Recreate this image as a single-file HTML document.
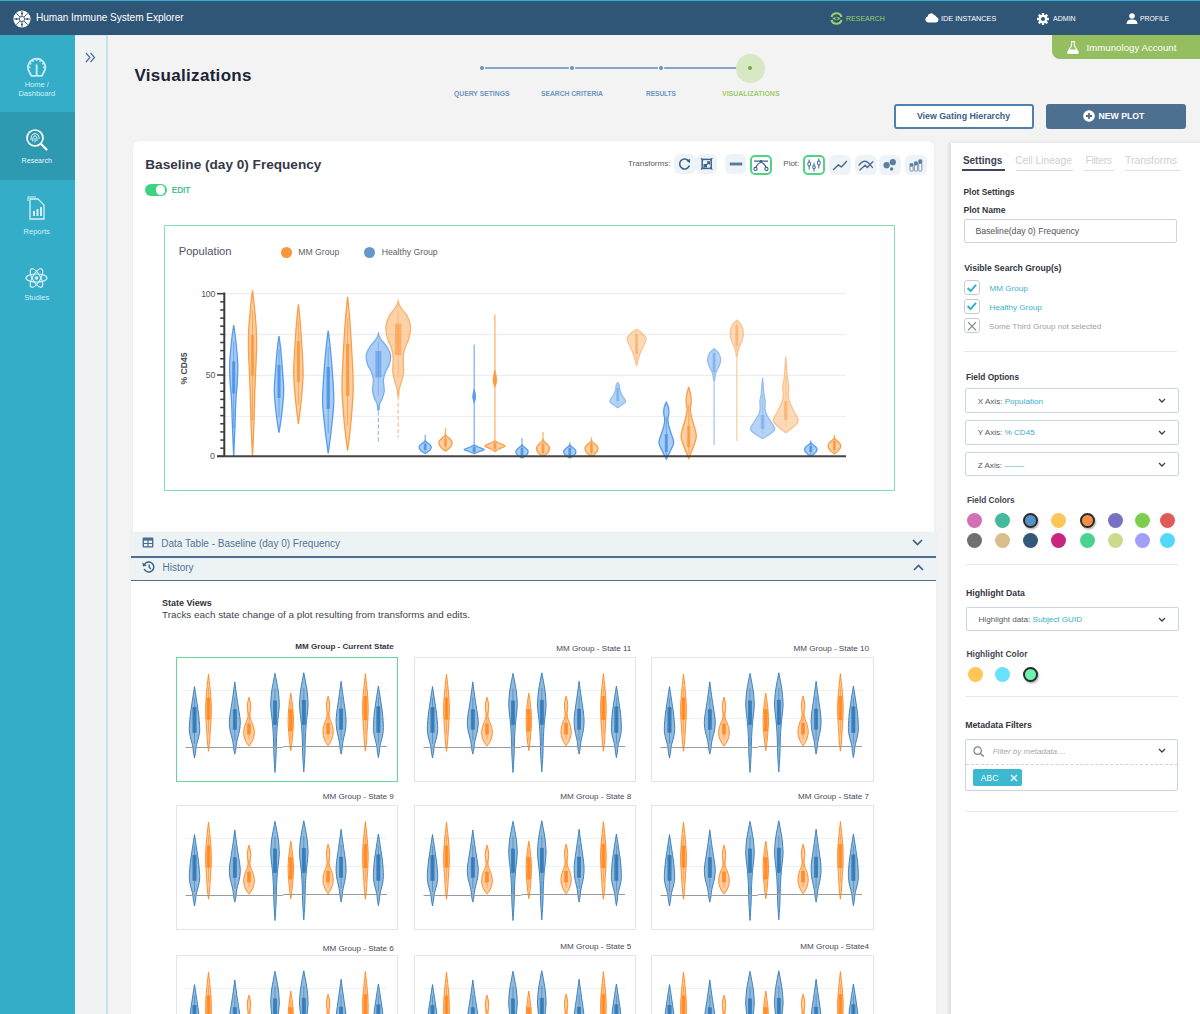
<!DOCTYPE html>
<html><head><meta charset="utf-8">
<style>
*{box-sizing:border-box;margin:0;padding:0}
html,body{width:1200px;height:1014px;overflow:hidden;background:#f3f3f3;font-family:"Liberation Sans",sans-serif;position:relative}
.a{position:absolute}
.t{position:absolute;white-space:nowrap;line-height:1}
svg{position:absolute;overflow:visible}
</style></head><body>

<!-- HEADER -->
<div class="a" style="left:0;top:0;width:1200px;height:35px;background:#2f5677"></div>
<div class="a" style="left:0;top:0;width:1200px;height:1.2px;background:#2fb0cc"></div>
<svg style="left:13px;top:10px" width="18" height="18" viewBox="0 0 18 18">
 <circle cx="9" cy="9" r="8.6" fill="#fff"/>
 <g stroke="#2f5677" stroke-width="0.9" fill="none">
  <line x1="9" y1="1" x2="9" y2="17"/><line x1="1" y1="9" x2="17" y2="9"/>
  <line x1="3.3" y1="3.3" x2="14.7" y2="14.7"/><line x1="14.7" y1="3.3" x2="3.3" y2="14.7"/>
 </g>
 <circle cx="9" cy="9" r="2.6" fill="#fff" stroke="#2f5677" stroke-width="0.9"/>
 <g fill="#2f5677"><circle cx="9" cy="3.6" r="1"/><circle cx="9" cy="14.4" r="1"/><circle cx="3.6" cy="9" r="1"/><circle cx="14.4" cy="9" r="1"/></g>
</svg>
<div class="t" id="apptitle" style="left:36px;top:13.4px;font-size:10.1px;color:#fff;letter-spacing:-0.04px">Human Immune System Explorer</div>

<!-- nav -->
<svg style="left:830px;top:11.5px" width="13" height="13" viewBox="0 0 13 13">
 <path d="M1.5 5 A5.2 5.2 0 0 1 11.5 5" stroke="#9fcd67" stroke-width="2.2" fill="none"/>
 <path d="M1.5 8 A5.2 5.2 0 0 0 11.5 8" stroke="#9fcd67" stroke-width="2.2" fill="none"/>
 <path d="M2.5 6.5 Q6.5 3 10.5 6.5 Q6.5 10 2.5 6.5Z" fill="#9fcd67"/>
 <circle cx="6.5" cy="6.5" r="1.3" fill="#2f5677"/>
</svg>
<div class="t" style="left:845.5px;top:15px;font-size:8px;color:#9fcd67;transform:scaleX(0.875);transform-origin:0 0">RESEARCH</div>
<svg style="left:925px;top:12px" width="14" height="11" viewBox="0 0 14 11">
 <path d="M3.2 10.5 A3 3 0 0 1 2.6 4.6 A3.6 3.6 0 0 1 9.2 3 A3 3 0 0 1 11.4 5 A2.8 2.8 0 0 1 11.2 10.5Z" fill="#fff"/>
</svg>
<div class="t" style="left:940.5px;top:15px;font-size:8px;color:#fff;transform:scaleX(0.91);transform-origin:0 0">IDE INSTANCES</div>
<svg style="left:1037px;top:12.5px" width="12" height="12" viewBox="0 0 12 12">
 <g fill="#fff"><circle cx="6" cy="6" r="4.2"/>
 <rect x="4.8" y="0" width="2.4" height="12" rx="0.5"/>
 <rect x="0" y="4.8" width="12" height="2.4" rx="0.5"/>
 <rect x="4.8" y="0" width="2.4" height="12" rx="0.5" transform="rotate(45 6 6)"/>
 <rect x="4.8" y="0" width="2.4" height="12" rx="0.5" transform="rotate(-45 6 6)"/></g>
 <circle cx="6" cy="6" r="2" fill="#2f5677"/>
</svg>
<div class="t" style="left:1052.5px;top:15px;font-size:8px;color:#fff;transform:scaleX(0.88);transform-origin:0 0">ADMIN</div>
<svg style="left:1125.5px;top:12.5px" width="12" height="11" viewBox="0 0 12 11">
 <circle cx="6" cy="3" r="2.8" fill="#fff"/>
 <path d="M0.5 11 Q0.5 6.6 6 6.6 Q11.5 6.6 11.5 11Z" fill="#fff"/>
</svg>
<div class="t" style="left:1140px;top:15px;font-size:8px;color:#fff;transform:scaleX(0.85);transform-origin:0 0">PROFILE</div>

<!-- account tab -->
<div class="a" style="left:1052px;top:35px;width:148px;height:23.5px;background:#94be5f;border-bottom-left-radius:8px"></div>
<svg style="left:1066.5px;top:40.5px" width="12" height="13" viewBox="0 0 12 13">
 <path d="M4 0.6 H8 M4.6 0.6 V4.6 L0.8 11 Q0.3 12.4 1.8 12.4 H10.2 Q11.7 12.4 11.2 11 L7.4 4.6 V0.6" stroke="#fff" stroke-width="1.1" fill="none"/>
 <path d="M2.6 8.6 H9.4 L11 11.4 Q11.2 12 10.4 12 H1.6 Q0.8 12 1 11.4Z" fill="#fff"/>
</svg>
<div class="t" style="left:1086.5px;top:43px;font-size:9.6px;color:#fff;letter-spacing:0.05px">Immunology Account</div>

<!-- SIDEBAR -->
<div class="a" style="left:0;top:35px;width:75px;height:979px;background:#33adc8"></div>
<div class="a" style="left:0;top:112px;width:75px;height:68px;background:#2e9ab2"></div>
<div class="a" style="left:75px;top:35px;width:33px;height:979px;background:#eff3f4;border-right:2px solid #c4e4ec;border-top:1px solid #cdeaf1"></div>
<svg style="left:85px;top:52px" width="11" height="11" viewBox="0 0 11 11">
 <path d="M1 1 L5 5.5 L1 10 M5.5 1 L9.5 5.5 L5.5 10" stroke="#4d6f92" stroke-width="1.2" fill="none"/>
</svg>


<!-- sidebar items -->
<svg style="left:27px;top:57.5px" width="20" height="19" viewBox="0 0 20 19">
 <path d="M4.4 17.9 L2.15 13.5 A8.6 8.6 0 1 1 17.15 13.5 L14.9 17.9 Z" stroke="#c6e9f1" stroke-width="1.9" fill="none" stroke-linejoin="round"/>
 <g stroke="#c6e9f1" stroke-width="1.5"><line x1="2.20" y1="5.00" x2="4.19" y2="6.15"/><line x1="5.35" y1="1.85" x2="6.50" y2="3.84"/><line x1="9.65" y1="0.70" x2="9.65" y2="3.00"/><line x1="13.95" y1="1.85" x2="12.80" y2="3.84"/><line x1="17.10" y1="5.00" x2="15.11" y2="6.15"/><line x1="18.25" y1="9.30" x2="15.95" y2="9.30"/><line x1="1.05" y1="9.30" x2="3.35" y2="9.30"/></g>
 <line x1="9.65" y1="6.4" x2="9.65" y2="18" stroke="#c6e9f1" stroke-width="1.9"/>
</svg>
<div class="t" style="left:0;width:73.5px;text-align:center;top:80.5px;font-size:7.5px;color:#d4eff5">Home /</div>
<div class="t" style="left:0;width:73.5px;text-align:center;top:89.5px;font-size:7.5px;color:#d4eff5">Dashboard</div>

<svg style="left:25px;top:128px" width="24" height="24" viewBox="0 0 24 24">
 <circle cx="10" cy="10" r="8" stroke="#fff" stroke-width="1.6" fill="none"/>
 <line x1="15.8" y1="15.8" x2="21.5" y2="21.5" stroke="#fff" stroke-width="2.2" stroke-linecap="round"/>
 <g stroke="#fff" stroke-width="0.9" fill="none"><path d="M6 12 Q5.5 6 10 5.6 Q14.4 6 14 11"/><path d="M7.8 13.6 Q7.4 8 10 7.8 Q12.4 8 12 13"/><path d="M10 10 V14.5"/></g>
</svg>
<div class="t" style="left:0;width:73.5px;text-align:center;top:158.3px;font-size:7.1px;color:#e6f5f8">Research</div>

<svg style="left:27px;top:196px" width="19" height="25" viewBox="0 0 19 25">
 <path d="M3 3 H11 L17 9 V23 H3 Z" stroke="#d4eff5" stroke-width="1.3" fill="none"/>
 <path d="M1 5 V1 H9" stroke="#d4eff5" stroke-width="1.1" fill="none"/>
 <rect x="6" y="15" width="2" height="5" fill="#d4eff5"/><rect x="9.5" y="13" width="2" height="7" fill="#d4eff5"/><rect x="13" y="11" width="2" height="9" fill="#d4eff5"/>
</svg>
<div class="t" style="left:0;width:73.5px;text-align:center;top:227.5px;font-size:7.5px;color:#d4eff5">Reports</div>

<svg style="left:25px;top:267px" width="23" height="22" viewBox="0 0 23 22">
 <g stroke="#d4eff5" stroke-width="1.2" fill="none">
 <ellipse cx="11.5" cy="11" rx="10.5" ry="4"/>
 <ellipse cx="11.5" cy="11" rx="10.5" ry="4" transform="rotate(60 11.5 11)"/>
 <ellipse cx="11.5" cy="11" rx="10.5" ry="4" transform="rotate(-60 11.5 11)"/></g>
 <circle cx="11.5" cy="11" r="1.8" fill="#d4eff5"/>
</svg>
<div class="t" style="left:0;width:73.5px;text-align:center;top:294px;font-size:7.5px;color:#d4eff5">Studies</div>

<!-- PAGE TITLE -->
<div class="t" style="left:134.5px;top:67.3px;font-size:17px;font-weight:700;letter-spacing:0.3px;color:#1b2436">Visualizations</div>

<!-- STEPPER -->
<div class="a" style="left:482px;top:67.3px;width:268px;height:2px;background:#86a6c6"></div>
<div class="a" style="left:736px;top:54px;width:28.6px;height:28.6px;border-radius:50%;background:#d6e9c3"></div>
<div class="a" style="left:480px;top:66.3px;width:4.2px;height:4.2px;border-radius:50%;background:#6a92bb;box-shadow:0 0 0 1.2px #f3f3f3"></div>
<div class="a" style="left:569.5px;top:66.3px;width:4.2px;height:4.2px;border-radius:50%;background:#6a92bb;box-shadow:0 0 0 1.2px #f3f3f3"></div>
<div class="a" style="left:658.5px;top:66.3px;width:4.2px;height:4.2px;border-radius:50%;background:#6a92bb;box-shadow:0 0 0 1.2px #f3f3f3"></div>
<div class="a" style="left:748px;top:66.3px;width:4.2px;height:4.2px;border-radius:50%;background:#74a84a"></div>
<div class="t" style="left:454.3px;top:89.5px;font-size:7px;font-weight:700;color:#6d95bd;transform:scaleX(0.97);transform-origin:0 0">QUERY SETINGS</div>
<div class="t" style="left:541px;top:89.5px;font-size:7px;font-weight:700;color:#6d95bd;transform:scaleX(0.96);transform-origin:0 0">SEARCH CRITERIA</div>
<div class="t" style="left:645.7px;top:89.5px;font-size:7px;font-weight:700;color:#6d95bd;transform:scaleX(0.93);transform-origin:0 0">RESULTS</div>
<div class="t" style="left:721.7px;top:89.5px;font-size:7px;font-weight:700;color:#9dcb6b;transform:scaleX(0.995);transform-origin:0 0">VISUALIZATIONS</div>

<!-- BUTTONS -->
<div class="a" style="left:893.5px;top:103.5px;width:140px;height:25.5px;border:2px solid #4e80b0;border-radius:3px;background:#fff;box-shadow:0 0 0 1px #fbefe6"></div>
<div class="t" style="left:893.5px;width:140px;text-align:center;top:112px;font-size:8.8px;font-weight:700;color:#3a6188">View Gating Hierarchy</div>
<div class="a" style="left:1045.5px;top:104px;width:140px;height:24.5px;border-radius:3px;background:#4d7090"></div>
<svg style="left:1083px;top:110px" width="12" height="12" viewBox="0 0 12 12">
 <circle cx="6" cy="6" r="5.8" fill="#fff"/>
 <path d="M6 3 V9 M3 6 H9" stroke="#4d7090" stroke-width="1.8"/>
</svg>
<div class="t" style="left:1098.5px;top:112px;font-size:8.7px;font-weight:700;color:#fff">NEW PLOT</div>

<!-- MAIN CARD -->
<div class="a" style="left:133px;top:141px;width:801px;height:400px;background:#fff;border-radius:6px 6px 0 0;box-shadow:0 0 2px rgba(0,0,0,0.06)"></div>
<div class="a" style="left:131px;top:532px;width:805px;height:490px;background:#fff;box-shadow:0 0 2px rgba(0,0,0,0.06)"></div>

<!-- RIGHT PANEL -->
<div class="a" style="left:951px;top:143px;width:260px;height:880px;background:#fff;box-shadow:-2px 0 3px rgba(0,0,0,0.10)"></div>


<!-- CARD HEADER -->
<div class="t" style="left:145.3px;top:157.6px;font-size:13.6px;font-weight:700;color:#343949">Baseline (day 0) Frequency</div>
<div class="a" style="left:144.5px;top:184px;width:22.5px;height:11.8px;border-radius:6px;background:#3dd383"></div>
<div class="a" style="left:155.8px;top:185.2px;width:9.6px;height:9.6px;border-radius:50%;background:#fff"></div>
<div class="t" style="left:171.7px;top:186.70px;font-size:8.2px;font-weight:700;color:#48c48a">EDIT</div>

<div class="t" style="left:628px;top:159.5px;font-size:8px;color:#555a66">Transforms:</div>
<div class="t" style="left:783.3px;top:159.5px;font-size:8px;color:#555a66">Plot:</div>
<div class="a" style="left:674px;top:154.3px;width:21.5px;height:20px;border-radius:6px;background:#edf3f6"></div>
<div class="a" style="left:695.5px;top:154.3px;width:21.5px;height:20px;border-radius:6px;background:#edf3f6"></div>
<div class="a" style="left:724.5px;top:154.3px;width:21.5px;height:20px;border-radius:6px;background:#edf3f6"></div>
<div class="a" style="left:750px;top:155px;width:22px;height:19.5px;border-radius:5px;background:#fff;border:2px solid #4fd483"></div>
<div class="a" style="left:803.3px;top:155px;width:21.5px;height:19.5px;border-radius:5px;background:#fff;border:2px solid #4fd483"></div>
<div class="a" style="left:828.7px;top:154.5px;width:22px;height:20px;border-radius:6px;background:#edf3f6"></div>
<div class="a" style="left:854.7px;top:154.5px;width:22px;height:20px;border-radius:6px;background:#edf3f6"></div>
<div class="a" style="left:879.3px;top:154.5px;width:22px;height:20px;border-radius:6px;background:#edf3f6"></div>
<div class="a" style="left:905.3px;top:154.5px;width:21.5px;height:20px;border-radius:6px;background:#edf3f6"></div>
<!-- toolbar icons -->
<svg style="left:674px;top:154.3px" width="22" height="20" viewBox="0 0 22 20">
 <path d="M14.8 7.2 A5 5 0 1 0 15.4 11.6" stroke="#3f6489" stroke-width="1.6" fill="none"/>
 <path d="M12.2 6.6 L16.2 5 L15.8 9.2 Z" fill="#3f6489"/>
</svg>
<svg style="left:695.5px;top:154.3px" width="22" height="20" viewBox="0 0 22 20">
 <rect x="6.2" y="5.4" width="9" height="9" stroke="#3f6489" stroke-width="1.5" fill="none"/>
 <path d="M5 4.2 L7.2 6.4 M16.4 4.2 L14.2 6.4 M5 15.6 L7.2 13.4 M16.4 15.6 L14.2 13.4" stroke="#3f6489" stroke-width="1.2"/>
 <path d="M9 12.4 L13.2 8.2 M11 8 H13.4 V10.4" stroke="#3f6489" stroke-width="1.3" fill="none"/>
 <rect x="7.5" y="10" width="3.5" height="3.5" fill="#3f6489"/>
</svg>
<svg style="left:724.5px;top:154.3px" width="22" height="20" viewBox="0 0 22 20">
 <rect x="4.8" y="8.6" width="12.4" height="2.8" fill="#4c6f93"/>
 <line x1="4.8" y1="10" x2="17.2" y2="10" stroke="#7d9ab6" stroke-width="0.5"/>
</svg>
<svg style="left:750px;top:155px" width="22" height="20" viewBox="0 0 22 20">
 <path d="M4 6.2 H18 M5.5 13 Q11 2 16.5 13" stroke="#3f6489" stroke-width="1.2" fill="none"/>
 <circle cx="11" cy="6.3" r="1.3" fill="#3f6489"/>
 <circle cx="5.5" cy="14" r="1.6" stroke="#3f6489" stroke-width="1.1" fill="#fff"/>
 <circle cx="16.5" cy="14" r="1.6" stroke="#3f6489" stroke-width="1.1" fill="#fff"/>
</svg>
<svg style="left:803.3px;top:155px" width="22" height="20" viewBox="0 0 22 20">
 <g stroke="#4a6fa0" stroke-width="1.1" fill="none">
 <line x1="6.2" y1="4.5" x2="6.2" y2="14.5"/><line x1="11" y1="7.8" x2="11" y2="16.5"/><line x1="15.8" y1="3.5" x2="15.8" y2="13.5"/>
 <ellipse cx="6.2" cy="9" rx="1.4" ry="2.1" fill="#fff"/><ellipse cx="11" cy="12.2" rx="1.3" ry="1.6" fill="#fff"/><ellipse cx="15.8" cy="8" rx="1.4" ry="2.1" fill="#fff"/></g>
</svg>
<svg style="left:828.7px;top:154.5px" width="22" height="20" viewBox="0 0 22 20">
 <path d="M4.5 14.5 L9.5 9.8 L12.4 12 L17.4 6.4" stroke="#4c6f93" stroke-width="1.5" fill="none" stroke-linecap="round" stroke-linejoin="round"/>
</svg>
<svg style="left:854.7px;top:154.5px" width="22" height="20" viewBox="0 0 22 20">
 <path d="M4 10 Q9.5 3.6 13.5 8 L17.4 12.4 M4.8 15 L10.2 10.2 L12.4 12.4 L17.8 6.8" stroke="#4c6f93" stroke-width="1.4" fill="none" stroke-linecap="round"/>
</svg>
<svg style="left:879.3px;top:154.5px" width="22" height="20" viewBox="0 0 22 20">
 <circle cx="7.6" cy="10.2" r="3.1" fill="#5a7da0"/><circle cx="13.8" cy="7.2" r="3.1" fill="#5a7da0"/><circle cx="12.6" cy="14" r="1.7" fill="#5a7da0"/>
</svg>
<svg style="left:905.3px;top:154.5px" width="22" height="20" viewBox="0 0 22 20">
 <g stroke="#5a7da0" stroke-width="0.8" fill="#fff"><rect x="5" y="8.6" width="3" height="7.4" rx="0.6"/><rect x="9.4" y="6.8" width="3" height="9.2" rx="0.6"/><rect x="13.8" y="4.8" width="3" height="11.2" rx="0.6"/></g>
 <rect x="5" y="8.6" width="3" height="3" fill="#5a7da0"/><rect x="9.4" y="6.8" width="3" height="3.6" fill="#5a7da0"/><rect x="13.8" y="4.8" width="3" height="4" fill="#5a7da0"/>
</svg>

<!-- CHART FRAME -->
<div class="a" style="left:164.3px;top:225.3px;width:731px;height:265.5px;border:1.5px solid #83e2ae"></div>
<div class="t" style="left:178.7px;top:246.2px;font-size:11.2px;color:#4e5466">Population</div>
<div class="a" style="left:280.7px;top:246.5px;width:11px;height:11px;border-radius:50%;background:#f7963a"></div>
<div class="t" style="left:298.2px;top:248px;font-size:8.7px;color:#5a5f6a">MM Group</div>
<div class="a" style="left:364px;top:246.5px;width:11px;height:11px;border-radius:50%;background:#6597cb"></div>
<div class="t" style="left:381.7px;top:248px;font-size:8.7px;color:#5a5f6a">Healthy Group</div>
<div class="t" style="left:200.5px;top:289.5px;font-size:8.8px;color:#555;width:14.5px;text-align:right;letter-spacing:-0.3px">100</div>
<div class="t" style="left:200.5px;top:371.3px;font-size:8.8px;color:#555;width:14.5px;text-align:right;letter-spacing:-0.3px">50</div>
<div class="t" style="left:200.5px;top:452.3px;font-size:8.8px;color:#555;width:14.5px;text-align:right">0</div>
<div class="t" style="left:154px;top:363.5px;width:60px;text-align:center;font-size:8.6px;font-weight:700;color:#4a4e58;transform:rotate(-90deg);transform-origin:30px 4.5px">% CD45</div>
<svg style="left:0;top:0" width="1200" height="1014" viewBox="0 0 1200 1014">
<line x1="225" y1="293.7" x2="846" y2="293.7" stroke="#eeeeee" stroke-width="1.3"/>
<line x1="225" y1="334.5" x2="846" y2="334.5" stroke="#eeeeee" stroke-width="1.3"/>
<line x1="225" y1="375.5" x2="846" y2="375.5" stroke="#eeeeee" stroke-width="1.3"/>
<line x1="225" y1="416.3" x2="846" y2="416.3" stroke="#eeeeee" stroke-width="1.3"/>
<path d="M233.70 325.00 C233.99 327.08 234.99 333.68 235.50 338.00 C236.01 342.32 236.53 347.52 236.90 352.00 C237.27 356.48 237.74 361.20 237.80 366.00 C237.86 370.80 237.60 376.56 237.30 382.00 C237.00 387.44 236.27 393.12 235.90 400.00 C235.53 406.88 235.35 415.88 235.00 425.00 C234.65 434.12 233.91 451.88 233.70 457.00 L233.70 457.00 C233.49 451.88 232.75 434.12 232.40 425.00 C232.05 415.88 231.87 406.88 231.50 400.00 C231.13 393.12 230.40 387.44 230.10 382.00 C229.80 376.56 229.54 370.80 229.60 366.00 C229.66 361.20 230.13 356.48 230.50 352.00 C230.87 347.52 231.39 342.32 231.90 338.00 C232.41 333.68 233.41 327.08 233.70 325.00 Z" fill="rgba(92,160,236,0.52)" stroke="#559cec" stroke-width="1.3"/>
<line x1="233.7" y1="341.43" x2="233.7" y2="428.34" stroke="#559cec" stroke-width="1" opacity="0.8"/>
<rect x="232.10" y="361.5" width="3.2" height="31.80" fill="rgba(70,142,228,0.8)"/>
<path d="M252.50 290.30 C252.85 293.45 254.09 303.65 254.70 310.00 C255.31 316.35 256.01 323.60 256.30 330.00 C256.59 336.40 256.60 343.60 256.50 350.00 C256.40 356.40 255.99 362.80 255.70 370.00 C255.41 377.20 254.99 386.20 254.70 395.00 C254.41 403.80 254.25 415.08 253.90 425.00 C253.55 434.92 252.72 451.88 252.50 457.00 L252.50 457.00 C252.28 451.88 251.45 434.92 251.10 425.00 C250.75 415.08 250.59 403.80 250.30 395.00 C250.01 386.20 249.59 377.20 249.30 370.00 C249.01 362.80 248.60 356.40 248.50 350.00 C248.40 343.60 248.41 336.40 248.70 330.00 C248.99 323.60 249.69 316.35 250.30 310.00 C250.91 303.65 252.15 293.45 252.50 290.30 Z" fill="rgba(251,163,80,0.52)" stroke="#fb9d45" stroke-width="1.3"/>
<line x1="252.5" y1="310.42" x2="252.5" y2="420.32" stroke="#fb9d45" stroke-width="1" opacity="0.8"/>
<rect x="250.90" y="335" width="3.2" height="40.50" fill="rgba(250,152,60,0.85)"/>
<path d="M279.00 336.00 C279.29 338.24 280.27 344.88 280.80 350.00 C281.33 355.12 281.84 361.60 282.30 368.00 C282.76 374.40 283.68 383.60 283.70 390.00 C283.72 396.40 282.83 403.20 282.40 408.00 C281.97 412.80 281.54 416.05 281.00 420.00 C280.46 423.95 279.32 430.67 279.00 432.70 L279.00 432.70 C278.68 430.67 277.54 423.95 277.00 420.00 C276.46 416.05 276.03 412.80 275.60 408.00 C275.17 403.20 274.28 396.40 274.30 390.00 C274.32 383.60 275.24 374.40 275.70 368.00 C276.16 361.60 276.67 355.12 277.20 350.00 C277.73 344.88 278.71 338.24 279.00 336.00 Z" fill="rgba(92,160,236,0.52)" stroke="#559cec" stroke-width="1.3"/>
<line x1="279" y1="349.05" x2="279" y2="417.08" stroke="#559cec" stroke-width="1" opacity="0.8"/>
<rect x="277.40" y="365" width="3.2" height="33.00" fill="rgba(70,142,228,0.8)"/>
<path d="M298.40 304.40 C298.69 307.22 299.66 315.50 300.20 322.00 C300.74 328.50 301.34 337.00 301.80 345.00 C302.26 353.00 303.07 364.48 303.10 372.00 C303.13 379.52 302.43 386.24 302.00 392.00 C301.57 397.76 300.98 402.88 300.40 408.00 C299.82 413.12 298.72 421.44 298.40 424.00 L298.40 424.00 C298.08 421.44 296.98 413.12 296.40 408.00 C295.82 402.88 295.23 397.76 294.80 392.00 C294.37 386.24 293.67 379.52 293.70 372.00 C293.73 364.48 294.54 353.00 295.00 345.00 C295.46 337.00 296.06 328.50 296.60 322.00 C297.14 315.50 298.11 307.22 298.40 304.40 Z" fill="rgba(251,163,80,0.52)" stroke="#fb9d45" stroke-width="1.3"/>
<line x1="298.4" y1="320.87" x2="298.4" y2="405.10" stroke="#fb9d45" stroke-width="1" opacity="0.8"/>
<rect x="296.80" y="341" width="3.2" height="41.00" fill="rgba(250,152,60,0.85)"/>
<path d="M328.20 330.60 C328.57 333.70 329.76 342.42 330.50 350.00 C331.24 357.58 332.27 369.68 332.80 378.00 C333.33 386.32 333.96 394.48 333.80 402.00 C333.64 409.52 332.41 418.92 331.80 425.00 C331.19 431.08 330.58 435.47 330.00 440.00 C329.42 444.53 328.49 451.17 328.20 453.30 L328.20 453.30 C327.91 451.17 326.98 444.53 326.40 440.00 C325.82 435.47 325.21 431.08 324.60 425.00 C323.99 418.92 322.76 409.52 322.60 402.00 C322.44 394.48 323.07 386.32 323.60 378.00 C324.13 369.68 325.16 357.58 325.90 350.00 C326.64 342.42 327.83 333.70 328.20 330.60 Z" fill="rgba(92,160,236,0.52)" stroke="#559cec" stroke-width="1.3"/>
<line x1="328.2" y1="346.98" x2="328.2" y2="433.37" stroke="#559cec" stroke-width="1" opacity="0.8"/>
<rect x="326.50" y="367" width="3.4" height="42.00" fill="rgba(70,142,228,0.8)"/>
<path d="M347.60 296.90 C347.95 300.60 349.13 311.18 349.80 320.00 C350.47 328.82 351.26 341.44 351.80 352.00 C352.34 362.56 353.23 375.92 353.20 386.00 C353.17 396.08 352.18 407.16 351.60 415.00 C351.02 422.84 350.24 429.32 349.60 435.00 C348.96 440.68 347.92 448.02 347.60 450.50 L347.60 450.50 C347.28 448.02 346.24 440.68 345.60 435.00 C344.96 429.32 344.18 422.84 343.60 415.00 C343.02 407.16 342.03 396.08 342.00 386.00 C341.97 375.92 342.86 362.56 343.40 352.00 C343.94 341.44 344.73 328.82 345.40 320.00 C346.07 311.18 347.25 300.60 347.60 296.90 Z" fill="rgba(251,163,80,0.52)" stroke="#fb9d45" stroke-width="1.3"/>
<line x1="347.6" y1="317.96" x2="347.6" y2="425.98" stroke="#fb9d45" stroke-width="1" opacity="0.8"/>
<rect x="345.90" y="343.7" width="3.4" height="52.30" fill="rgba(250,152,60,0.85)"/>
<line x1="378.4" y1="405" x2="378.4" y2="443" stroke="#78aeee" stroke-width="1.2" opacity="0.8" stroke-dasharray="4 2.5"/>
<path d="M378.40 333.40 C378.56 333.98 378.82 335.78 379.40 337.00 C379.98 338.22 380.78 339.40 382.00 341.00 C383.22 342.60 385.62 344.76 387.00 347.00 C388.38 349.24 390.22 352.28 390.60 355.00 C390.98 357.72 390.23 361.28 389.40 364.00 C388.57 366.72 386.36 369.44 385.40 372.00 C384.44 374.56 383.59 376.96 383.40 380.00 C383.21 383.04 384.42 387.96 384.20 391.00 C383.98 394.04 382.74 396.92 382.00 399.00 C381.26 401.08 380.08 402.24 379.60 404.00 C379.12 405.76 379.10 409.04 379.00 410.00 L377.80 410.00 C377.70 409.04 377.68 405.76 377.20 404.00 C376.72 402.24 375.54 401.08 374.80 399.00 C374.06 396.92 372.82 394.04 372.60 391.00 C372.38 387.96 373.59 383.04 373.40 380.00 C373.21 376.96 372.36 374.56 371.40 372.00 C370.44 369.44 368.23 366.72 367.40 364.00 C366.57 361.28 365.82 357.72 366.20 355.00 C366.58 352.28 368.42 349.24 369.80 347.00 C371.18 344.76 373.58 342.60 374.80 341.00 C376.02 339.40 376.82 338.22 377.40 337.00 C377.98 335.78 378.24 333.98 378.40 333.40 Z" fill="rgba(100,162,236,0.55)" stroke="#78aeee" stroke-width="1.3"/>
<line x1="378.4" y1="341.32" x2="378.4" y2="395.33" stroke="#78aeee" stroke-width="1" opacity="0.8"/>
<rect x="375.40" y="351" width="6" height="26.40" fill="rgba(84,152,230,0.6)"/>
<line x1="398.2" y1="390" x2="398.2" y2="437.4" stroke="#fbb070" stroke-width="1.2" opacity="0.8" stroke-dasharray="4 2.5"/>
<path d="M398.20 301.00 C398.36 301.56 398.62 303.22 399.20 304.50 C399.78 305.78 400.52 307.16 401.80 309.00 C403.08 310.84 405.79 313.12 407.20 316.00 C408.61 318.88 410.36 323.32 410.60 327.00 C410.84 330.68 409.64 335.48 408.70 339.00 C407.76 342.52 405.58 345.96 404.70 349.00 C403.82 352.04 403.38 354.32 403.20 358.00 C403.02 361.68 403.89 368.16 403.60 372.00 C403.31 375.84 402.10 379.28 401.40 382.00 C400.70 384.72 399.63 386.76 399.20 389.00 C398.77 391.24 398.78 394.88 398.70 396.00 L397.70 396.00 C397.62 394.88 397.63 391.24 397.20 389.00 C396.77 386.76 395.70 384.72 395.00 382.00 C394.30 379.28 393.09 375.84 392.80 372.00 C392.51 368.16 393.38 361.68 393.20 358.00 C393.02 354.32 392.58 352.04 391.70 349.00 C390.82 345.96 388.64 342.52 387.70 339.00 C386.76 335.48 385.56 330.68 385.80 327.00 C386.04 323.32 387.79 318.88 389.20 316.00 C390.61 313.12 393.32 310.84 394.60 309.00 C395.88 307.16 396.62 305.78 397.20 304.50 C397.78 303.22 398.04 301.56 398.20 301.00 Z" fill="rgba(252,168,90,0.52)" stroke="#fbb26e" stroke-width="1.3"/>
<line x1="398.2" y1="311.12" x2="398.2" y2="377.55" stroke="#fbb26e" stroke-width="1" opacity="0.8"/>
<rect x="395.00" y="323.5" width="6.4" height="31.50" fill="rgba(250,156,70,0.65)"/>
<line x1="425.2" y1="434.8" x2="425.2" y2="441" stroke="#559cec" stroke-width="1.2" opacity="0.8"/>
<path d="M425.20 440.50 C425.34 440.70 425.56 441.26 426.10 441.76 C426.64 442.26 427.85 443.01 428.60 443.65 C429.35 444.29 430.37 445.13 430.80 445.75 C431.23 446.37 431.40 446.84 431.30 447.50 C431.20 448.16 430.76 449.18 430.20 449.90 C429.64 450.62 428.60 451.42 427.80 452.00 C427.00 452.58 425.62 453.26 425.20 453.50 L425.20 453.50 C424.78 453.26 423.40 452.58 422.60 452.00 C421.80 451.42 420.76 450.62 420.20 449.90 C419.64 449.18 419.20 448.16 419.10 447.50 C419.00 446.84 419.17 446.37 419.60 445.75 C420.03 445.13 421.05 444.29 421.80 443.65 C422.55 443.01 423.76 442.26 424.30 441.76 C424.84 441.26 425.06 440.70 425.20 440.50 Z" fill="rgba(92,160,236,0.52)" stroke="#559cec" stroke-width="1.3"/>
<line x1="425.2" y1="442.07" x2="425.2" y2="451.93" stroke="#559cec" stroke-width="1" opacity="0.8"/>
<rect x="423.80" y="444" width="2.8" height="6.00" fill="rgba(70,142,228,0.8)"/>
<line x1="445.5" y1="427.8" x2="445.5" y2="434.8" stroke="#fb9d45" stroke-width="1.2" opacity="0.8"/>
<path d="M445.50 434.30 C445.64 434.55 445.81 435.24 446.40 435.87 C446.99 436.49 448.35 437.42 449.18 438.22 C450.00 439.01 451.09 440.06 451.56 440.82 C452.03 441.59 452.20 442.14 452.10 443.00 C452.00 443.86 451.52 445.24 450.91 446.20 C450.30 447.16 449.18 448.23 448.31 449.00 C447.45 449.77 445.95 450.68 445.50 451.00 L445.50 451.00 C445.05 450.68 443.55 449.77 442.69 449.00 C441.82 448.23 440.70 447.16 440.09 446.20 C439.48 445.24 439.00 443.86 438.90 443.00 C438.80 442.14 438.97 441.59 439.44 440.82 C439.91 440.06 441.00 439.01 441.82 438.22 C442.65 437.42 444.01 436.49 444.60 435.87 C445.19 435.24 445.36 434.55 445.50 434.30 Z" fill="rgba(251,163,80,0.52)" stroke="#fb9d45" stroke-width="1.3"/>
<line x1="445.5" y1="436.19" x2="445.5" y2="448.98" stroke="#fb9d45" stroke-width="1" opacity="0.8"/>
<rect x="444.10" y="438.5" width="2.8" height="8.00" fill="rgba(250,152,60,0.85)"/>
<line x1="474.2" y1="344.6" x2="474.2" y2="445" stroke="#559cec" stroke-width="1.2" opacity="0.8"/>
<path d="M474.20 445.00 C474.84 445.32 476.60 446.26 478.20 447.00 C479.80 447.74 484.04 448.88 484.20 449.60 C484.36 450.32 480.80 450.84 479.20 451.50 C477.60 452.16 475.00 453.35 474.20 453.70 L474.20 453.70 C473.40 453.35 470.80 452.16 469.20 451.50 C467.60 450.84 464.04 450.32 464.20 449.60 C464.36 448.88 468.60 447.74 470.20 447.00 C471.80 446.26 473.56 445.32 474.20 445.00 Z" fill="rgba(92,160,236,0.52)" stroke="#559cec" stroke-width="1.3"/>
<line x1="474.2" y1="445.90" x2="474.2" y2="452.94" stroke="#559cec" stroke-width="1" opacity="0.8"/>
<rect x="472.70" y="447" width="3" height="5.00" fill="rgba(70,142,228,0.8)"/>
<line x1="494.9" y1="314.4" x2="494.9" y2="440.9" stroke="#fb9d45" stroke-width="1.2" opacity="0.8"/>
<path d="M494.90 440.90 C495.54 441.24 497.30 442.18 498.90 443.00 C500.50 443.82 504.74 445.12 504.90 446.00 C505.06 446.88 501.50 447.64 499.90 448.50 C498.30 449.36 495.70 450.94 494.90 451.40 L494.90 451.40 C494.10 450.94 491.50 449.36 489.90 448.50 C488.30 447.64 484.74 446.88 484.90 446.00 C485.06 445.12 489.30 443.82 490.90 443.00 C492.50 442.18 494.26 441.24 494.90 440.90 Z" fill="rgba(251,163,80,0.52)" stroke="#fb9d45" stroke-width="1.3"/>
<line x1="494.9" y1="441.84" x2="494.9" y2="450.32" stroke="#fb9d45" stroke-width="1" opacity="0.8"/>
<rect x="493.40" y="443" width="3" height="6.00" fill="rgba(250,152,60,0.85)"/>
<line x1="522" y1="438.3" x2="522" y2="445.3" stroke="#559cec" stroke-width="1.2" opacity="0.8"/>
<path d="M522.00 444.80 C522.14 445.00 522.36 445.56 522.90 446.06 C523.44 446.56 524.65 447.31 525.40 447.95 C526.15 448.59 527.17 449.43 527.60 450.05 C528.03 450.67 528.20 451.12 528.10 451.80 C528.00 452.48 527.56 453.54 527.00 454.28 C526.44 455.02 525.40 455.85 524.60 456.45 C523.80 457.05 522.42 457.75 522.00 458.00 L522.00 458.00 C521.58 457.75 520.20 457.05 519.40 456.45 C518.60 455.85 517.56 455.02 517.00 454.28 C516.44 453.54 516.00 452.48 515.90 451.80 C515.80 451.12 515.97 450.67 516.40 450.05 C516.83 449.43 517.85 448.59 518.60 447.95 C519.35 447.31 520.56 446.56 521.10 446.06 C521.64 445.56 521.86 445.00 522.00 444.80 Z" fill="rgba(92,160,236,0.52)" stroke="#559cec" stroke-width="1.3"/>
<line x1="522" y1="446.24" x2="522" y2="456.65" stroke="#559cec" stroke-width="1" opacity="0.8"/>
<rect x="520.60" y="448" width="2.8" height="7.00" fill="rgba(70,142,228,0.8)"/>
<line x1="543" y1="432" x2="543" y2="440" stroke="#fb9d45" stroke-width="1.2" opacity="0.8"/>
<path d="M543.00 439.50 C543.14 439.77 543.32 440.50 543.90 441.17 C544.48 441.84 545.81 442.84 546.62 443.69 C547.43 444.53 548.51 445.66 548.97 446.48 C549.43 447.29 549.60 447.95 549.50 448.80 C549.40 449.65 548.92 450.90 548.33 451.80 C547.73 452.70 546.62 453.70 545.77 454.43 C544.92 455.15 543.44 456.00 543.00 456.30 L543.00 456.30 C542.56 456.00 541.08 455.15 540.23 454.43 C539.38 453.70 538.27 452.70 537.67 451.80 C537.08 450.90 536.60 449.65 536.50 448.80 C536.40 447.95 536.57 447.29 537.03 446.48 C537.49 445.66 538.57 444.53 539.38 443.69 C540.19 442.84 541.52 441.84 542.10 441.17 C542.68 440.50 542.86 439.77 543.00 439.50 Z" fill="rgba(251,163,80,0.52)" stroke="#fb9d45" stroke-width="1.3"/>
<line x1="543" y1="441.52" x2="543" y2="454.81" stroke="#fb9d45" stroke-width="1" opacity="0.8"/>
<rect x="541.60" y="444" width="2.8" height="9.00" fill="rgba(250,152,60,0.85)"/>
<line x1="569.8" y1="442.6" x2="569.8" y2="445.3" stroke="#559cec" stroke-width="1.2" opacity="0.8"/>
<path d="M569.80 444.80 C569.94 445.00 570.16 445.56 570.70 446.06 C571.24 446.56 572.45 447.31 573.20 447.95 C573.95 448.59 574.97 449.43 575.40 450.05 C575.83 450.67 576.00 451.12 575.90 451.80 C575.80 452.48 575.36 453.54 574.80 454.28 C574.24 455.02 573.20 455.85 572.40 456.45 C571.60 457.05 570.22 457.75 569.80 458.00 L569.80 458.00 C569.38 457.75 568.00 457.05 567.20 456.45 C566.40 455.85 565.36 455.02 564.80 454.28 C564.24 453.54 563.80 452.48 563.70 451.80 C563.60 451.12 563.77 450.67 564.20 450.05 C564.63 449.43 565.65 448.59 566.40 447.95 C567.15 447.31 568.36 446.56 568.90 446.06 C569.44 445.56 569.66 445.00 569.80 444.80 Z" fill="rgba(92,160,236,0.52)" stroke="#559cec" stroke-width="1.3"/>
<line x1="569.8" y1="446.24" x2="569.8" y2="456.65" stroke="#559cec" stroke-width="1" opacity="0.8"/>
<rect x="568.40" y="448" width="2.8" height="7.00" fill="rgba(70,142,228,0.8)"/>
<line x1="591.5" y1="437.4" x2="591.5" y2="440.9" stroke="#fb9d45" stroke-width="1.2" opacity="0.8"/>
<path d="M591.50 440.40 C591.64 440.64 591.82 441.31 592.40 441.91 C592.98 442.52 594.31 443.41 595.12 444.18 C595.93 444.95 597.01 445.96 597.47 446.70 C597.93 447.44 598.10 447.98 598.00 448.80 C597.90 449.62 597.42 450.90 596.83 451.80 C596.23 452.70 595.12 453.70 594.27 454.43 C593.42 455.15 591.94 456.00 591.50 456.30 L591.50 456.30 C591.06 456.00 589.58 455.15 588.73 454.43 C587.88 453.70 586.77 452.70 586.17 451.80 C585.58 450.90 585.10 449.62 585.00 448.80 C584.90 447.98 585.07 447.44 585.53 446.70 C585.99 445.96 587.07 444.95 587.88 444.18 C588.69 443.41 590.02 442.52 590.60 441.91 C591.18 441.31 591.36 440.64 591.50 440.40 Z" fill="rgba(251,163,80,0.52)" stroke="#fb9d45" stroke-width="1.3"/>
<line x1="591.5" y1="442.02" x2="591.5" y2="454.81" stroke="#fb9d45" stroke-width="1" opacity="0.8"/>
<rect x="590.10" y="444" width="2.8" height="9.00" fill="rgba(250,152,60,0.85)"/>
<path d="M617.70 382.60 C617.94 382.98 618.85 383.82 619.20 385.00 C619.55 386.18 619.47 388.40 619.90 390.00 C620.33 391.60 620.99 393.21 621.90 395.00 C622.81 396.79 625.55 399.68 625.60 401.20 C625.65 402.72 623.46 403.44 622.20 404.50 C620.94 405.56 618.42 407.27 617.70 407.80 L617.70 407.80 C616.98 407.27 614.46 405.56 613.20 404.50 C611.94 403.44 609.75 402.72 609.80 401.20 C609.85 399.68 612.59 396.79 613.50 395.00 C614.41 393.21 615.07 391.60 615.50 390.00 C615.93 388.40 615.85 386.18 616.20 385.00 C616.55 383.82 617.46 382.98 617.70 382.60 Z" fill="rgba(110,168,236,0.5)" stroke="#94c0f0" stroke-width="1.3"/>
<line x1="617.7" y1="385.03" x2="617.7" y2="404.74" stroke="#94c0f0" stroke-width="1" opacity="0.8"/>
<rect x="616.20" y="388" width="3" height="13.00" fill="rgba(96,158,232,0.45)"/>
<path d="M636.60 329.30 C637.24 329.73 639.08 330.54 640.60 332.00 C642.12 333.46 645.59 336.32 646.10 338.40 C646.61 340.48 644.68 342.82 643.80 345.00 C642.92 347.18 641.43 349.92 640.60 352.00 C639.77 354.08 639.24 355.76 638.60 358.00 C637.96 360.24 636.92 364.72 636.60 366.00 L636.60 366.00 C636.28 364.72 635.24 360.24 634.60 358.00 C633.96 355.76 633.43 354.08 632.60 352.00 C631.77 349.92 630.28 347.18 629.40 345.00 C628.52 342.82 626.59 340.48 627.10 338.40 C627.61 336.32 631.08 333.46 632.60 332.00 C634.12 330.54 635.96 329.73 636.60 329.30 Z" fill="rgba(252,172,98,0.45)" stroke="#fbc28c" stroke-width="1.3"/>
<line x1="636.6" y1="331.42" x2="636.6" y2="360.60" stroke="#fbc28c" stroke-width="1" opacity="0.8"/>
<rect x="635.10" y="334" width="3" height="20.00" fill="rgba(250,160,80,0.5)"/>
<path d="M666.30 402.30 C666.62 403.05 667.88 405.29 668.30 407.00 C668.72 408.71 668.96 411.08 668.90 413.00 C668.84 414.92 667.93 416.92 667.90 419.00 C667.87 421.08 668.16 423.60 668.70 426.00 C669.24 428.40 670.50 431.36 671.30 434.00 C672.10 436.64 673.78 439.94 673.70 442.50 C673.62 445.06 671.98 447.34 670.80 450.00 C669.62 452.66 667.02 457.64 666.30 459.10 L666.30 459.10 C665.58 457.64 662.98 452.66 661.80 450.00 C660.62 447.34 658.98 445.06 658.90 442.50 C658.82 439.94 660.50 436.64 661.30 434.00 C662.10 431.36 663.36 428.40 663.90 426.00 C664.44 423.60 664.73 421.08 664.70 419.00 C664.67 416.92 663.76 414.92 663.70 413.00 C663.64 411.08 663.88 408.71 664.30 407.00 C664.72 405.29 665.98 403.05 666.30 402.30 Z" fill="rgba(92,160,236,0.52)" stroke="#559cec" stroke-width="1.3"/>
<line x1="666.3" y1="416.56" x2="666.3" y2="455.91" stroke="#559cec" stroke-width="1" opacity="0.8"/>
<rect x="664.80" y="434" width="3" height="18.00" fill="rgba(70,142,228,0.8)"/>
<path d="M688.70 387.00 C689.02 388.28 690.28 392.60 690.70 395.00 C691.12 397.40 691.36 399.76 691.30 402.00 C691.24 404.24 690.24 406.44 690.30 409.00 C690.36 411.56 691.00 414.96 691.70 418.00 C692.40 421.04 693.96 424.96 694.70 428.00 C695.44 431.04 696.46 434.12 696.30 437.00 C696.14 439.88 694.92 442.59 693.70 446.00 C692.48 449.41 689.50 456.33 688.70 458.30 L688.70 458.30 C687.90 456.33 684.92 449.41 683.70 446.00 C682.48 442.59 681.26 439.88 681.10 437.00 C680.94 434.12 681.96 431.04 682.70 428.00 C683.44 424.96 685.00 421.04 685.70 418.00 C686.40 414.96 687.04 411.56 687.10 409.00 C687.16 406.44 686.16 404.24 686.10 402.00 C686.04 399.76 686.28 397.40 686.70 395.00 C687.12 392.60 688.38 388.28 688.70 387.00 Z" fill="rgba(251,163,80,0.52)" stroke="#fb9d45" stroke-width="1.3"/>
<line x1="688.7" y1="404.55" x2="688.7" y2="453.22" stroke="#fb9d45" stroke-width="1" opacity="0.8"/>
<rect x="687.20" y="426" width="3" height="21.00" fill="rgba(250,152,60,0.85)"/>
<line x1="714.1" y1="377" x2="714.1" y2="445" stroke="#8ab8ee" stroke-width="1.2" opacity="0.8"/>
<path d="M714.10 348.70 C714.82 349.39 717.54 351.24 718.60 353.00 C719.66 354.76 720.62 357.62 720.70 359.70 C720.78 361.78 719.84 364.03 719.10 366.00 C718.36 367.97 716.77 370.24 716.10 372.00 C715.43 373.76 715.14 375.72 714.90 377.00 C714.66 378.28 714.65 379.52 714.60 380.00 L713.60 380.00 C713.55 379.52 713.54 378.28 713.30 377.00 C713.06 375.72 712.77 373.76 712.10 372.00 C711.43 370.24 709.84 367.97 709.10 366.00 C708.36 364.03 707.42 361.78 707.50 359.70 C707.58 357.62 708.54 354.76 709.60 353.00 C710.66 351.24 713.38 349.39 714.10 348.70 Z" fill="rgba(110,168,236,0.5)" stroke="#94c0f0" stroke-width="1.3"/>
<line x1="714.1" y1="350.63" x2="714.1" y2="376.40" stroke="#94c0f0" stroke-width="1" opacity="0.8"/>
<rect x="712.60" y="353" width="3" height="19.00" fill="rgba(96,158,232,0.45)"/>
<line x1="736.8" y1="353" x2="736.8" y2="441" stroke="#fbbf88" stroke-width="1.2" opacity="0.8"/>
<path d="M736.80 320.30 C737.52 321.05 740.24 322.86 741.30 325.00 C742.36 327.14 743.32 331.14 743.40 333.70 C743.48 336.26 742.54 338.71 741.80 341.00 C741.06 343.29 739.47 346.08 738.80 348.00 C738.13 349.92 737.84 351.72 737.60 353.00 C737.36 354.28 737.35 355.52 737.30 356.00 L736.30 356.00 C736.25 355.52 736.24 354.28 736.00 353.00 C735.76 351.72 735.47 349.92 734.80 348.00 C734.13 346.08 732.54 343.29 731.80 341.00 C731.06 338.71 730.12 336.26 730.20 333.70 C730.28 331.14 731.24 327.14 732.30 325.00 C733.36 322.86 736.08 321.05 736.80 320.30 Z" fill="rgba(252,172,98,0.45)" stroke="#fbc28c" stroke-width="1.3"/>
<line x1="736.8" y1="322.42" x2="736.8" y2="351.50" stroke="#fbc28c" stroke-width="1" opacity="0.8"/>
<rect x="735.30" y="325" width="3" height="21.00" fill="rgba(250,160,80,0.5)"/>
<path d="M762.60 377.90 C762.84 380.59 763.67 390.97 764.10 394.70 C764.53 398.43 765.16 398.94 765.30 401.20 C765.44 403.46 764.76 406.59 765.00 408.80 C765.24 411.01 765.82 412.89 766.80 415.00 C767.78 417.11 769.82 419.78 771.10 422.00 C772.38 424.22 774.88 427.06 774.80 428.90 C774.72 430.74 772.55 431.93 770.60 433.50 C768.65 435.07 763.88 437.87 762.60 438.70 L762.60 438.70 C761.32 437.87 756.55 435.07 754.60 433.50 C752.65 431.93 750.48 430.74 750.40 428.90 C750.32 427.06 752.82 424.22 754.10 422.00 C755.38 419.78 757.42 417.11 758.40 415.00 C759.38 412.89 759.96 411.01 760.20 408.80 C760.44 406.59 759.76 403.46 759.90 401.20 C760.04 398.94 760.67 398.43 761.10 394.70 C761.53 390.97 762.36 380.59 762.60 377.90 Z" fill="rgba(110,168,236,0.5)" stroke="#94c0f0" stroke-width="1.3"/>
<line x1="762.6" y1="394.59" x2="762.6" y2="434.33" stroke="#94c0f0" stroke-width="1" opacity="0.8"/>
<rect x="760.80" y="415" width="3.6" height="14.00" fill="rgba(96,158,232,0.45)"/>
<path d="M785.80 356.70 C786.04 360.01 786.82 372.71 787.30 377.40 C787.78 382.09 788.64 383.06 788.80 386.00 C788.96 388.94 788.11 393.08 788.30 395.80 C788.49 398.52 789.04 400.41 790.00 403.00 C790.96 405.59 792.97 409.25 794.30 412.00 C795.63 414.75 798.22 418.04 798.30 420.20 C798.38 422.36 796.80 423.50 794.80 425.50 C792.80 427.50 787.24 431.55 785.80 432.70 L785.80 432.70 C784.36 431.55 778.80 427.50 776.80 425.50 C774.80 423.50 773.22 422.36 773.30 420.20 C773.38 418.04 775.97 414.75 777.30 412.00 C778.63 409.25 780.64 405.59 781.60 403.00 C782.56 400.41 783.11 398.52 783.30 395.80 C783.49 393.08 782.64 388.94 782.80 386.00 C782.96 383.06 783.82 382.09 784.30 377.40 C784.78 372.71 785.56 360.01 785.80 356.70 Z" fill="rgba(252,172,98,0.45)" stroke="#fbc28c" stroke-width="1.3"/>
<line x1="785.8" y1="376.63" x2="785.8" y2="426.99" stroke="#fbc28c" stroke-width="1" opacity="0.8"/>
<rect x="784.00" y="401" width="3.6" height="19.00" fill="rgba(250,160,80,0.5)"/>
<line x1="810.8" y1="440.3" x2="810.8" y2="443" stroke="#559cec" stroke-width="1.2" opacity="0.8"/>
<path d="M810.80 442.50 C810.94 442.70 811.15 443.27 811.70 443.78 C812.25 444.29 813.49 445.05 814.26 445.69 C815.02 446.34 816.05 447.20 816.49 447.83 C816.93 448.45 817.10 448.91 817.00 449.60 C816.90 450.29 816.45 451.39 815.88 452.16 C815.31 452.93 814.26 453.79 813.44 454.40 C812.63 455.01 811.22 455.74 810.80 456.00 L810.80 456.00 C810.38 455.74 808.97 455.01 808.16 454.40 C807.34 453.79 806.29 452.93 805.72 452.16 C805.15 451.39 804.70 450.29 804.60 449.60 C804.50 448.91 804.67 448.45 805.11 447.83 C805.55 447.20 806.58 446.34 807.34 445.69 C808.11 445.05 809.35 444.29 809.90 443.78 C810.45 443.27 810.66 442.70 810.80 442.50 Z" fill="rgba(92,160,236,0.52)" stroke="#559cec" stroke-width="1.3"/>
<line x1="810.8" y1="444.07" x2="810.8" y2="454.20" stroke="#559cec" stroke-width="1" opacity="0.8"/>
<rect x="809.40" y="446" width="2.8" height="6.00" fill="rgba(70,142,228,0.8)"/>
<line x1="834.4" y1="434.9" x2="834.4" y2="438.1" stroke="#fb9d45" stroke-width="1.2" opacity="0.8"/>
<path d="M834.40 437.60 C834.54 437.84 834.74 438.52 835.30 439.13 C835.86 439.74 837.13 440.65 837.91 441.43 C838.69 442.20 839.74 443.23 840.18 443.98 C840.63 444.72 840.80 445.27 840.70 446.10 C840.60 446.93 840.14 448.26 839.56 449.18 C838.99 450.10 837.91 451.14 837.09 451.88 C836.26 452.61 834.83 453.49 834.40 453.80 L834.40 453.80 C833.97 453.49 832.54 452.61 831.71 451.88 C830.89 451.14 829.81 450.10 829.24 449.18 C828.66 448.26 828.20 446.93 828.10 446.10 C828.00 445.27 828.17 444.72 828.62 443.98 C829.06 443.23 830.11 442.20 830.89 441.43 C831.67 440.65 832.94 439.74 833.50 439.13 C834.06 438.52 834.26 437.84 834.40 437.60 Z" fill="rgba(251,163,80,0.52)" stroke="#fb9d45" stroke-width="1.3"/>
<line x1="834.4" y1="439.13" x2="834.4" y2="452.09" stroke="#fb9d45" stroke-width="1" opacity="0.8"/>
<rect x="833.00" y="441" width="2.8" height="9.00" fill="rgba(250,152,60,0.85)"/>
<path d="M474.20 389.00 C474.36 389.64 474.96 391.72 475.20 393.00 C475.44 394.28 475.70 395.88 475.70 397.00 C475.70 398.12 475.44 399.04 475.20 400.00 C474.96 400.96 474.36 402.52 474.20 403.00 L474.20 403.00 C474.04 402.52 473.44 400.96 473.20 400.00 C472.96 399.04 472.70 398.12 472.70 397.00 C472.70 395.88 472.96 394.28 473.20 393.00 C473.44 391.72 474.04 389.64 474.20 389.00 Z" fill="#559cec" stroke="#559cec" stroke-width="0.8"/>
<path d="M494.90 370.00 C495.09 370.80 495.80 373.32 496.10 375.00 C496.40 376.68 496.80 379.06 496.80 380.50 C496.80 381.94 496.40 382.88 496.10 384.00 C495.80 385.12 495.09 386.94 494.90 387.50 L494.90 387.50 C494.71 386.94 494.00 385.12 493.70 384.00 C493.40 382.88 493.00 381.94 493.00 380.50 C493.00 379.06 493.40 376.68 493.70 375.00 C494.00 373.32 494.71 370.80 494.90 370.00 Z" fill="#fb9d45" stroke="#fb9d45" stroke-width="0.8"/>
<line x1="224.3" y1="292.5" x2="224.3" y2="457" stroke="#3a3a3a" stroke-width="2"/>
<line x1="217" y1="456.3" x2="846" y2="456.3" stroke="#444" stroke-width="2"/>
<line x1="217" y1="293.70" x2="224" y2="293.70" stroke="#3a3a3a" stroke-width="1.5"/>
<line x1="220.2" y1="301.83" x2="224" y2="301.83" stroke="#3a3a3a" stroke-width="1.5"/>
<line x1="220.2" y1="309.96" x2="224" y2="309.96" stroke="#3a3a3a" stroke-width="1.5"/>
<line x1="220.2" y1="318.09" x2="224" y2="318.09" stroke="#3a3a3a" stroke-width="1.5"/>
<line x1="220.2" y1="326.22" x2="224" y2="326.22" stroke="#3a3a3a" stroke-width="1.5"/>
<line x1="220.2" y1="334.35" x2="224" y2="334.35" stroke="#3a3a3a" stroke-width="1.5"/>
<line x1="220.2" y1="342.48" x2="224" y2="342.48" stroke="#3a3a3a" stroke-width="1.5"/>
<line x1="220.2" y1="350.61" x2="224" y2="350.61" stroke="#3a3a3a" stroke-width="1.5"/>
<line x1="220.2" y1="358.74" x2="224" y2="358.74" stroke="#3a3a3a" stroke-width="1.5"/>
<line x1="220.2" y1="366.87" x2="224" y2="366.87" stroke="#3a3a3a" stroke-width="1.5"/>
<line x1="217" y1="375.00" x2="224" y2="375.00" stroke="#3a3a3a" stroke-width="1.5"/>
<line x1="220.2" y1="383.13" x2="224" y2="383.13" stroke="#3a3a3a" stroke-width="1.5"/>
<line x1="220.2" y1="391.26" x2="224" y2="391.26" stroke="#3a3a3a" stroke-width="1.5"/>
<line x1="220.2" y1="399.39" x2="224" y2="399.39" stroke="#3a3a3a" stroke-width="1.5"/>
<line x1="220.2" y1="407.52" x2="224" y2="407.52" stroke="#3a3a3a" stroke-width="1.5"/>
<line x1="220.2" y1="415.65" x2="224" y2="415.65" stroke="#3a3a3a" stroke-width="1.5"/>
<line x1="220.2" y1="423.78" x2="224" y2="423.78" stroke="#3a3a3a" stroke-width="1.5"/>
<line x1="220.2" y1="431.91" x2="224" y2="431.91" stroke="#3a3a3a" stroke-width="1.5"/>
<line x1="220.2" y1="440.04" x2="224" y2="440.04" stroke="#3a3a3a" stroke-width="1.5"/>
<line x1="220.2" y1="448.17" x2="224" y2="448.17" stroke="#3a3a3a" stroke-width="1.5"/>
<line x1="217" y1="456.30" x2="224" y2="456.30" stroke="#3a3a3a" stroke-width="1.5"/>
</svg>

<!-- ACCORDION -->
<div class="a" style="left:131px;top:532px;width:805px;height:24px;background:#edf3f5"></div>
<div class="a" style="left:131px;top:555.9px;width:805px;height:1.8px;background:#4d6f91"></div>
<div class="a" style="left:131px;top:557.8px;width:805px;height:21.8px;background:#edf3f5"></div>
<div class="a" style="left:131px;top:579.5px;width:805px;height:1.8px;background:#4d6f91"></div>
<svg style="left:141.5px;top:537.3px" width="12" height="11" viewBox="0 0 12 11">
 <rect x="0.6" y="0.6" width="10.8" height="9.8" rx="1" fill="#4b6d8f"/>
 <rect x="2" y="3.6" width="3.4" height="2.4" fill="#edf3f5"/><rect x="6.6" y="3.6" width="3.4" height="2.4" fill="#edf3f5"/>
 <rect x="2" y="7" width="3.4" height="2.2" fill="#edf3f5"/><rect x="6.6" y="7" width="3.4" height="2.2" fill="#edf3f5"/>
</svg>
<div class="t" style="left:161.3px;top:539.00px;font-size:10px;color:#4f7397">Data Table - Baseline (day 0) Frequency</div>
<svg style="left:142px;top:561px" width="13" height="12" viewBox="0 0 13 12">
 <path d="M2.6 3.4 A5 5 0 1 1 2.2 8" stroke="#3a5f84" stroke-width="1.5" fill="none"/>
 <path d="M0.4 1.6 L1 5.4 L4.8 4.6 Z" fill="#3a5f84"/>
 <path d="M7.2 3.6 V6.4 L9 7.8" stroke="#3a5f84" stroke-width="1.3" fill="none"/>
</svg>
<div class="t" style="left:162.5px;top:562.5px;font-size:10px;color:#4f7397">History</div>
<svg style="left:912px;top:539px" width="11" height="7" viewBox="0 0 11 7">
 <path d="M1 1 L5.5 5.6 L10 1" stroke="#3d5f82" stroke-width="1.6" fill="none"/>
</svg>
<svg style="left:913px;top:563.5px" width="11" height="7" viewBox="0 0 11 7">
 <path d="M1 6 L5.5 1.4 L10 6" stroke="#3d5f82" stroke-width="1.6" fill="none"/>
</svg>

<!-- HISTORY -->
<div class="t" style="left:162px;top:598.80px;font-size:9px;font-weight:700;color:#2f3340">State Views</div>
<div class="t" style="left:162px;top:609.90px;font-size:9.9px;color:#3f434e">Tracks each state change of a plot resulting from transforms and edits.</div>
<div class="a" style="left:175.5px;top:656.5px;width:222.3px;height:125.2px;border:1.5px solid #62d99a;background:#fff"></div>
<svg style="left:175.5px;top:656.0px" width="222" height="126" viewBox="0 0 222 126"><line x1="9.5" y1="34.5" x2="211" y2="34.5" stroke="#f0f0f0" stroke-width="1"/>
<line x1="9.5" y1="62.5" x2="211" y2="62.5" stroke="#f0f0f0" stroke-width="1"/>
<path d="M18.50 30.60 C18.71 31.94 19.35 36.06 19.80 39.00 C20.25 41.94 20.84 45.80 21.30 49.00 C21.76 52.20 22.32 55.21 22.70 59.00 C23.08 62.79 23.67 69.34 23.70 72.70 C23.73 76.06 23.28 77.87 22.90 80.00 C22.52 82.13 21.75 84.24 21.30 86.00 C20.85 87.76 20.37 89.40 20.10 91.00 C19.83 92.60 19.86 94.24 19.60 96.00 C19.34 97.76 18.68 101.04 18.50 102.00 L18.50 102.00 C18.32 101.04 17.66 97.76 17.40 96.00 C17.14 94.24 17.17 92.60 16.90 91.00 C16.63 89.40 16.15 87.76 15.70 86.00 C15.25 84.24 14.48 82.13 14.10 80.00 C13.72 77.87 13.27 76.06 13.30 72.70 C13.33 69.34 13.92 62.79 14.30 59.00 C14.68 55.21 15.24 52.20 15.70 49.00 C16.16 45.80 16.75 41.94 17.20 39.00 C17.65 36.06 18.29 31.94 18.50 30.60 Z" fill="rgba(40,118,182,0.5)" stroke="#2e79bb" stroke-width="0.9"/>
<line x1="18.50" y1="42.04" x2="18.50" y2="87.97" stroke="#2e79bb" stroke-width="0.8" opacity="0.7"/>
<rect x="16.90" y="51.40" width="3.2" height="25.10" fill="rgba(36,112,178,0.75)" stroke="#2e79bb" stroke-width="0.6"/>
<path d="M32.50 18.20 C32.66 19.61 33.15 23.67 33.50 27.00 C33.85 30.33 34.40 34.73 34.70 39.00 C35.00 43.27 35.37 49.38 35.40 53.70 C35.43 58.02 35.11 62.11 34.90 66.00 C34.69 69.89 34.31 74.80 34.10 78.00 C33.89 81.20 33.86 83.25 33.60 86.00 C33.34 88.75 32.68 93.73 32.50 95.20 L32.50 95.20 C32.32 93.73 31.66 88.75 31.40 86.00 C31.14 83.25 31.11 81.20 30.90 78.00 C30.69 74.80 30.31 69.89 30.10 66.00 C29.89 62.11 29.57 58.02 29.60 53.70 C29.63 49.38 30.00 43.27 30.30 39.00 C30.60 34.73 31.15 30.33 31.50 27.00 C31.85 23.67 32.34 19.61 32.50 18.20 Z" fill="rgba(255,136,30,0.42)" stroke="#ff8417" stroke-width="0.9"/>
<line x1="32.50" y1="31.24" x2="32.50" y2="77.60" stroke="#ff8417" stroke-width="0.8" opacity="0.7"/>
<rect x="31.00" y="41.90" width="3" height="21.30" fill="rgba(255,128,20,0.75)" stroke="#ff8417" stroke-width="0.6"/>
<path d="M58.80 25.90 C59.01 27.52 59.59 32.30 60.10 36.00 C60.61 39.70 61.44 45.32 62.00 49.00 C62.56 52.68 63.23 56.15 63.60 59.00 C63.97 61.85 64.33 64.24 64.30 66.80 C64.27 69.36 63.83 72.57 63.40 75.00 C62.97 77.43 62.08 79.92 61.60 82.00 C61.12 84.08 60.67 86.24 60.40 88.00 C60.13 89.76 60.16 91.38 59.90 93.00 C59.64 94.62 58.98 97.28 58.80 98.10 L58.80 98.10 C58.62 97.28 57.96 94.62 57.70 93.00 C57.44 91.38 57.47 89.76 57.20 88.00 C56.93 86.24 56.48 84.08 56.00 82.00 C55.52 79.92 54.63 77.43 54.20 75.00 C53.77 72.57 53.33 69.36 53.30 66.80 C53.27 64.24 53.63 61.85 54.00 59.00 C54.37 56.15 55.04 52.68 55.60 49.00 C56.16 45.32 56.99 39.70 57.50 36.00 C58.01 32.30 58.59 27.52 58.80 25.90 Z" fill="rgba(40,118,182,0.5)" stroke="#2e79bb" stroke-width="0.9"/>
<line x1="58.80" y1="41.19" x2="58.80" y2="84.46" stroke="#2e79bb" stroke-width="0.8" opacity="0.7"/>
<rect x="57.20" y="53.70" width="3.2" height="19.60" fill="rgba(36,112,178,0.75)" stroke="#2e79bb" stroke-width="0.6"/>
<path d="M73.00 41.00 C73.16 41.64 73.76 43.88 74.00 45.00 C74.24 46.12 74.39 46.98 74.50 48.00 C74.61 49.02 74.73 50.28 74.70 51.40 C74.67 52.52 74.41 53.62 74.30 55.00 C74.19 56.38 73.92 58.56 74.00 60.00 C74.08 61.44 74.38 62.72 74.80 64.00 C75.22 65.28 76.09 66.56 76.60 68.00 C77.11 69.44 77.73 71.40 78.00 73.00 C78.27 74.60 78.43 76.40 78.30 78.00 C78.17 79.60 77.70 81.56 77.20 83.00 C76.70 84.44 75.87 85.85 75.20 87.00 C74.53 88.15 73.35 89.69 73.00 90.20 L73.00 90.20 C72.65 89.69 71.47 88.15 70.80 87.00 C70.13 85.85 69.30 84.44 68.80 83.00 C68.30 81.56 67.83 79.60 67.70 78.00 C67.57 76.40 67.73 74.60 68.00 73.00 C68.27 71.40 68.89 69.44 69.40 68.00 C69.91 66.56 70.78 65.28 71.20 64.00 C71.62 62.72 71.92 61.44 72.00 60.00 C72.08 58.56 71.81 56.38 71.70 55.00 C71.59 53.62 71.33 52.52 71.30 51.40 C71.27 50.28 71.39 49.02 71.50 48.00 C71.61 46.98 71.76 46.12 72.00 45.00 C72.24 43.88 72.84 41.64 73.00 41.00 Z" fill="rgba(255,136,30,0.42)" stroke="#ff8417" stroke-width="0.9"/>
<line x1="73.00" y1="55.85" x2="73.00" y2="83.49" stroke="#ff8417" stroke-width="0.8" opacity="0.7"/>
<rect x="71.60" y="68.00" width="2.8" height="10.00" fill="rgba(255,128,20,0.75)" stroke="#ff8417" stroke-width="0.6"/>
<path d="M99.00 17.30 C99.24 18.53 99.96 22.01 100.50 25.00 C101.04 27.99 101.95 32.16 102.40 36.00 C102.85 39.84 103.32 45.16 103.30 49.00 C103.28 52.84 102.62 56.64 102.30 60.00 C101.98 63.36 101.59 66.16 101.30 70.00 C101.01 73.84 100.69 79.36 100.50 84.00 C100.31 88.64 100.34 93.80 100.10 99.00 C99.86 104.20 99.18 113.70 99.00 116.50 L99.00 116.50 C98.82 113.70 98.14 104.20 97.90 99.00 C97.66 93.80 97.69 88.64 97.50 84.00 C97.31 79.36 96.99 73.84 96.70 70.00 C96.41 66.16 96.02 63.36 95.70 60.00 C95.38 56.64 94.72 52.84 94.70 49.00 C94.68 45.16 95.15 39.84 95.60 36.00 C96.05 32.16 96.96 27.99 97.50 25.00 C98.04 22.01 98.76 18.53 99.00 17.30 Z" fill="rgba(40,118,182,0.5)" stroke="#2e79bb" stroke-width="0.9"/>
<line x1="99.00" y1="32.48" x2="99.00" y2="90.10" stroke="#2e79bb" stroke-width="0.8" opacity="0.7"/>
<rect x="97.40" y="44.90" width="3.2" height="23.60" fill="rgba(36,112,178,0.75)" stroke="#2e79bb" stroke-width="0.6"/>
<path d="M114.80 37.10 C114.96 38.20 115.45 41.30 115.80 44.00 C116.15 46.70 116.73 50.54 117.00 54.00 C117.27 57.46 117.52 62.08 117.50 65.60 C117.48 69.12 117.14 72.74 116.90 76.00 C116.66 79.26 116.34 83.02 116.00 86.00 C115.66 88.98 114.99 93.22 114.80 94.60 L114.80 94.60 C114.61 93.22 113.94 88.98 113.60 86.00 C113.26 83.02 112.94 79.26 112.70 76.00 C112.46 72.74 112.12 69.12 112.10 65.60 C112.08 62.08 112.33 57.46 112.60 54.00 C112.87 50.54 113.45 46.70 113.80 44.00 C114.15 41.30 114.64 38.20 114.80 37.10 Z" fill="rgba(255,136,30,0.42)" stroke="#ff8417" stroke-width="0.9"/>
<line x1="114.80" y1="46.23" x2="114.80" y2="83.82" stroke="#ff8417" stroke-width="0.8" opacity="0.7"/>
<rect x="113.40" y="53.70" width="2.8" height="21.30" fill="rgba(255,128,20,0.75)" stroke="#ff8417" stroke-width="0.6"/>
<path d="M127.80 16.80 C128.04 18.03 128.76 21.43 129.30 24.50 C129.84 27.57 130.75 32.08 131.20 36.00 C131.65 39.92 132.12 45.16 132.10 49.00 C132.08 52.84 131.42 56.64 131.10 60.00 C130.78 63.36 130.39 66.16 130.10 70.00 C129.81 73.84 129.49 79.36 129.30 84.00 C129.11 88.64 129.14 93.90 128.90 99.00 C128.66 104.10 127.98 113.20 127.80 115.90 L127.80 115.90 C127.62 113.20 126.94 104.10 126.70 99.00 C126.46 93.90 126.49 88.64 126.30 84.00 C126.11 79.36 125.79 73.84 125.50 70.00 C125.21 66.16 124.82 63.36 124.50 60.00 C124.18 56.64 123.52 52.84 123.50 49.00 C123.48 45.16 123.95 39.92 124.40 36.00 C124.85 32.08 125.76 27.57 126.30 24.50 C126.84 21.43 127.56 18.03 127.80 16.80 Z" fill="rgba(40,118,182,0.5)" stroke="#2e79bb" stroke-width="0.9"/>
<line x1="127.80" y1="31.87" x2="127.80" y2="89.83" stroke="#2e79bb" stroke-width="0.8" opacity="0.7"/>
<rect x="126.20" y="44.20" width="3.2" height="24.30" fill="rgba(36,112,178,0.75)" stroke="#2e79bb" stroke-width="0.6"/>
<path d="M152.10 40.10 C152.26 40.72 152.86 42.90 153.10 44.00 C153.34 45.10 153.49 45.98 153.60 47.00 C153.71 48.02 153.83 49.28 153.80 50.40 C153.77 51.52 153.51 52.62 153.40 54.00 C153.29 55.38 153.02 57.56 153.10 59.00 C153.18 60.44 153.50 61.72 153.90 63.00 C154.30 64.28 155.12 65.56 155.60 67.00 C156.08 68.44 156.64 70.40 156.90 72.00 C157.16 73.60 157.31 75.40 157.20 77.00 C157.09 78.60 156.66 80.48 156.20 82.00 C155.74 83.52 154.96 85.25 154.30 86.50 C153.64 87.75 152.45 89.27 152.10 89.80 L152.10 89.80 C151.75 89.27 150.56 87.75 149.90 86.50 C149.24 85.25 148.46 83.52 148.00 82.00 C147.54 80.48 147.11 78.60 147.00 77.00 C146.89 75.40 147.04 73.60 147.30 72.00 C147.56 70.40 148.12 68.44 148.60 67.00 C149.08 65.56 149.90 64.28 150.30 63.00 C150.70 61.72 151.02 60.44 151.10 59.00 C151.18 57.56 150.91 55.38 150.80 54.00 C150.69 52.62 150.43 51.52 150.40 50.40 C150.37 49.28 150.49 48.02 150.60 47.00 C150.71 45.98 150.86 45.10 151.10 44.00 C151.34 42.90 151.94 40.72 152.10 40.10 Z" fill="rgba(255,136,30,0.42)" stroke="#ff8417" stroke-width="0.9"/>
<line x1="152.10" y1="55.06" x2="152.10" y2="83.31" stroke="#ff8417" stroke-width="0.8" opacity="0.7"/>
<rect x="150.70" y="67.30" width="2.8" height="10.70" fill="rgba(255,128,20,0.75)" stroke="#ff8417" stroke-width="0.6"/>
<path d="M165.10 25.30 C165.31 26.85 165.92 31.53 166.40 35.00 C166.88 38.47 167.60 43.48 168.10 47.00 C168.60 50.52 169.18 54.02 169.50 57.00 C169.82 59.98 170.12 62.88 170.10 65.60 C170.08 68.32 169.75 71.54 169.40 74.00 C169.05 76.46 168.33 78.92 167.90 81.00 C167.47 83.08 166.97 85.24 166.70 87.00 C166.43 88.76 166.46 90.22 166.20 92.00 C165.94 93.78 165.28 97.12 165.10 98.10 L165.10 98.10 C164.92 97.12 164.26 93.78 164.00 92.00 C163.74 90.22 163.77 88.76 163.50 87.00 C163.23 85.24 162.73 83.08 162.30 81.00 C161.87 78.92 161.15 76.46 160.80 74.00 C160.45 71.54 160.12 68.32 160.10 65.60 C160.08 62.88 160.38 59.98 160.70 57.00 C161.02 54.02 161.60 50.52 162.10 47.00 C162.60 43.48 163.32 38.47 163.80 35.00 C164.28 31.53 164.89 26.85 165.10 25.30 Z" fill="rgba(40,118,182,0.5)" stroke="#2e79bb" stroke-width="0.9"/>
<line x1="165.10" y1="40.59" x2="165.10" y2="84.41" stroke="#2e79bb" stroke-width="0.8" opacity="0.7"/>
<rect x="163.50" y="53.10" width="3.2" height="20.10" fill="rgba(36,112,178,0.75)" stroke="#2e79bb" stroke-width="0.6"/>
<path d="M189.40 17.60 C189.56 19.10 190.05 23.58 190.40 27.00 C190.75 30.42 191.31 35.11 191.60 39.00 C191.89 42.89 192.17 47.14 192.20 51.30 C192.23 55.46 191.99 60.89 191.80 65.00 C191.61 69.11 191.21 73.64 191.00 77.00 C190.79 80.36 190.76 83.10 190.50 86.00 C190.24 88.90 189.58 93.64 189.40 95.10 L189.40 95.10 C189.22 93.64 188.56 88.90 188.30 86.00 C188.04 83.10 188.01 80.36 187.80 77.00 C187.59 73.64 187.19 69.11 187.00 65.00 C186.81 60.89 186.57 55.46 186.60 51.30 C186.63 47.14 186.91 42.89 187.20 39.00 C187.49 35.11 188.05 30.42 188.40 27.00 C188.75 23.58 189.24 19.10 189.40 17.60 Z" fill="rgba(255,136,30,0.42)" stroke="#ff8417" stroke-width="0.9"/>
<line x1="189.40" y1="30.31" x2="189.40" y2="77.88" stroke="#ff8417" stroke-width="0.8" opacity="0.7"/>
<rect x="187.90" y="40.70" width="3" height="23.10" fill="rgba(255,128,20,0.75)" stroke="#ff8417" stroke-width="0.6"/>
<path d="M202.40 30.00 C202.61 31.28 203.25 35.12 203.70 38.00 C204.15 40.88 204.74 44.80 205.20 48.00 C205.66 51.20 206.25 54.24 206.60 58.00 C206.95 61.76 207.38 68.14 207.40 71.50 C207.42 74.86 207.05 76.84 206.70 79.00 C206.35 81.16 205.63 83.24 205.20 85.00 C204.77 86.76 204.27 88.40 204.00 90.00 C203.73 91.60 203.76 93.13 203.50 95.00 C203.24 96.87 202.58 100.63 202.40 101.70 L202.40 101.70 C202.22 100.63 201.56 96.87 201.30 95.00 C201.04 93.13 201.07 91.60 200.80 90.00 C200.53 88.40 200.03 86.76 199.60 85.00 C199.17 83.24 198.45 81.16 198.10 79.00 C197.75 76.84 197.38 74.86 197.40 71.50 C197.42 68.14 197.85 61.76 198.20 58.00 C198.55 54.24 199.14 51.20 199.60 48.00 C200.06 44.80 200.65 40.88 201.10 38.00 C201.55 35.12 202.19 31.28 202.40 30.00 Z" fill="rgba(40,118,182,0.5)" stroke="#2e79bb" stroke-width="0.9"/>
<line x1="202.40" y1="41.44" x2="202.40" y2="87.79" stroke="#2e79bb" stroke-width="0.8" opacity="0.7"/>
<rect x="200.80" y="50.80" width="3.2" height="25.60" fill="rgba(36,112,178,0.75)" stroke="#2e79bb" stroke-width="0.6"/>
<path d="M9.5 91.5 H106.5 L108 90.5 H211" stroke="#9a9a9a" stroke-width="1" fill="none"/></svg>
<div class="t" style="left:243.80px;width:150px;text-align:right;top:643.10px;font-size:8.1px;font-weight:700;color:#333844">MM Group - Current State</div>
<div class="a" style="left:413.75px;top:656.5px;width:222.3px;height:125.2px;border:1.5px solid #e2e4e9;background:#fff"></div>
<svg style="left:413.75px;top:656.0px" width="222" height="126" viewBox="0 0 222 126"><line x1="9.5" y1="34.5" x2="211" y2="34.5" stroke="#f0f0f0" stroke-width="1"/>
<line x1="9.5" y1="62.5" x2="211" y2="62.5" stroke="#f0f0f0" stroke-width="1"/>
<path d="M18.50 30.60 C18.71 31.94 19.35 36.06 19.80 39.00 C20.25 41.94 20.84 45.80 21.30 49.00 C21.76 52.20 22.32 55.21 22.70 59.00 C23.08 62.79 23.67 69.34 23.70 72.70 C23.73 76.06 23.28 77.87 22.90 80.00 C22.52 82.13 21.75 84.24 21.30 86.00 C20.85 87.76 20.37 89.40 20.10 91.00 C19.83 92.60 19.86 94.24 19.60 96.00 C19.34 97.76 18.68 101.04 18.50 102.00 L18.50 102.00 C18.32 101.04 17.66 97.76 17.40 96.00 C17.14 94.24 17.17 92.60 16.90 91.00 C16.63 89.40 16.15 87.76 15.70 86.00 C15.25 84.24 14.48 82.13 14.10 80.00 C13.72 77.87 13.27 76.06 13.30 72.70 C13.33 69.34 13.92 62.79 14.30 59.00 C14.68 55.21 15.24 52.20 15.70 49.00 C16.16 45.80 16.75 41.94 17.20 39.00 C17.65 36.06 18.29 31.94 18.50 30.60 Z" fill="rgba(40,118,182,0.5)" stroke="#2e79bb" stroke-width="0.9"/>
<line x1="18.50" y1="42.04" x2="18.50" y2="87.97" stroke="#2e79bb" stroke-width="0.8" opacity="0.7"/>
<rect x="16.90" y="51.40" width="3.2" height="25.10" fill="rgba(36,112,178,0.75)" stroke="#2e79bb" stroke-width="0.6"/>
<path d="M32.50 18.20 C32.66 19.61 33.15 23.67 33.50 27.00 C33.85 30.33 34.40 34.73 34.70 39.00 C35.00 43.27 35.37 49.38 35.40 53.70 C35.43 58.02 35.11 62.11 34.90 66.00 C34.69 69.89 34.31 74.80 34.10 78.00 C33.89 81.20 33.86 83.25 33.60 86.00 C33.34 88.75 32.68 93.73 32.50 95.20 L32.50 95.20 C32.32 93.73 31.66 88.75 31.40 86.00 C31.14 83.25 31.11 81.20 30.90 78.00 C30.69 74.80 30.31 69.89 30.10 66.00 C29.89 62.11 29.57 58.02 29.60 53.70 C29.63 49.38 30.00 43.27 30.30 39.00 C30.60 34.73 31.15 30.33 31.50 27.00 C31.85 23.67 32.34 19.61 32.50 18.20 Z" fill="rgba(255,136,30,0.42)" stroke="#ff8417" stroke-width="0.9"/>
<line x1="32.50" y1="31.24" x2="32.50" y2="77.60" stroke="#ff8417" stroke-width="0.8" opacity="0.7"/>
<rect x="31.00" y="41.90" width="3" height="21.30" fill="rgba(255,128,20,0.75)" stroke="#ff8417" stroke-width="0.6"/>
<path d="M58.80 25.90 C59.01 27.52 59.59 32.30 60.10 36.00 C60.61 39.70 61.44 45.32 62.00 49.00 C62.56 52.68 63.23 56.15 63.60 59.00 C63.97 61.85 64.33 64.24 64.30 66.80 C64.27 69.36 63.83 72.57 63.40 75.00 C62.97 77.43 62.08 79.92 61.60 82.00 C61.12 84.08 60.67 86.24 60.40 88.00 C60.13 89.76 60.16 91.38 59.90 93.00 C59.64 94.62 58.98 97.28 58.80 98.10 L58.80 98.10 C58.62 97.28 57.96 94.62 57.70 93.00 C57.44 91.38 57.47 89.76 57.20 88.00 C56.93 86.24 56.48 84.08 56.00 82.00 C55.52 79.92 54.63 77.43 54.20 75.00 C53.77 72.57 53.33 69.36 53.30 66.80 C53.27 64.24 53.63 61.85 54.00 59.00 C54.37 56.15 55.04 52.68 55.60 49.00 C56.16 45.32 56.99 39.70 57.50 36.00 C58.01 32.30 58.59 27.52 58.80 25.90 Z" fill="rgba(40,118,182,0.5)" stroke="#2e79bb" stroke-width="0.9"/>
<line x1="58.80" y1="41.19" x2="58.80" y2="84.46" stroke="#2e79bb" stroke-width="0.8" opacity="0.7"/>
<rect x="57.20" y="53.70" width="3.2" height="19.60" fill="rgba(36,112,178,0.75)" stroke="#2e79bb" stroke-width="0.6"/>
<path d="M73.00 41.00 C73.16 41.64 73.76 43.88 74.00 45.00 C74.24 46.12 74.39 46.98 74.50 48.00 C74.61 49.02 74.73 50.28 74.70 51.40 C74.67 52.52 74.41 53.62 74.30 55.00 C74.19 56.38 73.92 58.56 74.00 60.00 C74.08 61.44 74.38 62.72 74.80 64.00 C75.22 65.28 76.09 66.56 76.60 68.00 C77.11 69.44 77.73 71.40 78.00 73.00 C78.27 74.60 78.43 76.40 78.30 78.00 C78.17 79.60 77.70 81.56 77.20 83.00 C76.70 84.44 75.87 85.85 75.20 87.00 C74.53 88.15 73.35 89.69 73.00 90.20 L73.00 90.20 C72.65 89.69 71.47 88.15 70.80 87.00 C70.13 85.85 69.30 84.44 68.80 83.00 C68.30 81.56 67.83 79.60 67.70 78.00 C67.57 76.40 67.73 74.60 68.00 73.00 C68.27 71.40 68.89 69.44 69.40 68.00 C69.91 66.56 70.78 65.28 71.20 64.00 C71.62 62.72 71.92 61.44 72.00 60.00 C72.08 58.56 71.81 56.38 71.70 55.00 C71.59 53.62 71.33 52.52 71.30 51.40 C71.27 50.28 71.39 49.02 71.50 48.00 C71.61 46.98 71.76 46.12 72.00 45.00 C72.24 43.88 72.84 41.64 73.00 41.00 Z" fill="rgba(255,136,30,0.42)" stroke="#ff8417" stroke-width="0.9"/>
<line x1="73.00" y1="55.85" x2="73.00" y2="83.49" stroke="#ff8417" stroke-width="0.8" opacity="0.7"/>
<rect x="71.60" y="68.00" width="2.8" height="10.00" fill="rgba(255,128,20,0.75)" stroke="#ff8417" stroke-width="0.6"/>
<path d="M99.00 17.30 C99.24 18.53 99.96 22.01 100.50 25.00 C101.04 27.99 101.95 32.16 102.40 36.00 C102.85 39.84 103.32 45.16 103.30 49.00 C103.28 52.84 102.62 56.64 102.30 60.00 C101.98 63.36 101.59 66.16 101.30 70.00 C101.01 73.84 100.69 79.36 100.50 84.00 C100.31 88.64 100.34 93.80 100.10 99.00 C99.86 104.20 99.18 113.70 99.00 116.50 L99.00 116.50 C98.82 113.70 98.14 104.20 97.90 99.00 C97.66 93.80 97.69 88.64 97.50 84.00 C97.31 79.36 96.99 73.84 96.70 70.00 C96.41 66.16 96.02 63.36 95.70 60.00 C95.38 56.64 94.72 52.84 94.70 49.00 C94.68 45.16 95.15 39.84 95.60 36.00 C96.05 32.16 96.96 27.99 97.50 25.00 C98.04 22.01 98.76 18.53 99.00 17.30 Z" fill="rgba(40,118,182,0.5)" stroke="#2e79bb" stroke-width="0.9"/>
<line x1="99.00" y1="32.48" x2="99.00" y2="90.10" stroke="#2e79bb" stroke-width="0.8" opacity="0.7"/>
<rect x="97.40" y="44.90" width="3.2" height="23.60" fill="rgba(36,112,178,0.75)" stroke="#2e79bb" stroke-width="0.6"/>
<path d="M114.80 37.10 C114.96 38.20 115.45 41.30 115.80 44.00 C116.15 46.70 116.73 50.54 117.00 54.00 C117.27 57.46 117.52 62.08 117.50 65.60 C117.48 69.12 117.14 72.74 116.90 76.00 C116.66 79.26 116.34 83.02 116.00 86.00 C115.66 88.98 114.99 93.22 114.80 94.60 L114.80 94.60 C114.61 93.22 113.94 88.98 113.60 86.00 C113.26 83.02 112.94 79.26 112.70 76.00 C112.46 72.74 112.12 69.12 112.10 65.60 C112.08 62.08 112.33 57.46 112.60 54.00 C112.87 50.54 113.45 46.70 113.80 44.00 C114.15 41.30 114.64 38.20 114.80 37.10 Z" fill="rgba(255,136,30,0.42)" stroke="#ff8417" stroke-width="0.9"/>
<line x1="114.80" y1="46.23" x2="114.80" y2="83.82" stroke="#ff8417" stroke-width="0.8" opacity="0.7"/>
<rect x="113.40" y="53.70" width="2.8" height="21.30" fill="rgba(255,128,20,0.75)" stroke="#ff8417" stroke-width="0.6"/>
<path d="M127.80 16.80 C128.04 18.03 128.76 21.43 129.30 24.50 C129.84 27.57 130.75 32.08 131.20 36.00 C131.65 39.92 132.12 45.16 132.10 49.00 C132.08 52.84 131.42 56.64 131.10 60.00 C130.78 63.36 130.39 66.16 130.10 70.00 C129.81 73.84 129.49 79.36 129.30 84.00 C129.11 88.64 129.14 93.90 128.90 99.00 C128.66 104.10 127.98 113.20 127.80 115.90 L127.80 115.90 C127.62 113.20 126.94 104.10 126.70 99.00 C126.46 93.90 126.49 88.64 126.30 84.00 C126.11 79.36 125.79 73.84 125.50 70.00 C125.21 66.16 124.82 63.36 124.50 60.00 C124.18 56.64 123.52 52.84 123.50 49.00 C123.48 45.16 123.95 39.92 124.40 36.00 C124.85 32.08 125.76 27.57 126.30 24.50 C126.84 21.43 127.56 18.03 127.80 16.80 Z" fill="rgba(40,118,182,0.5)" stroke="#2e79bb" stroke-width="0.9"/>
<line x1="127.80" y1="31.87" x2="127.80" y2="89.83" stroke="#2e79bb" stroke-width="0.8" opacity="0.7"/>
<rect x="126.20" y="44.20" width="3.2" height="24.30" fill="rgba(36,112,178,0.75)" stroke="#2e79bb" stroke-width="0.6"/>
<path d="M152.10 40.10 C152.26 40.72 152.86 42.90 153.10 44.00 C153.34 45.10 153.49 45.98 153.60 47.00 C153.71 48.02 153.83 49.28 153.80 50.40 C153.77 51.52 153.51 52.62 153.40 54.00 C153.29 55.38 153.02 57.56 153.10 59.00 C153.18 60.44 153.50 61.72 153.90 63.00 C154.30 64.28 155.12 65.56 155.60 67.00 C156.08 68.44 156.64 70.40 156.90 72.00 C157.16 73.60 157.31 75.40 157.20 77.00 C157.09 78.60 156.66 80.48 156.20 82.00 C155.74 83.52 154.96 85.25 154.30 86.50 C153.64 87.75 152.45 89.27 152.10 89.80 L152.10 89.80 C151.75 89.27 150.56 87.75 149.90 86.50 C149.24 85.25 148.46 83.52 148.00 82.00 C147.54 80.48 147.11 78.60 147.00 77.00 C146.89 75.40 147.04 73.60 147.30 72.00 C147.56 70.40 148.12 68.44 148.60 67.00 C149.08 65.56 149.90 64.28 150.30 63.00 C150.70 61.72 151.02 60.44 151.10 59.00 C151.18 57.56 150.91 55.38 150.80 54.00 C150.69 52.62 150.43 51.52 150.40 50.40 C150.37 49.28 150.49 48.02 150.60 47.00 C150.71 45.98 150.86 45.10 151.10 44.00 C151.34 42.90 151.94 40.72 152.10 40.10 Z" fill="rgba(255,136,30,0.42)" stroke="#ff8417" stroke-width="0.9"/>
<line x1="152.10" y1="55.06" x2="152.10" y2="83.31" stroke="#ff8417" stroke-width="0.8" opacity="0.7"/>
<rect x="150.70" y="67.30" width="2.8" height="10.70" fill="rgba(255,128,20,0.75)" stroke="#ff8417" stroke-width="0.6"/>
<path d="M165.10 25.30 C165.31 26.85 165.92 31.53 166.40 35.00 C166.88 38.47 167.60 43.48 168.10 47.00 C168.60 50.52 169.18 54.02 169.50 57.00 C169.82 59.98 170.12 62.88 170.10 65.60 C170.08 68.32 169.75 71.54 169.40 74.00 C169.05 76.46 168.33 78.92 167.90 81.00 C167.47 83.08 166.97 85.24 166.70 87.00 C166.43 88.76 166.46 90.22 166.20 92.00 C165.94 93.78 165.28 97.12 165.10 98.10 L165.10 98.10 C164.92 97.12 164.26 93.78 164.00 92.00 C163.74 90.22 163.77 88.76 163.50 87.00 C163.23 85.24 162.73 83.08 162.30 81.00 C161.87 78.92 161.15 76.46 160.80 74.00 C160.45 71.54 160.12 68.32 160.10 65.60 C160.08 62.88 160.38 59.98 160.70 57.00 C161.02 54.02 161.60 50.52 162.10 47.00 C162.60 43.48 163.32 38.47 163.80 35.00 C164.28 31.53 164.89 26.85 165.10 25.30 Z" fill="rgba(40,118,182,0.5)" stroke="#2e79bb" stroke-width="0.9"/>
<line x1="165.10" y1="40.59" x2="165.10" y2="84.41" stroke="#2e79bb" stroke-width="0.8" opacity="0.7"/>
<rect x="163.50" y="53.10" width="3.2" height="20.10" fill="rgba(36,112,178,0.75)" stroke="#2e79bb" stroke-width="0.6"/>
<path d="M189.40 17.60 C189.56 19.10 190.05 23.58 190.40 27.00 C190.75 30.42 191.31 35.11 191.60 39.00 C191.89 42.89 192.17 47.14 192.20 51.30 C192.23 55.46 191.99 60.89 191.80 65.00 C191.61 69.11 191.21 73.64 191.00 77.00 C190.79 80.36 190.76 83.10 190.50 86.00 C190.24 88.90 189.58 93.64 189.40 95.10 L189.40 95.10 C189.22 93.64 188.56 88.90 188.30 86.00 C188.04 83.10 188.01 80.36 187.80 77.00 C187.59 73.64 187.19 69.11 187.00 65.00 C186.81 60.89 186.57 55.46 186.60 51.30 C186.63 47.14 186.91 42.89 187.20 39.00 C187.49 35.11 188.05 30.42 188.40 27.00 C188.75 23.58 189.24 19.10 189.40 17.60 Z" fill="rgba(255,136,30,0.42)" stroke="#ff8417" stroke-width="0.9"/>
<line x1="189.40" y1="30.31" x2="189.40" y2="77.88" stroke="#ff8417" stroke-width="0.8" opacity="0.7"/>
<rect x="187.90" y="40.70" width="3" height="23.10" fill="rgba(255,128,20,0.75)" stroke="#ff8417" stroke-width="0.6"/>
<path d="M202.40 30.00 C202.61 31.28 203.25 35.12 203.70 38.00 C204.15 40.88 204.74 44.80 205.20 48.00 C205.66 51.20 206.25 54.24 206.60 58.00 C206.95 61.76 207.38 68.14 207.40 71.50 C207.42 74.86 207.05 76.84 206.70 79.00 C206.35 81.16 205.63 83.24 205.20 85.00 C204.77 86.76 204.27 88.40 204.00 90.00 C203.73 91.60 203.76 93.13 203.50 95.00 C203.24 96.87 202.58 100.63 202.40 101.70 L202.40 101.70 C202.22 100.63 201.56 96.87 201.30 95.00 C201.04 93.13 201.07 91.60 200.80 90.00 C200.53 88.40 200.03 86.76 199.60 85.00 C199.17 83.24 198.45 81.16 198.10 79.00 C197.75 76.84 197.38 74.86 197.40 71.50 C197.42 68.14 197.85 61.76 198.20 58.00 C198.55 54.24 199.14 51.20 199.60 48.00 C200.06 44.80 200.65 40.88 201.10 38.00 C201.55 35.12 202.19 31.28 202.40 30.00 Z" fill="rgba(40,118,182,0.5)" stroke="#2e79bb" stroke-width="0.9"/>
<line x1="202.40" y1="41.44" x2="202.40" y2="87.79" stroke="#2e79bb" stroke-width="0.8" opacity="0.7"/>
<rect x="200.80" y="50.80" width="3.2" height="25.60" fill="rgba(36,112,178,0.75)" stroke="#2e79bb" stroke-width="0.6"/>
<path d="M9.5 91.5 H106.5 L108 90.5 H211" stroke="#9a9a9a" stroke-width="1" fill="none"/></svg>
<div class="t" style="left:481.30px;width:150px;text-align:right;top:645.10px;font-size:8.1px;font-weight:400;color:#454a55">MM Group - State 11</div>
<div class="a" style="left:651.25px;top:656.5px;width:222.3px;height:125.2px;border:1.5px solid #e2e4e9;background:#fff"></div>
<svg style="left:651.25px;top:656.0px" width="222" height="126" viewBox="0 0 222 126"><line x1="9.5" y1="34.5" x2="211" y2="34.5" stroke="#f0f0f0" stroke-width="1"/>
<line x1="9.5" y1="62.5" x2="211" y2="62.5" stroke="#f0f0f0" stroke-width="1"/>
<path d="M18.50 30.60 C18.71 31.94 19.35 36.06 19.80 39.00 C20.25 41.94 20.84 45.80 21.30 49.00 C21.76 52.20 22.32 55.21 22.70 59.00 C23.08 62.79 23.67 69.34 23.70 72.70 C23.73 76.06 23.28 77.87 22.90 80.00 C22.52 82.13 21.75 84.24 21.30 86.00 C20.85 87.76 20.37 89.40 20.10 91.00 C19.83 92.60 19.86 94.24 19.60 96.00 C19.34 97.76 18.68 101.04 18.50 102.00 L18.50 102.00 C18.32 101.04 17.66 97.76 17.40 96.00 C17.14 94.24 17.17 92.60 16.90 91.00 C16.63 89.40 16.15 87.76 15.70 86.00 C15.25 84.24 14.48 82.13 14.10 80.00 C13.72 77.87 13.27 76.06 13.30 72.70 C13.33 69.34 13.92 62.79 14.30 59.00 C14.68 55.21 15.24 52.20 15.70 49.00 C16.16 45.80 16.75 41.94 17.20 39.00 C17.65 36.06 18.29 31.94 18.50 30.60 Z" fill="rgba(40,118,182,0.5)" stroke="#2e79bb" stroke-width="0.9"/>
<line x1="18.50" y1="42.04" x2="18.50" y2="87.97" stroke="#2e79bb" stroke-width="0.8" opacity="0.7"/>
<rect x="16.90" y="51.40" width="3.2" height="25.10" fill="rgba(36,112,178,0.75)" stroke="#2e79bb" stroke-width="0.6"/>
<path d="M32.50 18.20 C32.66 19.61 33.15 23.67 33.50 27.00 C33.85 30.33 34.40 34.73 34.70 39.00 C35.00 43.27 35.37 49.38 35.40 53.70 C35.43 58.02 35.11 62.11 34.90 66.00 C34.69 69.89 34.31 74.80 34.10 78.00 C33.89 81.20 33.86 83.25 33.60 86.00 C33.34 88.75 32.68 93.73 32.50 95.20 L32.50 95.20 C32.32 93.73 31.66 88.75 31.40 86.00 C31.14 83.25 31.11 81.20 30.90 78.00 C30.69 74.80 30.31 69.89 30.10 66.00 C29.89 62.11 29.57 58.02 29.60 53.70 C29.63 49.38 30.00 43.27 30.30 39.00 C30.60 34.73 31.15 30.33 31.50 27.00 C31.85 23.67 32.34 19.61 32.50 18.20 Z" fill="rgba(255,136,30,0.42)" stroke="#ff8417" stroke-width="0.9"/>
<line x1="32.50" y1="31.24" x2="32.50" y2="77.60" stroke="#ff8417" stroke-width="0.8" opacity="0.7"/>
<rect x="31.00" y="41.90" width="3" height="21.30" fill="rgba(255,128,20,0.75)" stroke="#ff8417" stroke-width="0.6"/>
<path d="M58.80 25.90 C59.01 27.52 59.59 32.30 60.10 36.00 C60.61 39.70 61.44 45.32 62.00 49.00 C62.56 52.68 63.23 56.15 63.60 59.00 C63.97 61.85 64.33 64.24 64.30 66.80 C64.27 69.36 63.83 72.57 63.40 75.00 C62.97 77.43 62.08 79.92 61.60 82.00 C61.12 84.08 60.67 86.24 60.40 88.00 C60.13 89.76 60.16 91.38 59.90 93.00 C59.64 94.62 58.98 97.28 58.80 98.10 L58.80 98.10 C58.62 97.28 57.96 94.62 57.70 93.00 C57.44 91.38 57.47 89.76 57.20 88.00 C56.93 86.24 56.48 84.08 56.00 82.00 C55.52 79.92 54.63 77.43 54.20 75.00 C53.77 72.57 53.33 69.36 53.30 66.80 C53.27 64.24 53.63 61.85 54.00 59.00 C54.37 56.15 55.04 52.68 55.60 49.00 C56.16 45.32 56.99 39.70 57.50 36.00 C58.01 32.30 58.59 27.52 58.80 25.90 Z" fill="rgba(40,118,182,0.5)" stroke="#2e79bb" stroke-width="0.9"/>
<line x1="58.80" y1="41.19" x2="58.80" y2="84.46" stroke="#2e79bb" stroke-width="0.8" opacity="0.7"/>
<rect x="57.20" y="53.70" width="3.2" height="19.60" fill="rgba(36,112,178,0.75)" stroke="#2e79bb" stroke-width="0.6"/>
<path d="M73.00 41.00 C73.16 41.64 73.76 43.88 74.00 45.00 C74.24 46.12 74.39 46.98 74.50 48.00 C74.61 49.02 74.73 50.28 74.70 51.40 C74.67 52.52 74.41 53.62 74.30 55.00 C74.19 56.38 73.92 58.56 74.00 60.00 C74.08 61.44 74.38 62.72 74.80 64.00 C75.22 65.28 76.09 66.56 76.60 68.00 C77.11 69.44 77.73 71.40 78.00 73.00 C78.27 74.60 78.43 76.40 78.30 78.00 C78.17 79.60 77.70 81.56 77.20 83.00 C76.70 84.44 75.87 85.85 75.20 87.00 C74.53 88.15 73.35 89.69 73.00 90.20 L73.00 90.20 C72.65 89.69 71.47 88.15 70.80 87.00 C70.13 85.85 69.30 84.44 68.80 83.00 C68.30 81.56 67.83 79.60 67.70 78.00 C67.57 76.40 67.73 74.60 68.00 73.00 C68.27 71.40 68.89 69.44 69.40 68.00 C69.91 66.56 70.78 65.28 71.20 64.00 C71.62 62.72 71.92 61.44 72.00 60.00 C72.08 58.56 71.81 56.38 71.70 55.00 C71.59 53.62 71.33 52.52 71.30 51.40 C71.27 50.28 71.39 49.02 71.50 48.00 C71.61 46.98 71.76 46.12 72.00 45.00 C72.24 43.88 72.84 41.64 73.00 41.00 Z" fill="rgba(255,136,30,0.42)" stroke="#ff8417" stroke-width="0.9"/>
<line x1="73.00" y1="55.85" x2="73.00" y2="83.49" stroke="#ff8417" stroke-width="0.8" opacity="0.7"/>
<rect x="71.60" y="68.00" width="2.8" height="10.00" fill="rgba(255,128,20,0.75)" stroke="#ff8417" stroke-width="0.6"/>
<path d="M99.00 17.30 C99.24 18.53 99.96 22.01 100.50 25.00 C101.04 27.99 101.95 32.16 102.40 36.00 C102.85 39.84 103.32 45.16 103.30 49.00 C103.28 52.84 102.62 56.64 102.30 60.00 C101.98 63.36 101.59 66.16 101.30 70.00 C101.01 73.84 100.69 79.36 100.50 84.00 C100.31 88.64 100.34 93.80 100.10 99.00 C99.86 104.20 99.18 113.70 99.00 116.50 L99.00 116.50 C98.82 113.70 98.14 104.20 97.90 99.00 C97.66 93.80 97.69 88.64 97.50 84.00 C97.31 79.36 96.99 73.84 96.70 70.00 C96.41 66.16 96.02 63.36 95.70 60.00 C95.38 56.64 94.72 52.84 94.70 49.00 C94.68 45.16 95.15 39.84 95.60 36.00 C96.05 32.16 96.96 27.99 97.50 25.00 C98.04 22.01 98.76 18.53 99.00 17.30 Z" fill="rgba(40,118,182,0.5)" stroke="#2e79bb" stroke-width="0.9"/>
<line x1="99.00" y1="32.48" x2="99.00" y2="90.10" stroke="#2e79bb" stroke-width="0.8" opacity="0.7"/>
<rect x="97.40" y="44.90" width="3.2" height="23.60" fill="rgba(36,112,178,0.75)" stroke="#2e79bb" stroke-width="0.6"/>
<path d="M114.80 37.10 C114.96 38.20 115.45 41.30 115.80 44.00 C116.15 46.70 116.73 50.54 117.00 54.00 C117.27 57.46 117.52 62.08 117.50 65.60 C117.48 69.12 117.14 72.74 116.90 76.00 C116.66 79.26 116.34 83.02 116.00 86.00 C115.66 88.98 114.99 93.22 114.80 94.60 L114.80 94.60 C114.61 93.22 113.94 88.98 113.60 86.00 C113.26 83.02 112.94 79.26 112.70 76.00 C112.46 72.74 112.12 69.12 112.10 65.60 C112.08 62.08 112.33 57.46 112.60 54.00 C112.87 50.54 113.45 46.70 113.80 44.00 C114.15 41.30 114.64 38.20 114.80 37.10 Z" fill="rgba(255,136,30,0.42)" stroke="#ff8417" stroke-width="0.9"/>
<line x1="114.80" y1="46.23" x2="114.80" y2="83.82" stroke="#ff8417" stroke-width="0.8" opacity="0.7"/>
<rect x="113.40" y="53.70" width="2.8" height="21.30" fill="rgba(255,128,20,0.75)" stroke="#ff8417" stroke-width="0.6"/>
<path d="M127.80 16.80 C128.04 18.03 128.76 21.43 129.30 24.50 C129.84 27.57 130.75 32.08 131.20 36.00 C131.65 39.92 132.12 45.16 132.10 49.00 C132.08 52.84 131.42 56.64 131.10 60.00 C130.78 63.36 130.39 66.16 130.10 70.00 C129.81 73.84 129.49 79.36 129.30 84.00 C129.11 88.64 129.14 93.90 128.90 99.00 C128.66 104.10 127.98 113.20 127.80 115.90 L127.80 115.90 C127.62 113.20 126.94 104.10 126.70 99.00 C126.46 93.90 126.49 88.64 126.30 84.00 C126.11 79.36 125.79 73.84 125.50 70.00 C125.21 66.16 124.82 63.36 124.50 60.00 C124.18 56.64 123.52 52.84 123.50 49.00 C123.48 45.16 123.95 39.92 124.40 36.00 C124.85 32.08 125.76 27.57 126.30 24.50 C126.84 21.43 127.56 18.03 127.80 16.80 Z" fill="rgba(40,118,182,0.5)" stroke="#2e79bb" stroke-width="0.9"/>
<line x1="127.80" y1="31.87" x2="127.80" y2="89.83" stroke="#2e79bb" stroke-width="0.8" opacity="0.7"/>
<rect x="126.20" y="44.20" width="3.2" height="24.30" fill="rgba(36,112,178,0.75)" stroke="#2e79bb" stroke-width="0.6"/>
<path d="M152.10 40.10 C152.26 40.72 152.86 42.90 153.10 44.00 C153.34 45.10 153.49 45.98 153.60 47.00 C153.71 48.02 153.83 49.28 153.80 50.40 C153.77 51.52 153.51 52.62 153.40 54.00 C153.29 55.38 153.02 57.56 153.10 59.00 C153.18 60.44 153.50 61.72 153.90 63.00 C154.30 64.28 155.12 65.56 155.60 67.00 C156.08 68.44 156.64 70.40 156.90 72.00 C157.16 73.60 157.31 75.40 157.20 77.00 C157.09 78.60 156.66 80.48 156.20 82.00 C155.74 83.52 154.96 85.25 154.30 86.50 C153.64 87.75 152.45 89.27 152.10 89.80 L152.10 89.80 C151.75 89.27 150.56 87.75 149.90 86.50 C149.24 85.25 148.46 83.52 148.00 82.00 C147.54 80.48 147.11 78.60 147.00 77.00 C146.89 75.40 147.04 73.60 147.30 72.00 C147.56 70.40 148.12 68.44 148.60 67.00 C149.08 65.56 149.90 64.28 150.30 63.00 C150.70 61.72 151.02 60.44 151.10 59.00 C151.18 57.56 150.91 55.38 150.80 54.00 C150.69 52.62 150.43 51.52 150.40 50.40 C150.37 49.28 150.49 48.02 150.60 47.00 C150.71 45.98 150.86 45.10 151.10 44.00 C151.34 42.90 151.94 40.72 152.10 40.10 Z" fill="rgba(255,136,30,0.42)" stroke="#ff8417" stroke-width="0.9"/>
<line x1="152.10" y1="55.06" x2="152.10" y2="83.31" stroke="#ff8417" stroke-width="0.8" opacity="0.7"/>
<rect x="150.70" y="67.30" width="2.8" height="10.70" fill="rgba(255,128,20,0.75)" stroke="#ff8417" stroke-width="0.6"/>
<path d="M165.10 25.30 C165.31 26.85 165.92 31.53 166.40 35.00 C166.88 38.47 167.60 43.48 168.10 47.00 C168.60 50.52 169.18 54.02 169.50 57.00 C169.82 59.98 170.12 62.88 170.10 65.60 C170.08 68.32 169.75 71.54 169.40 74.00 C169.05 76.46 168.33 78.92 167.90 81.00 C167.47 83.08 166.97 85.24 166.70 87.00 C166.43 88.76 166.46 90.22 166.20 92.00 C165.94 93.78 165.28 97.12 165.10 98.10 L165.10 98.10 C164.92 97.12 164.26 93.78 164.00 92.00 C163.74 90.22 163.77 88.76 163.50 87.00 C163.23 85.24 162.73 83.08 162.30 81.00 C161.87 78.92 161.15 76.46 160.80 74.00 C160.45 71.54 160.12 68.32 160.10 65.60 C160.08 62.88 160.38 59.98 160.70 57.00 C161.02 54.02 161.60 50.52 162.10 47.00 C162.60 43.48 163.32 38.47 163.80 35.00 C164.28 31.53 164.89 26.85 165.10 25.30 Z" fill="rgba(40,118,182,0.5)" stroke="#2e79bb" stroke-width="0.9"/>
<line x1="165.10" y1="40.59" x2="165.10" y2="84.41" stroke="#2e79bb" stroke-width="0.8" opacity="0.7"/>
<rect x="163.50" y="53.10" width="3.2" height="20.10" fill="rgba(36,112,178,0.75)" stroke="#2e79bb" stroke-width="0.6"/>
<path d="M189.40 17.60 C189.56 19.10 190.05 23.58 190.40 27.00 C190.75 30.42 191.31 35.11 191.60 39.00 C191.89 42.89 192.17 47.14 192.20 51.30 C192.23 55.46 191.99 60.89 191.80 65.00 C191.61 69.11 191.21 73.64 191.00 77.00 C190.79 80.36 190.76 83.10 190.50 86.00 C190.24 88.90 189.58 93.64 189.40 95.10 L189.40 95.10 C189.22 93.64 188.56 88.90 188.30 86.00 C188.04 83.10 188.01 80.36 187.80 77.00 C187.59 73.64 187.19 69.11 187.00 65.00 C186.81 60.89 186.57 55.46 186.60 51.30 C186.63 47.14 186.91 42.89 187.20 39.00 C187.49 35.11 188.05 30.42 188.40 27.00 C188.75 23.58 189.24 19.10 189.40 17.60 Z" fill="rgba(255,136,30,0.42)" stroke="#ff8417" stroke-width="0.9"/>
<line x1="189.40" y1="30.31" x2="189.40" y2="77.88" stroke="#ff8417" stroke-width="0.8" opacity="0.7"/>
<rect x="187.90" y="40.70" width="3" height="23.10" fill="rgba(255,128,20,0.75)" stroke="#ff8417" stroke-width="0.6"/>
<path d="M202.40 30.00 C202.61 31.28 203.25 35.12 203.70 38.00 C204.15 40.88 204.74 44.80 205.20 48.00 C205.66 51.20 206.25 54.24 206.60 58.00 C206.95 61.76 207.38 68.14 207.40 71.50 C207.42 74.86 207.05 76.84 206.70 79.00 C206.35 81.16 205.63 83.24 205.20 85.00 C204.77 86.76 204.27 88.40 204.00 90.00 C203.73 91.60 203.76 93.13 203.50 95.00 C203.24 96.87 202.58 100.63 202.40 101.70 L202.40 101.70 C202.22 100.63 201.56 96.87 201.30 95.00 C201.04 93.13 201.07 91.60 200.80 90.00 C200.53 88.40 200.03 86.76 199.60 85.00 C199.17 83.24 198.45 81.16 198.10 79.00 C197.75 76.84 197.38 74.86 197.40 71.50 C197.42 68.14 197.85 61.76 198.20 58.00 C198.55 54.24 199.14 51.20 199.60 48.00 C200.06 44.80 200.65 40.88 201.10 38.00 C201.55 35.12 202.19 31.28 202.40 30.00 Z" fill="rgba(40,118,182,0.5)" stroke="#2e79bb" stroke-width="0.9"/>
<line x1="202.40" y1="41.44" x2="202.40" y2="87.79" stroke="#2e79bb" stroke-width="0.8" opacity="0.7"/>
<rect x="200.80" y="50.80" width="3.2" height="25.60" fill="rgba(36,112,178,0.75)" stroke="#2e79bb" stroke-width="0.6"/>
<path d="M9.5 91.5 H106.5 L108 90.5 H211" stroke="#9a9a9a" stroke-width="1" fill="none"/></svg>
<div class="t" style="left:719.00px;width:150px;text-align:right;top:644.50px;font-size:8.1px;font-weight:400;color:#454a55">MM Group - State 10</div>
<div class="a" style="left:175.5px;top:804.5px;width:222.3px;height:125.2px;border:1.5px solid #e2e4e9;background:#fff"></div>
<svg style="left:175.5px;top:804.0px" width="222" height="126" viewBox="0 0 222 126"><line x1="9.5" y1="34.5" x2="211" y2="34.5" stroke="#f0f0f0" stroke-width="1"/>
<line x1="9.5" y1="62.5" x2="211" y2="62.5" stroke="#f0f0f0" stroke-width="1"/>
<path d="M18.50 30.60 C18.71 31.94 19.35 36.06 19.80 39.00 C20.25 41.94 20.84 45.80 21.30 49.00 C21.76 52.20 22.32 55.21 22.70 59.00 C23.08 62.79 23.67 69.34 23.70 72.70 C23.73 76.06 23.28 77.87 22.90 80.00 C22.52 82.13 21.75 84.24 21.30 86.00 C20.85 87.76 20.37 89.40 20.10 91.00 C19.83 92.60 19.86 94.24 19.60 96.00 C19.34 97.76 18.68 101.04 18.50 102.00 L18.50 102.00 C18.32 101.04 17.66 97.76 17.40 96.00 C17.14 94.24 17.17 92.60 16.90 91.00 C16.63 89.40 16.15 87.76 15.70 86.00 C15.25 84.24 14.48 82.13 14.10 80.00 C13.72 77.87 13.27 76.06 13.30 72.70 C13.33 69.34 13.92 62.79 14.30 59.00 C14.68 55.21 15.24 52.20 15.70 49.00 C16.16 45.80 16.75 41.94 17.20 39.00 C17.65 36.06 18.29 31.94 18.50 30.60 Z" fill="rgba(40,118,182,0.5)" stroke="#2e79bb" stroke-width="0.9"/>
<line x1="18.50" y1="42.04" x2="18.50" y2="87.97" stroke="#2e79bb" stroke-width="0.8" opacity="0.7"/>
<rect x="16.90" y="51.40" width="3.2" height="25.10" fill="rgba(36,112,178,0.75)" stroke="#2e79bb" stroke-width="0.6"/>
<path d="M32.50 18.20 C32.66 19.61 33.15 23.67 33.50 27.00 C33.85 30.33 34.40 34.73 34.70 39.00 C35.00 43.27 35.37 49.38 35.40 53.70 C35.43 58.02 35.11 62.11 34.90 66.00 C34.69 69.89 34.31 74.80 34.10 78.00 C33.89 81.20 33.86 83.25 33.60 86.00 C33.34 88.75 32.68 93.73 32.50 95.20 L32.50 95.20 C32.32 93.73 31.66 88.75 31.40 86.00 C31.14 83.25 31.11 81.20 30.90 78.00 C30.69 74.80 30.31 69.89 30.10 66.00 C29.89 62.11 29.57 58.02 29.60 53.70 C29.63 49.38 30.00 43.27 30.30 39.00 C30.60 34.73 31.15 30.33 31.50 27.00 C31.85 23.67 32.34 19.61 32.50 18.20 Z" fill="rgba(255,136,30,0.42)" stroke="#ff8417" stroke-width="0.9"/>
<line x1="32.50" y1="31.24" x2="32.50" y2="77.60" stroke="#ff8417" stroke-width="0.8" opacity="0.7"/>
<rect x="31.00" y="41.90" width="3" height="21.30" fill="rgba(255,128,20,0.75)" stroke="#ff8417" stroke-width="0.6"/>
<path d="M58.80 25.90 C59.01 27.52 59.59 32.30 60.10 36.00 C60.61 39.70 61.44 45.32 62.00 49.00 C62.56 52.68 63.23 56.15 63.60 59.00 C63.97 61.85 64.33 64.24 64.30 66.80 C64.27 69.36 63.83 72.57 63.40 75.00 C62.97 77.43 62.08 79.92 61.60 82.00 C61.12 84.08 60.67 86.24 60.40 88.00 C60.13 89.76 60.16 91.38 59.90 93.00 C59.64 94.62 58.98 97.28 58.80 98.10 L58.80 98.10 C58.62 97.28 57.96 94.62 57.70 93.00 C57.44 91.38 57.47 89.76 57.20 88.00 C56.93 86.24 56.48 84.08 56.00 82.00 C55.52 79.92 54.63 77.43 54.20 75.00 C53.77 72.57 53.33 69.36 53.30 66.80 C53.27 64.24 53.63 61.85 54.00 59.00 C54.37 56.15 55.04 52.68 55.60 49.00 C56.16 45.32 56.99 39.70 57.50 36.00 C58.01 32.30 58.59 27.52 58.80 25.90 Z" fill="rgba(40,118,182,0.5)" stroke="#2e79bb" stroke-width="0.9"/>
<line x1="58.80" y1="41.19" x2="58.80" y2="84.46" stroke="#2e79bb" stroke-width="0.8" opacity="0.7"/>
<rect x="57.20" y="53.70" width="3.2" height="19.60" fill="rgba(36,112,178,0.75)" stroke="#2e79bb" stroke-width="0.6"/>
<path d="M73.00 41.00 C73.16 41.64 73.76 43.88 74.00 45.00 C74.24 46.12 74.39 46.98 74.50 48.00 C74.61 49.02 74.73 50.28 74.70 51.40 C74.67 52.52 74.41 53.62 74.30 55.00 C74.19 56.38 73.92 58.56 74.00 60.00 C74.08 61.44 74.38 62.72 74.80 64.00 C75.22 65.28 76.09 66.56 76.60 68.00 C77.11 69.44 77.73 71.40 78.00 73.00 C78.27 74.60 78.43 76.40 78.30 78.00 C78.17 79.60 77.70 81.56 77.20 83.00 C76.70 84.44 75.87 85.85 75.20 87.00 C74.53 88.15 73.35 89.69 73.00 90.20 L73.00 90.20 C72.65 89.69 71.47 88.15 70.80 87.00 C70.13 85.85 69.30 84.44 68.80 83.00 C68.30 81.56 67.83 79.60 67.70 78.00 C67.57 76.40 67.73 74.60 68.00 73.00 C68.27 71.40 68.89 69.44 69.40 68.00 C69.91 66.56 70.78 65.28 71.20 64.00 C71.62 62.72 71.92 61.44 72.00 60.00 C72.08 58.56 71.81 56.38 71.70 55.00 C71.59 53.62 71.33 52.52 71.30 51.40 C71.27 50.28 71.39 49.02 71.50 48.00 C71.61 46.98 71.76 46.12 72.00 45.00 C72.24 43.88 72.84 41.64 73.00 41.00 Z" fill="rgba(255,136,30,0.42)" stroke="#ff8417" stroke-width="0.9"/>
<line x1="73.00" y1="55.85" x2="73.00" y2="83.49" stroke="#ff8417" stroke-width="0.8" opacity="0.7"/>
<rect x="71.60" y="68.00" width="2.8" height="10.00" fill="rgba(255,128,20,0.75)" stroke="#ff8417" stroke-width="0.6"/>
<path d="M99.00 17.30 C99.24 18.53 99.96 22.01 100.50 25.00 C101.04 27.99 101.95 32.16 102.40 36.00 C102.85 39.84 103.32 45.16 103.30 49.00 C103.28 52.84 102.62 56.64 102.30 60.00 C101.98 63.36 101.59 66.16 101.30 70.00 C101.01 73.84 100.69 79.36 100.50 84.00 C100.31 88.64 100.34 93.80 100.10 99.00 C99.86 104.20 99.18 113.70 99.00 116.50 L99.00 116.50 C98.82 113.70 98.14 104.20 97.90 99.00 C97.66 93.80 97.69 88.64 97.50 84.00 C97.31 79.36 96.99 73.84 96.70 70.00 C96.41 66.16 96.02 63.36 95.70 60.00 C95.38 56.64 94.72 52.84 94.70 49.00 C94.68 45.16 95.15 39.84 95.60 36.00 C96.05 32.16 96.96 27.99 97.50 25.00 C98.04 22.01 98.76 18.53 99.00 17.30 Z" fill="rgba(40,118,182,0.5)" stroke="#2e79bb" stroke-width="0.9"/>
<line x1="99.00" y1="32.48" x2="99.00" y2="90.10" stroke="#2e79bb" stroke-width="0.8" opacity="0.7"/>
<rect x="97.40" y="44.90" width="3.2" height="23.60" fill="rgba(36,112,178,0.75)" stroke="#2e79bb" stroke-width="0.6"/>
<path d="M114.80 37.10 C114.96 38.20 115.45 41.30 115.80 44.00 C116.15 46.70 116.73 50.54 117.00 54.00 C117.27 57.46 117.52 62.08 117.50 65.60 C117.48 69.12 117.14 72.74 116.90 76.00 C116.66 79.26 116.34 83.02 116.00 86.00 C115.66 88.98 114.99 93.22 114.80 94.60 L114.80 94.60 C114.61 93.22 113.94 88.98 113.60 86.00 C113.26 83.02 112.94 79.26 112.70 76.00 C112.46 72.74 112.12 69.12 112.10 65.60 C112.08 62.08 112.33 57.46 112.60 54.00 C112.87 50.54 113.45 46.70 113.80 44.00 C114.15 41.30 114.64 38.20 114.80 37.10 Z" fill="rgba(255,136,30,0.42)" stroke="#ff8417" stroke-width="0.9"/>
<line x1="114.80" y1="46.23" x2="114.80" y2="83.82" stroke="#ff8417" stroke-width="0.8" opacity="0.7"/>
<rect x="113.40" y="53.70" width="2.8" height="21.30" fill="rgba(255,128,20,0.75)" stroke="#ff8417" stroke-width="0.6"/>
<path d="M127.80 16.80 C128.04 18.03 128.76 21.43 129.30 24.50 C129.84 27.57 130.75 32.08 131.20 36.00 C131.65 39.92 132.12 45.16 132.10 49.00 C132.08 52.84 131.42 56.64 131.10 60.00 C130.78 63.36 130.39 66.16 130.10 70.00 C129.81 73.84 129.49 79.36 129.30 84.00 C129.11 88.64 129.14 93.90 128.90 99.00 C128.66 104.10 127.98 113.20 127.80 115.90 L127.80 115.90 C127.62 113.20 126.94 104.10 126.70 99.00 C126.46 93.90 126.49 88.64 126.30 84.00 C126.11 79.36 125.79 73.84 125.50 70.00 C125.21 66.16 124.82 63.36 124.50 60.00 C124.18 56.64 123.52 52.84 123.50 49.00 C123.48 45.16 123.95 39.92 124.40 36.00 C124.85 32.08 125.76 27.57 126.30 24.50 C126.84 21.43 127.56 18.03 127.80 16.80 Z" fill="rgba(40,118,182,0.5)" stroke="#2e79bb" stroke-width="0.9"/>
<line x1="127.80" y1="31.87" x2="127.80" y2="89.83" stroke="#2e79bb" stroke-width="0.8" opacity="0.7"/>
<rect x="126.20" y="44.20" width="3.2" height="24.30" fill="rgba(36,112,178,0.75)" stroke="#2e79bb" stroke-width="0.6"/>
<path d="M152.10 40.10 C152.26 40.72 152.86 42.90 153.10 44.00 C153.34 45.10 153.49 45.98 153.60 47.00 C153.71 48.02 153.83 49.28 153.80 50.40 C153.77 51.52 153.51 52.62 153.40 54.00 C153.29 55.38 153.02 57.56 153.10 59.00 C153.18 60.44 153.50 61.72 153.90 63.00 C154.30 64.28 155.12 65.56 155.60 67.00 C156.08 68.44 156.64 70.40 156.90 72.00 C157.16 73.60 157.31 75.40 157.20 77.00 C157.09 78.60 156.66 80.48 156.20 82.00 C155.74 83.52 154.96 85.25 154.30 86.50 C153.64 87.75 152.45 89.27 152.10 89.80 L152.10 89.80 C151.75 89.27 150.56 87.75 149.90 86.50 C149.24 85.25 148.46 83.52 148.00 82.00 C147.54 80.48 147.11 78.60 147.00 77.00 C146.89 75.40 147.04 73.60 147.30 72.00 C147.56 70.40 148.12 68.44 148.60 67.00 C149.08 65.56 149.90 64.28 150.30 63.00 C150.70 61.72 151.02 60.44 151.10 59.00 C151.18 57.56 150.91 55.38 150.80 54.00 C150.69 52.62 150.43 51.52 150.40 50.40 C150.37 49.28 150.49 48.02 150.60 47.00 C150.71 45.98 150.86 45.10 151.10 44.00 C151.34 42.90 151.94 40.72 152.10 40.10 Z" fill="rgba(255,136,30,0.42)" stroke="#ff8417" stroke-width="0.9"/>
<line x1="152.10" y1="55.06" x2="152.10" y2="83.31" stroke="#ff8417" stroke-width="0.8" opacity="0.7"/>
<rect x="150.70" y="67.30" width="2.8" height="10.70" fill="rgba(255,128,20,0.75)" stroke="#ff8417" stroke-width="0.6"/>
<path d="M165.10 25.30 C165.31 26.85 165.92 31.53 166.40 35.00 C166.88 38.47 167.60 43.48 168.10 47.00 C168.60 50.52 169.18 54.02 169.50 57.00 C169.82 59.98 170.12 62.88 170.10 65.60 C170.08 68.32 169.75 71.54 169.40 74.00 C169.05 76.46 168.33 78.92 167.90 81.00 C167.47 83.08 166.97 85.24 166.70 87.00 C166.43 88.76 166.46 90.22 166.20 92.00 C165.94 93.78 165.28 97.12 165.10 98.10 L165.10 98.10 C164.92 97.12 164.26 93.78 164.00 92.00 C163.74 90.22 163.77 88.76 163.50 87.00 C163.23 85.24 162.73 83.08 162.30 81.00 C161.87 78.92 161.15 76.46 160.80 74.00 C160.45 71.54 160.12 68.32 160.10 65.60 C160.08 62.88 160.38 59.98 160.70 57.00 C161.02 54.02 161.60 50.52 162.10 47.00 C162.60 43.48 163.32 38.47 163.80 35.00 C164.28 31.53 164.89 26.85 165.10 25.30 Z" fill="rgba(40,118,182,0.5)" stroke="#2e79bb" stroke-width="0.9"/>
<line x1="165.10" y1="40.59" x2="165.10" y2="84.41" stroke="#2e79bb" stroke-width="0.8" opacity="0.7"/>
<rect x="163.50" y="53.10" width="3.2" height="20.10" fill="rgba(36,112,178,0.75)" stroke="#2e79bb" stroke-width="0.6"/>
<path d="M189.40 17.60 C189.56 19.10 190.05 23.58 190.40 27.00 C190.75 30.42 191.31 35.11 191.60 39.00 C191.89 42.89 192.17 47.14 192.20 51.30 C192.23 55.46 191.99 60.89 191.80 65.00 C191.61 69.11 191.21 73.64 191.00 77.00 C190.79 80.36 190.76 83.10 190.50 86.00 C190.24 88.90 189.58 93.64 189.40 95.10 L189.40 95.10 C189.22 93.64 188.56 88.90 188.30 86.00 C188.04 83.10 188.01 80.36 187.80 77.00 C187.59 73.64 187.19 69.11 187.00 65.00 C186.81 60.89 186.57 55.46 186.60 51.30 C186.63 47.14 186.91 42.89 187.20 39.00 C187.49 35.11 188.05 30.42 188.40 27.00 C188.75 23.58 189.24 19.10 189.40 17.60 Z" fill="rgba(255,136,30,0.42)" stroke="#ff8417" stroke-width="0.9"/>
<line x1="189.40" y1="30.31" x2="189.40" y2="77.88" stroke="#ff8417" stroke-width="0.8" opacity="0.7"/>
<rect x="187.90" y="40.70" width="3" height="23.10" fill="rgba(255,128,20,0.75)" stroke="#ff8417" stroke-width="0.6"/>
<path d="M202.40 30.00 C202.61 31.28 203.25 35.12 203.70 38.00 C204.15 40.88 204.74 44.80 205.20 48.00 C205.66 51.20 206.25 54.24 206.60 58.00 C206.95 61.76 207.38 68.14 207.40 71.50 C207.42 74.86 207.05 76.84 206.70 79.00 C206.35 81.16 205.63 83.24 205.20 85.00 C204.77 86.76 204.27 88.40 204.00 90.00 C203.73 91.60 203.76 93.13 203.50 95.00 C203.24 96.87 202.58 100.63 202.40 101.70 L202.40 101.70 C202.22 100.63 201.56 96.87 201.30 95.00 C201.04 93.13 201.07 91.60 200.80 90.00 C200.53 88.40 200.03 86.76 199.60 85.00 C199.17 83.24 198.45 81.16 198.10 79.00 C197.75 76.84 197.38 74.86 197.40 71.50 C197.42 68.14 197.85 61.76 198.20 58.00 C198.55 54.24 199.14 51.20 199.60 48.00 C200.06 44.80 200.65 40.88 201.10 38.00 C201.55 35.12 202.19 31.28 202.40 30.00 Z" fill="rgba(40,118,182,0.5)" stroke="#2e79bb" stroke-width="0.9"/>
<line x1="202.40" y1="41.44" x2="202.40" y2="87.79" stroke="#2e79bb" stroke-width="0.8" opacity="0.7"/>
<rect x="200.80" y="50.80" width="3.2" height="25.60" fill="rgba(36,112,178,0.75)" stroke="#2e79bb" stroke-width="0.6"/>
<path d="M9.5 91.5 H106.5 L108 90.5 H211" stroke="#9a9a9a" stroke-width="1" fill="none"/></svg>
<div class="t" style="left:243.80px;width:150px;text-align:right;top:792.60px;font-size:8.1px;font-weight:400;color:#454a55">MM Group - State 9</div>
<div class="a" style="left:413.75px;top:804.5px;width:222.3px;height:125.2px;border:1.5px solid #e2e4e9;background:#fff"></div>
<svg style="left:413.75px;top:804.0px" width="222" height="126" viewBox="0 0 222 126"><line x1="9.5" y1="34.5" x2="211" y2="34.5" stroke="#f0f0f0" stroke-width="1"/>
<line x1="9.5" y1="62.5" x2="211" y2="62.5" stroke="#f0f0f0" stroke-width="1"/>
<path d="M18.50 30.60 C18.71 31.94 19.35 36.06 19.80 39.00 C20.25 41.94 20.84 45.80 21.30 49.00 C21.76 52.20 22.32 55.21 22.70 59.00 C23.08 62.79 23.67 69.34 23.70 72.70 C23.73 76.06 23.28 77.87 22.90 80.00 C22.52 82.13 21.75 84.24 21.30 86.00 C20.85 87.76 20.37 89.40 20.10 91.00 C19.83 92.60 19.86 94.24 19.60 96.00 C19.34 97.76 18.68 101.04 18.50 102.00 L18.50 102.00 C18.32 101.04 17.66 97.76 17.40 96.00 C17.14 94.24 17.17 92.60 16.90 91.00 C16.63 89.40 16.15 87.76 15.70 86.00 C15.25 84.24 14.48 82.13 14.10 80.00 C13.72 77.87 13.27 76.06 13.30 72.70 C13.33 69.34 13.92 62.79 14.30 59.00 C14.68 55.21 15.24 52.20 15.70 49.00 C16.16 45.80 16.75 41.94 17.20 39.00 C17.65 36.06 18.29 31.94 18.50 30.60 Z" fill="rgba(40,118,182,0.5)" stroke="#2e79bb" stroke-width="0.9"/>
<line x1="18.50" y1="42.04" x2="18.50" y2="87.97" stroke="#2e79bb" stroke-width="0.8" opacity="0.7"/>
<rect x="16.90" y="51.40" width="3.2" height="25.10" fill="rgba(36,112,178,0.75)" stroke="#2e79bb" stroke-width="0.6"/>
<path d="M32.50 18.20 C32.66 19.61 33.15 23.67 33.50 27.00 C33.85 30.33 34.40 34.73 34.70 39.00 C35.00 43.27 35.37 49.38 35.40 53.70 C35.43 58.02 35.11 62.11 34.90 66.00 C34.69 69.89 34.31 74.80 34.10 78.00 C33.89 81.20 33.86 83.25 33.60 86.00 C33.34 88.75 32.68 93.73 32.50 95.20 L32.50 95.20 C32.32 93.73 31.66 88.75 31.40 86.00 C31.14 83.25 31.11 81.20 30.90 78.00 C30.69 74.80 30.31 69.89 30.10 66.00 C29.89 62.11 29.57 58.02 29.60 53.70 C29.63 49.38 30.00 43.27 30.30 39.00 C30.60 34.73 31.15 30.33 31.50 27.00 C31.85 23.67 32.34 19.61 32.50 18.20 Z" fill="rgba(255,136,30,0.42)" stroke="#ff8417" stroke-width="0.9"/>
<line x1="32.50" y1="31.24" x2="32.50" y2="77.60" stroke="#ff8417" stroke-width="0.8" opacity="0.7"/>
<rect x="31.00" y="41.90" width="3" height="21.30" fill="rgba(255,128,20,0.75)" stroke="#ff8417" stroke-width="0.6"/>
<path d="M58.80 25.90 C59.01 27.52 59.59 32.30 60.10 36.00 C60.61 39.70 61.44 45.32 62.00 49.00 C62.56 52.68 63.23 56.15 63.60 59.00 C63.97 61.85 64.33 64.24 64.30 66.80 C64.27 69.36 63.83 72.57 63.40 75.00 C62.97 77.43 62.08 79.92 61.60 82.00 C61.12 84.08 60.67 86.24 60.40 88.00 C60.13 89.76 60.16 91.38 59.90 93.00 C59.64 94.62 58.98 97.28 58.80 98.10 L58.80 98.10 C58.62 97.28 57.96 94.62 57.70 93.00 C57.44 91.38 57.47 89.76 57.20 88.00 C56.93 86.24 56.48 84.08 56.00 82.00 C55.52 79.92 54.63 77.43 54.20 75.00 C53.77 72.57 53.33 69.36 53.30 66.80 C53.27 64.24 53.63 61.85 54.00 59.00 C54.37 56.15 55.04 52.68 55.60 49.00 C56.16 45.32 56.99 39.70 57.50 36.00 C58.01 32.30 58.59 27.52 58.80 25.90 Z" fill="rgba(40,118,182,0.5)" stroke="#2e79bb" stroke-width="0.9"/>
<line x1="58.80" y1="41.19" x2="58.80" y2="84.46" stroke="#2e79bb" stroke-width="0.8" opacity="0.7"/>
<rect x="57.20" y="53.70" width="3.2" height="19.60" fill="rgba(36,112,178,0.75)" stroke="#2e79bb" stroke-width="0.6"/>
<path d="M73.00 41.00 C73.16 41.64 73.76 43.88 74.00 45.00 C74.24 46.12 74.39 46.98 74.50 48.00 C74.61 49.02 74.73 50.28 74.70 51.40 C74.67 52.52 74.41 53.62 74.30 55.00 C74.19 56.38 73.92 58.56 74.00 60.00 C74.08 61.44 74.38 62.72 74.80 64.00 C75.22 65.28 76.09 66.56 76.60 68.00 C77.11 69.44 77.73 71.40 78.00 73.00 C78.27 74.60 78.43 76.40 78.30 78.00 C78.17 79.60 77.70 81.56 77.20 83.00 C76.70 84.44 75.87 85.85 75.20 87.00 C74.53 88.15 73.35 89.69 73.00 90.20 L73.00 90.20 C72.65 89.69 71.47 88.15 70.80 87.00 C70.13 85.85 69.30 84.44 68.80 83.00 C68.30 81.56 67.83 79.60 67.70 78.00 C67.57 76.40 67.73 74.60 68.00 73.00 C68.27 71.40 68.89 69.44 69.40 68.00 C69.91 66.56 70.78 65.28 71.20 64.00 C71.62 62.72 71.92 61.44 72.00 60.00 C72.08 58.56 71.81 56.38 71.70 55.00 C71.59 53.62 71.33 52.52 71.30 51.40 C71.27 50.28 71.39 49.02 71.50 48.00 C71.61 46.98 71.76 46.12 72.00 45.00 C72.24 43.88 72.84 41.64 73.00 41.00 Z" fill="rgba(255,136,30,0.42)" stroke="#ff8417" stroke-width="0.9"/>
<line x1="73.00" y1="55.85" x2="73.00" y2="83.49" stroke="#ff8417" stroke-width="0.8" opacity="0.7"/>
<rect x="71.60" y="68.00" width="2.8" height="10.00" fill="rgba(255,128,20,0.75)" stroke="#ff8417" stroke-width="0.6"/>
<path d="M99.00 17.30 C99.24 18.53 99.96 22.01 100.50 25.00 C101.04 27.99 101.95 32.16 102.40 36.00 C102.85 39.84 103.32 45.16 103.30 49.00 C103.28 52.84 102.62 56.64 102.30 60.00 C101.98 63.36 101.59 66.16 101.30 70.00 C101.01 73.84 100.69 79.36 100.50 84.00 C100.31 88.64 100.34 93.80 100.10 99.00 C99.86 104.20 99.18 113.70 99.00 116.50 L99.00 116.50 C98.82 113.70 98.14 104.20 97.90 99.00 C97.66 93.80 97.69 88.64 97.50 84.00 C97.31 79.36 96.99 73.84 96.70 70.00 C96.41 66.16 96.02 63.36 95.70 60.00 C95.38 56.64 94.72 52.84 94.70 49.00 C94.68 45.16 95.15 39.84 95.60 36.00 C96.05 32.16 96.96 27.99 97.50 25.00 C98.04 22.01 98.76 18.53 99.00 17.30 Z" fill="rgba(40,118,182,0.5)" stroke="#2e79bb" stroke-width="0.9"/>
<line x1="99.00" y1="32.48" x2="99.00" y2="90.10" stroke="#2e79bb" stroke-width="0.8" opacity="0.7"/>
<rect x="97.40" y="44.90" width="3.2" height="23.60" fill="rgba(36,112,178,0.75)" stroke="#2e79bb" stroke-width="0.6"/>
<path d="M114.80 37.10 C114.96 38.20 115.45 41.30 115.80 44.00 C116.15 46.70 116.73 50.54 117.00 54.00 C117.27 57.46 117.52 62.08 117.50 65.60 C117.48 69.12 117.14 72.74 116.90 76.00 C116.66 79.26 116.34 83.02 116.00 86.00 C115.66 88.98 114.99 93.22 114.80 94.60 L114.80 94.60 C114.61 93.22 113.94 88.98 113.60 86.00 C113.26 83.02 112.94 79.26 112.70 76.00 C112.46 72.74 112.12 69.12 112.10 65.60 C112.08 62.08 112.33 57.46 112.60 54.00 C112.87 50.54 113.45 46.70 113.80 44.00 C114.15 41.30 114.64 38.20 114.80 37.10 Z" fill="rgba(255,136,30,0.42)" stroke="#ff8417" stroke-width="0.9"/>
<line x1="114.80" y1="46.23" x2="114.80" y2="83.82" stroke="#ff8417" stroke-width="0.8" opacity="0.7"/>
<rect x="113.40" y="53.70" width="2.8" height="21.30" fill="rgba(255,128,20,0.75)" stroke="#ff8417" stroke-width="0.6"/>
<path d="M127.80 16.80 C128.04 18.03 128.76 21.43 129.30 24.50 C129.84 27.57 130.75 32.08 131.20 36.00 C131.65 39.92 132.12 45.16 132.10 49.00 C132.08 52.84 131.42 56.64 131.10 60.00 C130.78 63.36 130.39 66.16 130.10 70.00 C129.81 73.84 129.49 79.36 129.30 84.00 C129.11 88.64 129.14 93.90 128.90 99.00 C128.66 104.10 127.98 113.20 127.80 115.90 L127.80 115.90 C127.62 113.20 126.94 104.10 126.70 99.00 C126.46 93.90 126.49 88.64 126.30 84.00 C126.11 79.36 125.79 73.84 125.50 70.00 C125.21 66.16 124.82 63.36 124.50 60.00 C124.18 56.64 123.52 52.84 123.50 49.00 C123.48 45.16 123.95 39.92 124.40 36.00 C124.85 32.08 125.76 27.57 126.30 24.50 C126.84 21.43 127.56 18.03 127.80 16.80 Z" fill="rgba(40,118,182,0.5)" stroke="#2e79bb" stroke-width="0.9"/>
<line x1="127.80" y1="31.87" x2="127.80" y2="89.83" stroke="#2e79bb" stroke-width="0.8" opacity="0.7"/>
<rect x="126.20" y="44.20" width="3.2" height="24.30" fill="rgba(36,112,178,0.75)" stroke="#2e79bb" stroke-width="0.6"/>
<path d="M152.10 40.10 C152.26 40.72 152.86 42.90 153.10 44.00 C153.34 45.10 153.49 45.98 153.60 47.00 C153.71 48.02 153.83 49.28 153.80 50.40 C153.77 51.52 153.51 52.62 153.40 54.00 C153.29 55.38 153.02 57.56 153.10 59.00 C153.18 60.44 153.50 61.72 153.90 63.00 C154.30 64.28 155.12 65.56 155.60 67.00 C156.08 68.44 156.64 70.40 156.90 72.00 C157.16 73.60 157.31 75.40 157.20 77.00 C157.09 78.60 156.66 80.48 156.20 82.00 C155.74 83.52 154.96 85.25 154.30 86.50 C153.64 87.75 152.45 89.27 152.10 89.80 L152.10 89.80 C151.75 89.27 150.56 87.75 149.90 86.50 C149.24 85.25 148.46 83.52 148.00 82.00 C147.54 80.48 147.11 78.60 147.00 77.00 C146.89 75.40 147.04 73.60 147.30 72.00 C147.56 70.40 148.12 68.44 148.60 67.00 C149.08 65.56 149.90 64.28 150.30 63.00 C150.70 61.72 151.02 60.44 151.10 59.00 C151.18 57.56 150.91 55.38 150.80 54.00 C150.69 52.62 150.43 51.52 150.40 50.40 C150.37 49.28 150.49 48.02 150.60 47.00 C150.71 45.98 150.86 45.10 151.10 44.00 C151.34 42.90 151.94 40.72 152.10 40.10 Z" fill="rgba(255,136,30,0.42)" stroke="#ff8417" stroke-width="0.9"/>
<line x1="152.10" y1="55.06" x2="152.10" y2="83.31" stroke="#ff8417" stroke-width="0.8" opacity="0.7"/>
<rect x="150.70" y="67.30" width="2.8" height="10.70" fill="rgba(255,128,20,0.75)" stroke="#ff8417" stroke-width="0.6"/>
<path d="M165.10 25.30 C165.31 26.85 165.92 31.53 166.40 35.00 C166.88 38.47 167.60 43.48 168.10 47.00 C168.60 50.52 169.18 54.02 169.50 57.00 C169.82 59.98 170.12 62.88 170.10 65.60 C170.08 68.32 169.75 71.54 169.40 74.00 C169.05 76.46 168.33 78.92 167.90 81.00 C167.47 83.08 166.97 85.24 166.70 87.00 C166.43 88.76 166.46 90.22 166.20 92.00 C165.94 93.78 165.28 97.12 165.10 98.10 L165.10 98.10 C164.92 97.12 164.26 93.78 164.00 92.00 C163.74 90.22 163.77 88.76 163.50 87.00 C163.23 85.24 162.73 83.08 162.30 81.00 C161.87 78.92 161.15 76.46 160.80 74.00 C160.45 71.54 160.12 68.32 160.10 65.60 C160.08 62.88 160.38 59.98 160.70 57.00 C161.02 54.02 161.60 50.52 162.10 47.00 C162.60 43.48 163.32 38.47 163.80 35.00 C164.28 31.53 164.89 26.85 165.10 25.30 Z" fill="rgba(40,118,182,0.5)" stroke="#2e79bb" stroke-width="0.9"/>
<line x1="165.10" y1="40.59" x2="165.10" y2="84.41" stroke="#2e79bb" stroke-width="0.8" opacity="0.7"/>
<rect x="163.50" y="53.10" width="3.2" height="20.10" fill="rgba(36,112,178,0.75)" stroke="#2e79bb" stroke-width="0.6"/>
<path d="M189.40 17.60 C189.56 19.10 190.05 23.58 190.40 27.00 C190.75 30.42 191.31 35.11 191.60 39.00 C191.89 42.89 192.17 47.14 192.20 51.30 C192.23 55.46 191.99 60.89 191.80 65.00 C191.61 69.11 191.21 73.64 191.00 77.00 C190.79 80.36 190.76 83.10 190.50 86.00 C190.24 88.90 189.58 93.64 189.40 95.10 L189.40 95.10 C189.22 93.64 188.56 88.90 188.30 86.00 C188.04 83.10 188.01 80.36 187.80 77.00 C187.59 73.64 187.19 69.11 187.00 65.00 C186.81 60.89 186.57 55.46 186.60 51.30 C186.63 47.14 186.91 42.89 187.20 39.00 C187.49 35.11 188.05 30.42 188.40 27.00 C188.75 23.58 189.24 19.10 189.40 17.60 Z" fill="rgba(255,136,30,0.42)" stroke="#ff8417" stroke-width="0.9"/>
<line x1="189.40" y1="30.31" x2="189.40" y2="77.88" stroke="#ff8417" stroke-width="0.8" opacity="0.7"/>
<rect x="187.90" y="40.70" width="3" height="23.10" fill="rgba(255,128,20,0.75)" stroke="#ff8417" stroke-width="0.6"/>
<path d="M202.40 30.00 C202.61 31.28 203.25 35.12 203.70 38.00 C204.15 40.88 204.74 44.80 205.20 48.00 C205.66 51.20 206.25 54.24 206.60 58.00 C206.95 61.76 207.38 68.14 207.40 71.50 C207.42 74.86 207.05 76.84 206.70 79.00 C206.35 81.16 205.63 83.24 205.20 85.00 C204.77 86.76 204.27 88.40 204.00 90.00 C203.73 91.60 203.76 93.13 203.50 95.00 C203.24 96.87 202.58 100.63 202.40 101.70 L202.40 101.70 C202.22 100.63 201.56 96.87 201.30 95.00 C201.04 93.13 201.07 91.60 200.80 90.00 C200.53 88.40 200.03 86.76 199.60 85.00 C199.17 83.24 198.45 81.16 198.10 79.00 C197.75 76.84 197.38 74.86 197.40 71.50 C197.42 68.14 197.85 61.76 198.20 58.00 C198.55 54.24 199.14 51.20 199.60 48.00 C200.06 44.80 200.65 40.88 201.10 38.00 C201.55 35.12 202.19 31.28 202.40 30.00 Z" fill="rgba(40,118,182,0.5)" stroke="#2e79bb" stroke-width="0.9"/>
<line x1="202.40" y1="41.44" x2="202.40" y2="87.79" stroke="#2e79bb" stroke-width="0.8" opacity="0.7"/>
<rect x="200.80" y="50.80" width="3.2" height="25.60" fill="rgba(36,112,178,0.75)" stroke="#2e79bb" stroke-width="0.6"/>
<path d="M9.5 91.5 H106.5 L108 90.5 H211" stroke="#9a9a9a" stroke-width="1" fill="none"/></svg>
<div class="t" style="left:481.30px;width:150px;text-align:right;top:793.00px;font-size:8.1px;font-weight:400;color:#454a55">MM Group - State 8</div>
<div class="a" style="left:651.25px;top:804.5px;width:222.3px;height:125.2px;border:1.5px solid #e2e4e9;background:#fff"></div>
<svg style="left:651.25px;top:804.0px" width="222" height="126" viewBox="0 0 222 126"><line x1="9.5" y1="34.5" x2="211" y2="34.5" stroke="#f0f0f0" stroke-width="1"/>
<line x1="9.5" y1="62.5" x2="211" y2="62.5" stroke="#f0f0f0" stroke-width="1"/>
<path d="M18.50 30.60 C18.71 31.94 19.35 36.06 19.80 39.00 C20.25 41.94 20.84 45.80 21.30 49.00 C21.76 52.20 22.32 55.21 22.70 59.00 C23.08 62.79 23.67 69.34 23.70 72.70 C23.73 76.06 23.28 77.87 22.90 80.00 C22.52 82.13 21.75 84.24 21.30 86.00 C20.85 87.76 20.37 89.40 20.10 91.00 C19.83 92.60 19.86 94.24 19.60 96.00 C19.34 97.76 18.68 101.04 18.50 102.00 L18.50 102.00 C18.32 101.04 17.66 97.76 17.40 96.00 C17.14 94.24 17.17 92.60 16.90 91.00 C16.63 89.40 16.15 87.76 15.70 86.00 C15.25 84.24 14.48 82.13 14.10 80.00 C13.72 77.87 13.27 76.06 13.30 72.70 C13.33 69.34 13.92 62.79 14.30 59.00 C14.68 55.21 15.24 52.20 15.70 49.00 C16.16 45.80 16.75 41.94 17.20 39.00 C17.65 36.06 18.29 31.94 18.50 30.60 Z" fill="rgba(40,118,182,0.5)" stroke="#2e79bb" stroke-width="0.9"/>
<line x1="18.50" y1="42.04" x2="18.50" y2="87.97" stroke="#2e79bb" stroke-width="0.8" opacity="0.7"/>
<rect x="16.90" y="51.40" width="3.2" height="25.10" fill="rgba(36,112,178,0.75)" stroke="#2e79bb" stroke-width="0.6"/>
<path d="M32.50 18.20 C32.66 19.61 33.15 23.67 33.50 27.00 C33.85 30.33 34.40 34.73 34.70 39.00 C35.00 43.27 35.37 49.38 35.40 53.70 C35.43 58.02 35.11 62.11 34.90 66.00 C34.69 69.89 34.31 74.80 34.10 78.00 C33.89 81.20 33.86 83.25 33.60 86.00 C33.34 88.75 32.68 93.73 32.50 95.20 L32.50 95.20 C32.32 93.73 31.66 88.75 31.40 86.00 C31.14 83.25 31.11 81.20 30.90 78.00 C30.69 74.80 30.31 69.89 30.10 66.00 C29.89 62.11 29.57 58.02 29.60 53.70 C29.63 49.38 30.00 43.27 30.30 39.00 C30.60 34.73 31.15 30.33 31.50 27.00 C31.85 23.67 32.34 19.61 32.50 18.20 Z" fill="rgba(255,136,30,0.42)" stroke="#ff8417" stroke-width="0.9"/>
<line x1="32.50" y1="31.24" x2="32.50" y2="77.60" stroke="#ff8417" stroke-width="0.8" opacity="0.7"/>
<rect x="31.00" y="41.90" width="3" height="21.30" fill="rgba(255,128,20,0.75)" stroke="#ff8417" stroke-width="0.6"/>
<path d="M58.80 25.90 C59.01 27.52 59.59 32.30 60.10 36.00 C60.61 39.70 61.44 45.32 62.00 49.00 C62.56 52.68 63.23 56.15 63.60 59.00 C63.97 61.85 64.33 64.24 64.30 66.80 C64.27 69.36 63.83 72.57 63.40 75.00 C62.97 77.43 62.08 79.92 61.60 82.00 C61.12 84.08 60.67 86.24 60.40 88.00 C60.13 89.76 60.16 91.38 59.90 93.00 C59.64 94.62 58.98 97.28 58.80 98.10 L58.80 98.10 C58.62 97.28 57.96 94.62 57.70 93.00 C57.44 91.38 57.47 89.76 57.20 88.00 C56.93 86.24 56.48 84.08 56.00 82.00 C55.52 79.92 54.63 77.43 54.20 75.00 C53.77 72.57 53.33 69.36 53.30 66.80 C53.27 64.24 53.63 61.85 54.00 59.00 C54.37 56.15 55.04 52.68 55.60 49.00 C56.16 45.32 56.99 39.70 57.50 36.00 C58.01 32.30 58.59 27.52 58.80 25.90 Z" fill="rgba(40,118,182,0.5)" stroke="#2e79bb" stroke-width="0.9"/>
<line x1="58.80" y1="41.19" x2="58.80" y2="84.46" stroke="#2e79bb" stroke-width="0.8" opacity="0.7"/>
<rect x="57.20" y="53.70" width="3.2" height="19.60" fill="rgba(36,112,178,0.75)" stroke="#2e79bb" stroke-width="0.6"/>
<path d="M73.00 41.00 C73.16 41.64 73.76 43.88 74.00 45.00 C74.24 46.12 74.39 46.98 74.50 48.00 C74.61 49.02 74.73 50.28 74.70 51.40 C74.67 52.52 74.41 53.62 74.30 55.00 C74.19 56.38 73.92 58.56 74.00 60.00 C74.08 61.44 74.38 62.72 74.80 64.00 C75.22 65.28 76.09 66.56 76.60 68.00 C77.11 69.44 77.73 71.40 78.00 73.00 C78.27 74.60 78.43 76.40 78.30 78.00 C78.17 79.60 77.70 81.56 77.20 83.00 C76.70 84.44 75.87 85.85 75.20 87.00 C74.53 88.15 73.35 89.69 73.00 90.20 L73.00 90.20 C72.65 89.69 71.47 88.15 70.80 87.00 C70.13 85.85 69.30 84.44 68.80 83.00 C68.30 81.56 67.83 79.60 67.70 78.00 C67.57 76.40 67.73 74.60 68.00 73.00 C68.27 71.40 68.89 69.44 69.40 68.00 C69.91 66.56 70.78 65.28 71.20 64.00 C71.62 62.72 71.92 61.44 72.00 60.00 C72.08 58.56 71.81 56.38 71.70 55.00 C71.59 53.62 71.33 52.52 71.30 51.40 C71.27 50.28 71.39 49.02 71.50 48.00 C71.61 46.98 71.76 46.12 72.00 45.00 C72.24 43.88 72.84 41.64 73.00 41.00 Z" fill="rgba(255,136,30,0.42)" stroke="#ff8417" stroke-width="0.9"/>
<line x1="73.00" y1="55.85" x2="73.00" y2="83.49" stroke="#ff8417" stroke-width="0.8" opacity="0.7"/>
<rect x="71.60" y="68.00" width="2.8" height="10.00" fill="rgba(255,128,20,0.75)" stroke="#ff8417" stroke-width="0.6"/>
<path d="M99.00 17.30 C99.24 18.53 99.96 22.01 100.50 25.00 C101.04 27.99 101.95 32.16 102.40 36.00 C102.85 39.84 103.32 45.16 103.30 49.00 C103.28 52.84 102.62 56.64 102.30 60.00 C101.98 63.36 101.59 66.16 101.30 70.00 C101.01 73.84 100.69 79.36 100.50 84.00 C100.31 88.64 100.34 93.80 100.10 99.00 C99.86 104.20 99.18 113.70 99.00 116.50 L99.00 116.50 C98.82 113.70 98.14 104.20 97.90 99.00 C97.66 93.80 97.69 88.64 97.50 84.00 C97.31 79.36 96.99 73.84 96.70 70.00 C96.41 66.16 96.02 63.36 95.70 60.00 C95.38 56.64 94.72 52.84 94.70 49.00 C94.68 45.16 95.15 39.84 95.60 36.00 C96.05 32.16 96.96 27.99 97.50 25.00 C98.04 22.01 98.76 18.53 99.00 17.30 Z" fill="rgba(40,118,182,0.5)" stroke="#2e79bb" stroke-width="0.9"/>
<line x1="99.00" y1="32.48" x2="99.00" y2="90.10" stroke="#2e79bb" stroke-width="0.8" opacity="0.7"/>
<rect x="97.40" y="44.90" width="3.2" height="23.60" fill="rgba(36,112,178,0.75)" stroke="#2e79bb" stroke-width="0.6"/>
<path d="M114.80 37.10 C114.96 38.20 115.45 41.30 115.80 44.00 C116.15 46.70 116.73 50.54 117.00 54.00 C117.27 57.46 117.52 62.08 117.50 65.60 C117.48 69.12 117.14 72.74 116.90 76.00 C116.66 79.26 116.34 83.02 116.00 86.00 C115.66 88.98 114.99 93.22 114.80 94.60 L114.80 94.60 C114.61 93.22 113.94 88.98 113.60 86.00 C113.26 83.02 112.94 79.26 112.70 76.00 C112.46 72.74 112.12 69.12 112.10 65.60 C112.08 62.08 112.33 57.46 112.60 54.00 C112.87 50.54 113.45 46.70 113.80 44.00 C114.15 41.30 114.64 38.20 114.80 37.10 Z" fill="rgba(255,136,30,0.42)" stroke="#ff8417" stroke-width="0.9"/>
<line x1="114.80" y1="46.23" x2="114.80" y2="83.82" stroke="#ff8417" stroke-width="0.8" opacity="0.7"/>
<rect x="113.40" y="53.70" width="2.8" height="21.30" fill="rgba(255,128,20,0.75)" stroke="#ff8417" stroke-width="0.6"/>
<path d="M127.80 16.80 C128.04 18.03 128.76 21.43 129.30 24.50 C129.84 27.57 130.75 32.08 131.20 36.00 C131.65 39.92 132.12 45.16 132.10 49.00 C132.08 52.84 131.42 56.64 131.10 60.00 C130.78 63.36 130.39 66.16 130.10 70.00 C129.81 73.84 129.49 79.36 129.30 84.00 C129.11 88.64 129.14 93.90 128.90 99.00 C128.66 104.10 127.98 113.20 127.80 115.90 L127.80 115.90 C127.62 113.20 126.94 104.10 126.70 99.00 C126.46 93.90 126.49 88.64 126.30 84.00 C126.11 79.36 125.79 73.84 125.50 70.00 C125.21 66.16 124.82 63.36 124.50 60.00 C124.18 56.64 123.52 52.84 123.50 49.00 C123.48 45.16 123.95 39.92 124.40 36.00 C124.85 32.08 125.76 27.57 126.30 24.50 C126.84 21.43 127.56 18.03 127.80 16.80 Z" fill="rgba(40,118,182,0.5)" stroke="#2e79bb" stroke-width="0.9"/>
<line x1="127.80" y1="31.87" x2="127.80" y2="89.83" stroke="#2e79bb" stroke-width="0.8" opacity="0.7"/>
<rect x="126.20" y="44.20" width="3.2" height="24.30" fill="rgba(36,112,178,0.75)" stroke="#2e79bb" stroke-width="0.6"/>
<path d="M152.10 40.10 C152.26 40.72 152.86 42.90 153.10 44.00 C153.34 45.10 153.49 45.98 153.60 47.00 C153.71 48.02 153.83 49.28 153.80 50.40 C153.77 51.52 153.51 52.62 153.40 54.00 C153.29 55.38 153.02 57.56 153.10 59.00 C153.18 60.44 153.50 61.72 153.90 63.00 C154.30 64.28 155.12 65.56 155.60 67.00 C156.08 68.44 156.64 70.40 156.90 72.00 C157.16 73.60 157.31 75.40 157.20 77.00 C157.09 78.60 156.66 80.48 156.20 82.00 C155.74 83.52 154.96 85.25 154.30 86.50 C153.64 87.75 152.45 89.27 152.10 89.80 L152.10 89.80 C151.75 89.27 150.56 87.75 149.90 86.50 C149.24 85.25 148.46 83.52 148.00 82.00 C147.54 80.48 147.11 78.60 147.00 77.00 C146.89 75.40 147.04 73.60 147.30 72.00 C147.56 70.40 148.12 68.44 148.60 67.00 C149.08 65.56 149.90 64.28 150.30 63.00 C150.70 61.72 151.02 60.44 151.10 59.00 C151.18 57.56 150.91 55.38 150.80 54.00 C150.69 52.62 150.43 51.52 150.40 50.40 C150.37 49.28 150.49 48.02 150.60 47.00 C150.71 45.98 150.86 45.10 151.10 44.00 C151.34 42.90 151.94 40.72 152.10 40.10 Z" fill="rgba(255,136,30,0.42)" stroke="#ff8417" stroke-width="0.9"/>
<line x1="152.10" y1="55.06" x2="152.10" y2="83.31" stroke="#ff8417" stroke-width="0.8" opacity="0.7"/>
<rect x="150.70" y="67.30" width="2.8" height="10.70" fill="rgba(255,128,20,0.75)" stroke="#ff8417" stroke-width="0.6"/>
<path d="M165.10 25.30 C165.31 26.85 165.92 31.53 166.40 35.00 C166.88 38.47 167.60 43.48 168.10 47.00 C168.60 50.52 169.18 54.02 169.50 57.00 C169.82 59.98 170.12 62.88 170.10 65.60 C170.08 68.32 169.75 71.54 169.40 74.00 C169.05 76.46 168.33 78.92 167.90 81.00 C167.47 83.08 166.97 85.24 166.70 87.00 C166.43 88.76 166.46 90.22 166.20 92.00 C165.94 93.78 165.28 97.12 165.10 98.10 L165.10 98.10 C164.92 97.12 164.26 93.78 164.00 92.00 C163.74 90.22 163.77 88.76 163.50 87.00 C163.23 85.24 162.73 83.08 162.30 81.00 C161.87 78.92 161.15 76.46 160.80 74.00 C160.45 71.54 160.12 68.32 160.10 65.60 C160.08 62.88 160.38 59.98 160.70 57.00 C161.02 54.02 161.60 50.52 162.10 47.00 C162.60 43.48 163.32 38.47 163.80 35.00 C164.28 31.53 164.89 26.85 165.10 25.30 Z" fill="rgba(40,118,182,0.5)" stroke="#2e79bb" stroke-width="0.9"/>
<line x1="165.10" y1="40.59" x2="165.10" y2="84.41" stroke="#2e79bb" stroke-width="0.8" opacity="0.7"/>
<rect x="163.50" y="53.10" width="3.2" height="20.10" fill="rgba(36,112,178,0.75)" stroke="#2e79bb" stroke-width="0.6"/>
<path d="M189.40 17.60 C189.56 19.10 190.05 23.58 190.40 27.00 C190.75 30.42 191.31 35.11 191.60 39.00 C191.89 42.89 192.17 47.14 192.20 51.30 C192.23 55.46 191.99 60.89 191.80 65.00 C191.61 69.11 191.21 73.64 191.00 77.00 C190.79 80.36 190.76 83.10 190.50 86.00 C190.24 88.90 189.58 93.64 189.40 95.10 L189.40 95.10 C189.22 93.64 188.56 88.90 188.30 86.00 C188.04 83.10 188.01 80.36 187.80 77.00 C187.59 73.64 187.19 69.11 187.00 65.00 C186.81 60.89 186.57 55.46 186.60 51.30 C186.63 47.14 186.91 42.89 187.20 39.00 C187.49 35.11 188.05 30.42 188.40 27.00 C188.75 23.58 189.24 19.10 189.40 17.60 Z" fill="rgba(255,136,30,0.42)" stroke="#ff8417" stroke-width="0.9"/>
<line x1="189.40" y1="30.31" x2="189.40" y2="77.88" stroke="#ff8417" stroke-width="0.8" opacity="0.7"/>
<rect x="187.90" y="40.70" width="3" height="23.10" fill="rgba(255,128,20,0.75)" stroke="#ff8417" stroke-width="0.6"/>
<path d="M202.40 30.00 C202.61 31.28 203.25 35.12 203.70 38.00 C204.15 40.88 204.74 44.80 205.20 48.00 C205.66 51.20 206.25 54.24 206.60 58.00 C206.95 61.76 207.38 68.14 207.40 71.50 C207.42 74.86 207.05 76.84 206.70 79.00 C206.35 81.16 205.63 83.24 205.20 85.00 C204.77 86.76 204.27 88.40 204.00 90.00 C203.73 91.60 203.76 93.13 203.50 95.00 C203.24 96.87 202.58 100.63 202.40 101.70 L202.40 101.70 C202.22 100.63 201.56 96.87 201.30 95.00 C201.04 93.13 201.07 91.60 200.80 90.00 C200.53 88.40 200.03 86.76 199.60 85.00 C199.17 83.24 198.45 81.16 198.10 79.00 C197.75 76.84 197.38 74.86 197.40 71.50 C197.42 68.14 197.85 61.76 198.20 58.00 C198.55 54.24 199.14 51.20 199.60 48.00 C200.06 44.80 200.65 40.88 201.10 38.00 C201.55 35.12 202.19 31.28 202.40 30.00 Z" fill="rgba(40,118,182,0.5)" stroke="#2e79bb" stroke-width="0.9"/>
<line x1="202.40" y1="41.44" x2="202.40" y2="87.79" stroke="#2e79bb" stroke-width="0.8" opacity="0.7"/>
<rect x="200.80" y="50.80" width="3.2" height="25.60" fill="rgba(36,112,178,0.75)" stroke="#2e79bb" stroke-width="0.6"/>
<path d="M9.5 91.5 H106.5 L108 90.5 H211" stroke="#9a9a9a" stroke-width="1" fill="none"/></svg>
<div class="t" style="left:719.00px;width:150px;text-align:right;top:792.70px;font-size:8.1px;font-weight:400;color:#454a55">MM Group - State 7</div>
<div class="a" style="left:175.5px;top:954.5px;width:222.3px;height:125.2px;border:1.5px solid #e2e4e9;background:#fff"></div>
<svg style="left:175.5px;top:954.0px" width="222" height="126" viewBox="0 0 222 126"><line x1="9.5" y1="34.5" x2="211" y2="34.5" stroke="#f0f0f0" stroke-width="1"/>
<line x1="9.5" y1="62.5" x2="211" y2="62.5" stroke="#f0f0f0" stroke-width="1"/>
<path d="M18.50 30.60 C18.71 31.94 19.35 36.06 19.80 39.00 C20.25 41.94 20.84 45.80 21.30 49.00 C21.76 52.20 22.32 55.21 22.70 59.00 C23.08 62.79 23.67 69.34 23.70 72.70 C23.73 76.06 23.28 77.87 22.90 80.00 C22.52 82.13 21.75 84.24 21.30 86.00 C20.85 87.76 20.37 89.40 20.10 91.00 C19.83 92.60 19.86 94.24 19.60 96.00 C19.34 97.76 18.68 101.04 18.50 102.00 L18.50 102.00 C18.32 101.04 17.66 97.76 17.40 96.00 C17.14 94.24 17.17 92.60 16.90 91.00 C16.63 89.40 16.15 87.76 15.70 86.00 C15.25 84.24 14.48 82.13 14.10 80.00 C13.72 77.87 13.27 76.06 13.30 72.70 C13.33 69.34 13.92 62.79 14.30 59.00 C14.68 55.21 15.24 52.20 15.70 49.00 C16.16 45.80 16.75 41.94 17.20 39.00 C17.65 36.06 18.29 31.94 18.50 30.60 Z" fill="rgba(40,118,182,0.5)" stroke="#2e79bb" stroke-width="0.9"/>
<line x1="18.50" y1="42.04" x2="18.50" y2="87.97" stroke="#2e79bb" stroke-width="0.8" opacity="0.7"/>
<rect x="16.90" y="51.40" width="3.2" height="25.10" fill="rgba(36,112,178,0.75)" stroke="#2e79bb" stroke-width="0.6"/>
<path d="M32.50 18.20 C32.66 19.61 33.15 23.67 33.50 27.00 C33.85 30.33 34.40 34.73 34.70 39.00 C35.00 43.27 35.37 49.38 35.40 53.70 C35.43 58.02 35.11 62.11 34.90 66.00 C34.69 69.89 34.31 74.80 34.10 78.00 C33.89 81.20 33.86 83.25 33.60 86.00 C33.34 88.75 32.68 93.73 32.50 95.20 L32.50 95.20 C32.32 93.73 31.66 88.75 31.40 86.00 C31.14 83.25 31.11 81.20 30.90 78.00 C30.69 74.80 30.31 69.89 30.10 66.00 C29.89 62.11 29.57 58.02 29.60 53.70 C29.63 49.38 30.00 43.27 30.30 39.00 C30.60 34.73 31.15 30.33 31.50 27.00 C31.85 23.67 32.34 19.61 32.50 18.20 Z" fill="rgba(255,136,30,0.42)" stroke="#ff8417" stroke-width="0.9"/>
<line x1="32.50" y1="31.24" x2="32.50" y2="77.60" stroke="#ff8417" stroke-width="0.8" opacity="0.7"/>
<rect x="31.00" y="41.90" width="3" height="21.30" fill="rgba(255,128,20,0.75)" stroke="#ff8417" stroke-width="0.6"/>
<path d="M58.80 25.90 C59.01 27.52 59.59 32.30 60.10 36.00 C60.61 39.70 61.44 45.32 62.00 49.00 C62.56 52.68 63.23 56.15 63.60 59.00 C63.97 61.85 64.33 64.24 64.30 66.80 C64.27 69.36 63.83 72.57 63.40 75.00 C62.97 77.43 62.08 79.92 61.60 82.00 C61.12 84.08 60.67 86.24 60.40 88.00 C60.13 89.76 60.16 91.38 59.90 93.00 C59.64 94.62 58.98 97.28 58.80 98.10 L58.80 98.10 C58.62 97.28 57.96 94.62 57.70 93.00 C57.44 91.38 57.47 89.76 57.20 88.00 C56.93 86.24 56.48 84.08 56.00 82.00 C55.52 79.92 54.63 77.43 54.20 75.00 C53.77 72.57 53.33 69.36 53.30 66.80 C53.27 64.24 53.63 61.85 54.00 59.00 C54.37 56.15 55.04 52.68 55.60 49.00 C56.16 45.32 56.99 39.70 57.50 36.00 C58.01 32.30 58.59 27.52 58.80 25.90 Z" fill="rgba(40,118,182,0.5)" stroke="#2e79bb" stroke-width="0.9"/>
<line x1="58.80" y1="41.19" x2="58.80" y2="84.46" stroke="#2e79bb" stroke-width="0.8" opacity="0.7"/>
<rect x="57.20" y="53.70" width="3.2" height="19.60" fill="rgba(36,112,178,0.75)" stroke="#2e79bb" stroke-width="0.6"/>
<path d="M73.00 41.00 C73.16 41.64 73.76 43.88 74.00 45.00 C74.24 46.12 74.39 46.98 74.50 48.00 C74.61 49.02 74.73 50.28 74.70 51.40 C74.67 52.52 74.41 53.62 74.30 55.00 C74.19 56.38 73.92 58.56 74.00 60.00 C74.08 61.44 74.38 62.72 74.80 64.00 C75.22 65.28 76.09 66.56 76.60 68.00 C77.11 69.44 77.73 71.40 78.00 73.00 C78.27 74.60 78.43 76.40 78.30 78.00 C78.17 79.60 77.70 81.56 77.20 83.00 C76.70 84.44 75.87 85.85 75.20 87.00 C74.53 88.15 73.35 89.69 73.00 90.20 L73.00 90.20 C72.65 89.69 71.47 88.15 70.80 87.00 C70.13 85.85 69.30 84.44 68.80 83.00 C68.30 81.56 67.83 79.60 67.70 78.00 C67.57 76.40 67.73 74.60 68.00 73.00 C68.27 71.40 68.89 69.44 69.40 68.00 C69.91 66.56 70.78 65.28 71.20 64.00 C71.62 62.72 71.92 61.44 72.00 60.00 C72.08 58.56 71.81 56.38 71.70 55.00 C71.59 53.62 71.33 52.52 71.30 51.40 C71.27 50.28 71.39 49.02 71.50 48.00 C71.61 46.98 71.76 46.12 72.00 45.00 C72.24 43.88 72.84 41.64 73.00 41.00 Z" fill="rgba(255,136,30,0.42)" stroke="#ff8417" stroke-width="0.9"/>
<line x1="73.00" y1="55.85" x2="73.00" y2="83.49" stroke="#ff8417" stroke-width="0.8" opacity="0.7"/>
<rect x="71.60" y="68.00" width="2.8" height="10.00" fill="rgba(255,128,20,0.75)" stroke="#ff8417" stroke-width="0.6"/>
<path d="M99.00 17.30 C99.24 18.53 99.96 22.01 100.50 25.00 C101.04 27.99 101.95 32.16 102.40 36.00 C102.85 39.84 103.32 45.16 103.30 49.00 C103.28 52.84 102.62 56.64 102.30 60.00 C101.98 63.36 101.59 66.16 101.30 70.00 C101.01 73.84 100.69 79.36 100.50 84.00 C100.31 88.64 100.34 93.80 100.10 99.00 C99.86 104.20 99.18 113.70 99.00 116.50 L99.00 116.50 C98.82 113.70 98.14 104.20 97.90 99.00 C97.66 93.80 97.69 88.64 97.50 84.00 C97.31 79.36 96.99 73.84 96.70 70.00 C96.41 66.16 96.02 63.36 95.70 60.00 C95.38 56.64 94.72 52.84 94.70 49.00 C94.68 45.16 95.15 39.84 95.60 36.00 C96.05 32.16 96.96 27.99 97.50 25.00 C98.04 22.01 98.76 18.53 99.00 17.30 Z" fill="rgba(40,118,182,0.5)" stroke="#2e79bb" stroke-width="0.9"/>
<line x1="99.00" y1="32.48" x2="99.00" y2="90.10" stroke="#2e79bb" stroke-width="0.8" opacity="0.7"/>
<rect x="97.40" y="44.90" width="3.2" height="23.60" fill="rgba(36,112,178,0.75)" stroke="#2e79bb" stroke-width="0.6"/>
<path d="M114.80 37.10 C114.96 38.20 115.45 41.30 115.80 44.00 C116.15 46.70 116.73 50.54 117.00 54.00 C117.27 57.46 117.52 62.08 117.50 65.60 C117.48 69.12 117.14 72.74 116.90 76.00 C116.66 79.26 116.34 83.02 116.00 86.00 C115.66 88.98 114.99 93.22 114.80 94.60 L114.80 94.60 C114.61 93.22 113.94 88.98 113.60 86.00 C113.26 83.02 112.94 79.26 112.70 76.00 C112.46 72.74 112.12 69.12 112.10 65.60 C112.08 62.08 112.33 57.46 112.60 54.00 C112.87 50.54 113.45 46.70 113.80 44.00 C114.15 41.30 114.64 38.20 114.80 37.10 Z" fill="rgba(255,136,30,0.42)" stroke="#ff8417" stroke-width="0.9"/>
<line x1="114.80" y1="46.23" x2="114.80" y2="83.82" stroke="#ff8417" stroke-width="0.8" opacity="0.7"/>
<rect x="113.40" y="53.70" width="2.8" height="21.30" fill="rgba(255,128,20,0.75)" stroke="#ff8417" stroke-width="0.6"/>
<path d="M127.80 16.80 C128.04 18.03 128.76 21.43 129.30 24.50 C129.84 27.57 130.75 32.08 131.20 36.00 C131.65 39.92 132.12 45.16 132.10 49.00 C132.08 52.84 131.42 56.64 131.10 60.00 C130.78 63.36 130.39 66.16 130.10 70.00 C129.81 73.84 129.49 79.36 129.30 84.00 C129.11 88.64 129.14 93.90 128.90 99.00 C128.66 104.10 127.98 113.20 127.80 115.90 L127.80 115.90 C127.62 113.20 126.94 104.10 126.70 99.00 C126.46 93.90 126.49 88.64 126.30 84.00 C126.11 79.36 125.79 73.84 125.50 70.00 C125.21 66.16 124.82 63.36 124.50 60.00 C124.18 56.64 123.52 52.84 123.50 49.00 C123.48 45.16 123.95 39.92 124.40 36.00 C124.85 32.08 125.76 27.57 126.30 24.50 C126.84 21.43 127.56 18.03 127.80 16.80 Z" fill="rgba(40,118,182,0.5)" stroke="#2e79bb" stroke-width="0.9"/>
<line x1="127.80" y1="31.87" x2="127.80" y2="89.83" stroke="#2e79bb" stroke-width="0.8" opacity="0.7"/>
<rect x="126.20" y="44.20" width="3.2" height="24.30" fill="rgba(36,112,178,0.75)" stroke="#2e79bb" stroke-width="0.6"/>
<path d="M152.10 40.10 C152.26 40.72 152.86 42.90 153.10 44.00 C153.34 45.10 153.49 45.98 153.60 47.00 C153.71 48.02 153.83 49.28 153.80 50.40 C153.77 51.52 153.51 52.62 153.40 54.00 C153.29 55.38 153.02 57.56 153.10 59.00 C153.18 60.44 153.50 61.72 153.90 63.00 C154.30 64.28 155.12 65.56 155.60 67.00 C156.08 68.44 156.64 70.40 156.90 72.00 C157.16 73.60 157.31 75.40 157.20 77.00 C157.09 78.60 156.66 80.48 156.20 82.00 C155.74 83.52 154.96 85.25 154.30 86.50 C153.64 87.75 152.45 89.27 152.10 89.80 L152.10 89.80 C151.75 89.27 150.56 87.75 149.90 86.50 C149.24 85.25 148.46 83.52 148.00 82.00 C147.54 80.48 147.11 78.60 147.00 77.00 C146.89 75.40 147.04 73.60 147.30 72.00 C147.56 70.40 148.12 68.44 148.60 67.00 C149.08 65.56 149.90 64.28 150.30 63.00 C150.70 61.72 151.02 60.44 151.10 59.00 C151.18 57.56 150.91 55.38 150.80 54.00 C150.69 52.62 150.43 51.52 150.40 50.40 C150.37 49.28 150.49 48.02 150.60 47.00 C150.71 45.98 150.86 45.10 151.10 44.00 C151.34 42.90 151.94 40.72 152.10 40.10 Z" fill="rgba(255,136,30,0.42)" stroke="#ff8417" stroke-width="0.9"/>
<line x1="152.10" y1="55.06" x2="152.10" y2="83.31" stroke="#ff8417" stroke-width="0.8" opacity="0.7"/>
<rect x="150.70" y="67.30" width="2.8" height="10.70" fill="rgba(255,128,20,0.75)" stroke="#ff8417" stroke-width="0.6"/>
<path d="M165.10 25.30 C165.31 26.85 165.92 31.53 166.40 35.00 C166.88 38.47 167.60 43.48 168.10 47.00 C168.60 50.52 169.18 54.02 169.50 57.00 C169.82 59.98 170.12 62.88 170.10 65.60 C170.08 68.32 169.75 71.54 169.40 74.00 C169.05 76.46 168.33 78.92 167.90 81.00 C167.47 83.08 166.97 85.24 166.70 87.00 C166.43 88.76 166.46 90.22 166.20 92.00 C165.94 93.78 165.28 97.12 165.10 98.10 L165.10 98.10 C164.92 97.12 164.26 93.78 164.00 92.00 C163.74 90.22 163.77 88.76 163.50 87.00 C163.23 85.24 162.73 83.08 162.30 81.00 C161.87 78.92 161.15 76.46 160.80 74.00 C160.45 71.54 160.12 68.32 160.10 65.60 C160.08 62.88 160.38 59.98 160.70 57.00 C161.02 54.02 161.60 50.52 162.10 47.00 C162.60 43.48 163.32 38.47 163.80 35.00 C164.28 31.53 164.89 26.85 165.10 25.30 Z" fill="rgba(40,118,182,0.5)" stroke="#2e79bb" stroke-width="0.9"/>
<line x1="165.10" y1="40.59" x2="165.10" y2="84.41" stroke="#2e79bb" stroke-width="0.8" opacity="0.7"/>
<rect x="163.50" y="53.10" width="3.2" height="20.10" fill="rgba(36,112,178,0.75)" stroke="#2e79bb" stroke-width="0.6"/>
<path d="M189.40 17.60 C189.56 19.10 190.05 23.58 190.40 27.00 C190.75 30.42 191.31 35.11 191.60 39.00 C191.89 42.89 192.17 47.14 192.20 51.30 C192.23 55.46 191.99 60.89 191.80 65.00 C191.61 69.11 191.21 73.64 191.00 77.00 C190.79 80.36 190.76 83.10 190.50 86.00 C190.24 88.90 189.58 93.64 189.40 95.10 L189.40 95.10 C189.22 93.64 188.56 88.90 188.30 86.00 C188.04 83.10 188.01 80.36 187.80 77.00 C187.59 73.64 187.19 69.11 187.00 65.00 C186.81 60.89 186.57 55.46 186.60 51.30 C186.63 47.14 186.91 42.89 187.20 39.00 C187.49 35.11 188.05 30.42 188.40 27.00 C188.75 23.58 189.24 19.10 189.40 17.60 Z" fill="rgba(255,136,30,0.42)" stroke="#ff8417" stroke-width="0.9"/>
<line x1="189.40" y1="30.31" x2="189.40" y2="77.88" stroke="#ff8417" stroke-width="0.8" opacity="0.7"/>
<rect x="187.90" y="40.70" width="3" height="23.10" fill="rgba(255,128,20,0.75)" stroke="#ff8417" stroke-width="0.6"/>
<path d="M202.40 30.00 C202.61 31.28 203.25 35.12 203.70 38.00 C204.15 40.88 204.74 44.80 205.20 48.00 C205.66 51.20 206.25 54.24 206.60 58.00 C206.95 61.76 207.38 68.14 207.40 71.50 C207.42 74.86 207.05 76.84 206.70 79.00 C206.35 81.16 205.63 83.24 205.20 85.00 C204.77 86.76 204.27 88.40 204.00 90.00 C203.73 91.60 203.76 93.13 203.50 95.00 C203.24 96.87 202.58 100.63 202.40 101.70 L202.40 101.70 C202.22 100.63 201.56 96.87 201.30 95.00 C201.04 93.13 201.07 91.60 200.80 90.00 C200.53 88.40 200.03 86.76 199.60 85.00 C199.17 83.24 198.45 81.16 198.10 79.00 C197.75 76.84 197.38 74.86 197.40 71.50 C197.42 68.14 197.85 61.76 198.20 58.00 C198.55 54.24 199.14 51.20 199.60 48.00 C200.06 44.80 200.65 40.88 201.10 38.00 C201.55 35.12 202.19 31.28 202.40 30.00 Z" fill="rgba(40,118,182,0.5)" stroke="#2e79bb" stroke-width="0.9"/>
<line x1="202.40" y1="41.44" x2="202.40" y2="87.79" stroke="#2e79bb" stroke-width="0.8" opacity="0.7"/>
<rect x="200.80" y="50.80" width="3.2" height="25.60" fill="rgba(36,112,178,0.75)" stroke="#2e79bb" stroke-width="0.6"/>
<path d="M9.5 91.5 H106.5 L108 90.5 H211" stroke="#9a9a9a" stroke-width="1" fill="none"/></svg>
<div class="t" style="left:243.80px;width:150px;text-align:right;top:944.80px;font-size:8.1px;font-weight:400;color:#454a55">MM Group - State 6</div>
<div class="a" style="left:413.75px;top:954.5px;width:222.3px;height:125.2px;border:1.5px solid #e2e4e9;background:#fff"></div>
<svg style="left:413.75px;top:954.0px" width="222" height="126" viewBox="0 0 222 126"><line x1="9.5" y1="34.5" x2="211" y2="34.5" stroke="#f0f0f0" stroke-width="1"/>
<line x1="9.5" y1="62.5" x2="211" y2="62.5" stroke="#f0f0f0" stroke-width="1"/>
<path d="M18.50 30.60 C18.71 31.94 19.35 36.06 19.80 39.00 C20.25 41.94 20.84 45.80 21.30 49.00 C21.76 52.20 22.32 55.21 22.70 59.00 C23.08 62.79 23.67 69.34 23.70 72.70 C23.73 76.06 23.28 77.87 22.90 80.00 C22.52 82.13 21.75 84.24 21.30 86.00 C20.85 87.76 20.37 89.40 20.10 91.00 C19.83 92.60 19.86 94.24 19.60 96.00 C19.34 97.76 18.68 101.04 18.50 102.00 L18.50 102.00 C18.32 101.04 17.66 97.76 17.40 96.00 C17.14 94.24 17.17 92.60 16.90 91.00 C16.63 89.40 16.15 87.76 15.70 86.00 C15.25 84.24 14.48 82.13 14.10 80.00 C13.72 77.87 13.27 76.06 13.30 72.70 C13.33 69.34 13.92 62.79 14.30 59.00 C14.68 55.21 15.24 52.20 15.70 49.00 C16.16 45.80 16.75 41.94 17.20 39.00 C17.65 36.06 18.29 31.94 18.50 30.60 Z" fill="rgba(40,118,182,0.5)" stroke="#2e79bb" stroke-width="0.9"/>
<line x1="18.50" y1="42.04" x2="18.50" y2="87.97" stroke="#2e79bb" stroke-width="0.8" opacity="0.7"/>
<rect x="16.90" y="51.40" width="3.2" height="25.10" fill="rgba(36,112,178,0.75)" stroke="#2e79bb" stroke-width="0.6"/>
<path d="M32.50 18.20 C32.66 19.61 33.15 23.67 33.50 27.00 C33.85 30.33 34.40 34.73 34.70 39.00 C35.00 43.27 35.37 49.38 35.40 53.70 C35.43 58.02 35.11 62.11 34.90 66.00 C34.69 69.89 34.31 74.80 34.10 78.00 C33.89 81.20 33.86 83.25 33.60 86.00 C33.34 88.75 32.68 93.73 32.50 95.20 L32.50 95.20 C32.32 93.73 31.66 88.75 31.40 86.00 C31.14 83.25 31.11 81.20 30.90 78.00 C30.69 74.80 30.31 69.89 30.10 66.00 C29.89 62.11 29.57 58.02 29.60 53.70 C29.63 49.38 30.00 43.27 30.30 39.00 C30.60 34.73 31.15 30.33 31.50 27.00 C31.85 23.67 32.34 19.61 32.50 18.20 Z" fill="rgba(255,136,30,0.42)" stroke="#ff8417" stroke-width="0.9"/>
<line x1="32.50" y1="31.24" x2="32.50" y2="77.60" stroke="#ff8417" stroke-width="0.8" opacity="0.7"/>
<rect x="31.00" y="41.90" width="3" height="21.30" fill="rgba(255,128,20,0.75)" stroke="#ff8417" stroke-width="0.6"/>
<path d="M58.80 25.90 C59.01 27.52 59.59 32.30 60.10 36.00 C60.61 39.70 61.44 45.32 62.00 49.00 C62.56 52.68 63.23 56.15 63.60 59.00 C63.97 61.85 64.33 64.24 64.30 66.80 C64.27 69.36 63.83 72.57 63.40 75.00 C62.97 77.43 62.08 79.92 61.60 82.00 C61.12 84.08 60.67 86.24 60.40 88.00 C60.13 89.76 60.16 91.38 59.90 93.00 C59.64 94.62 58.98 97.28 58.80 98.10 L58.80 98.10 C58.62 97.28 57.96 94.62 57.70 93.00 C57.44 91.38 57.47 89.76 57.20 88.00 C56.93 86.24 56.48 84.08 56.00 82.00 C55.52 79.92 54.63 77.43 54.20 75.00 C53.77 72.57 53.33 69.36 53.30 66.80 C53.27 64.24 53.63 61.85 54.00 59.00 C54.37 56.15 55.04 52.68 55.60 49.00 C56.16 45.32 56.99 39.70 57.50 36.00 C58.01 32.30 58.59 27.52 58.80 25.90 Z" fill="rgba(40,118,182,0.5)" stroke="#2e79bb" stroke-width="0.9"/>
<line x1="58.80" y1="41.19" x2="58.80" y2="84.46" stroke="#2e79bb" stroke-width="0.8" opacity="0.7"/>
<rect x="57.20" y="53.70" width="3.2" height="19.60" fill="rgba(36,112,178,0.75)" stroke="#2e79bb" stroke-width="0.6"/>
<path d="M73.00 41.00 C73.16 41.64 73.76 43.88 74.00 45.00 C74.24 46.12 74.39 46.98 74.50 48.00 C74.61 49.02 74.73 50.28 74.70 51.40 C74.67 52.52 74.41 53.62 74.30 55.00 C74.19 56.38 73.92 58.56 74.00 60.00 C74.08 61.44 74.38 62.72 74.80 64.00 C75.22 65.28 76.09 66.56 76.60 68.00 C77.11 69.44 77.73 71.40 78.00 73.00 C78.27 74.60 78.43 76.40 78.30 78.00 C78.17 79.60 77.70 81.56 77.20 83.00 C76.70 84.44 75.87 85.85 75.20 87.00 C74.53 88.15 73.35 89.69 73.00 90.20 L73.00 90.20 C72.65 89.69 71.47 88.15 70.80 87.00 C70.13 85.85 69.30 84.44 68.80 83.00 C68.30 81.56 67.83 79.60 67.70 78.00 C67.57 76.40 67.73 74.60 68.00 73.00 C68.27 71.40 68.89 69.44 69.40 68.00 C69.91 66.56 70.78 65.28 71.20 64.00 C71.62 62.72 71.92 61.44 72.00 60.00 C72.08 58.56 71.81 56.38 71.70 55.00 C71.59 53.62 71.33 52.52 71.30 51.40 C71.27 50.28 71.39 49.02 71.50 48.00 C71.61 46.98 71.76 46.12 72.00 45.00 C72.24 43.88 72.84 41.64 73.00 41.00 Z" fill="rgba(255,136,30,0.42)" stroke="#ff8417" stroke-width="0.9"/>
<line x1="73.00" y1="55.85" x2="73.00" y2="83.49" stroke="#ff8417" stroke-width="0.8" opacity="0.7"/>
<rect x="71.60" y="68.00" width="2.8" height="10.00" fill="rgba(255,128,20,0.75)" stroke="#ff8417" stroke-width="0.6"/>
<path d="M99.00 17.30 C99.24 18.53 99.96 22.01 100.50 25.00 C101.04 27.99 101.95 32.16 102.40 36.00 C102.85 39.84 103.32 45.16 103.30 49.00 C103.28 52.84 102.62 56.64 102.30 60.00 C101.98 63.36 101.59 66.16 101.30 70.00 C101.01 73.84 100.69 79.36 100.50 84.00 C100.31 88.64 100.34 93.80 100.10 99.00 C99.86 104.20 99.18 113.70 99.00 116.50 L99.00 116.50 C98.82 113.70 98.14 104.20 97.90 99.00 C97.66 93.80 97.69 88.64 97.50 84.00 C97.31 79.36 96.99 73.84 96.70 70.00 C96.41 66.16 96.02 63.36 95.70 60.00 C95.38 56.64 94.72 52.84 94.70 49.00 C94.68 45.16 95.15 39.84 95.60 36.00 C96.05 32.16 96.96 27.99 97.50 25.00 C98.04 22.01 98.76 18.53 99.00 17.30 Z" fill="rgba(40,118,182,0.5)" stroke="#2e79bb" stroke-width="0.9"/>
<line x1="99.00" y1="32.48" x2="99.00" y2="90.10" stroke="#2e79bb" stroke-width="0.8" opacity="0.7"/>
<rect x="97.40" y="44.90" width="3.2" height="23.60" fill="rgba(36,112,178,0.75)" stroke="#2e79bb" stroke-width="0.6"/>
<path d="M114.80 37.10 C114.96 38.20 115.45 41.30 115.80 44.00 C116.15 46.70 116.73 50.54 117.00 54.00 C117.27 57.46 117.52 62.08 117.50 65.60 C117.48 69.12 117.14 72.74 116.90 76.00 C116.66 79.26 116.34 83.02 116.00 86.00 C115.66 88.98 114.99 93.22 114.80 94.60 L114.80 94.60 C114.61 93.22 113.94 88.98 113.60 86.00 C113.26 83.02 112.94 79.26 112.70 76.00 C112.46 72.74 112.12 69.12 112.10 65.60 C112.08 62.08 112.33 57.46 112.60 54.00 C112.87 50.54 113.45 46.70 113.80 44.00 C114.15 41.30 114.64 38.20 114.80 37.10 Z" fill="rgba(255,136,30,0.42)" stroke="#ff8417" stroke-width="0.9"/>
<line x1="114.80" y1="46.23" x2="114.80" y2="83.82" stroke="#ff8417" stroke-width="0.8" opacity="0.7"/>
<rect x="113.40" y="53.70" width="2.8" height="21.30" fill="rgba(255,128,20,0.75)" stroke="#ff8417" stroke-width="0.6"/>
<path d="M127.80 16.80 C128.04 18.03 128.76 21.43 129.30 24.50 C129.84 27.57 130.75 32.08 131.20 36.00 C131.65 39.92 132.12 45.16 132.10 49.00 C132.08 52.84 131.42 56.64 131.10 60.00 C130.78 63.36 130.39 66.16 130.10 70.00 C129.81 73.84 129.49 79.36 129.30 84.00 C129.11 88.64 129.14 93.90 128.90 99.00 C128.66 104.10 127.98 113.20 127.80 115.90 L127.80 115.90 C127.62 113.20 126.94 104.10 126.70 99.00 C126.46 93.90 126.49 88.64 126.30 84.00 C126.11 79.36 125.79 73.84 125.50 70.00 C125.21 66.16 124.82 63.36 124.50 60.00 C124.18 56.64 123.52 52.84 123.50 49.00 C123.48 45.16 123.95 39.92 124.40 36.00 C124.85 32.08 125.76 27.57 126.30 24.50 C126.84 21.43 127.56 18.03 127.80 16.80 Z" fill="rgba(40,118,182,0.5)" stroke="#2e79bb" stroke-width="0.9"/>
<line x1="127.80" y1="31.87" x2="127.80" y2="89.83" stroke="#2e79bb" stroke-width="0.8" opacity="0.7"/>
<rect x="126.20" y="44.20" width="3.2" height="24.30" fill="rgba(36,112,178,0.75)" stroke="#2e79bb" stroke-width="0.6"/>
<path d="M152.10 40.10 C152.26 40.72 152.86 42.90 153.10 44.00 C153.34 45.10 153.49 45.98 153.60 47.00 C153.71 48.02 153.83 49.28 153.80 50.40 C153.77 51.52 153.51 52.62 153.40 54.00 C153.29 55.38 153.02 57.56 153.10 59.00 C153.18 60.44 153.50 61.72 153.90 63.00 C154.30 64.28 155.12 65.56 155.60 67.00 C156.08 68.44 156.64 70.40 156.90 72.00 C157.16 73.60 157.31 75.40 157.20 77.00 C157.09 78.60 156.66 80.48 156.20 82.00 C155.74 83.52 154.96 85.25 154.30 86.50 C153.64 87.75 152.45 89.27 152.10 89.80 L152.10 89.80 C151.75 89.27 150.56 87.75 149.90 86.50 C149.24 85.25 148.46 83.52 148.00 82.00 C147.54 80.48 147.11 78.60 147.00 77.00 C146.89 75.40 147.04 73.60 147.30 72.00 C147.56 70.40 148.12 68.44 148.60 67.00 C149.08 65.56 149.90 64.28 150.30 63.00 C150.70 61.72 151.02 60.44 151.10 59.00 C151.18 57.56 150.91 55.38 150.80 54.00 C150.69 52.62 150.43 51.52 150.40 50.40 C150.37 49.28 150.49 48.02 150.60 47.00 C150.71 45.98 150.86 45.10 151.10 44.00 C151.34 42.90 151.94 40.72 152.10 40.10 Z" fill="rgba(255,136,30,0.42)" stroke="#ff8417" stroke-width="0.9"/>
<line x1="152.10" y1="55.06" x2="152.10" y2="83.31" stroke="#ff8417" stroke-width="0.8" opacity="0.7"/>
<rect x="150.70" y="67.30" width="2.8" height="10.70" fill="rgba(255,128,20,0.75)" stroke="#ff8417" stroke-width="0.6"/>
<path d="M165.10 25.30 C165.31 26.85 165.92 31.53 166.40 35.00 C166.88 38.47 167.60 43.48 168.10 47.00 C168.60 50.52 169.18 54.02 169.50 57.00 C169.82 59.98 170.12 62.88 170.10 65.60 C170.08 68.32 169.75 71.54 169.40 74.00 C169.05 76.46 168.33 78.92 167.90 81.00 C167.47 83.08 166.97 85.24 166.70 87.00 C166.43 88.76 166.46 90.22 166.20 92.00 C165.94 93.78 165.28 97.12 165.10 98.10 L165.10 98.10 C164.92 97.12 164.26 93.78 164.00 92.00 C163.74 90.22 163.77 88.76 163.50 87.00 C163.23 85.24 162.73 83.08 162.30 81.00 C161.87 78.92 161.15 76.46 160.80 74.00 C160.45 71.54 160.12 68.32 160.10 65.60 C160.08 62.88 160.38 59.98 160.70 57.00 C161.02 54.02 161.60 50.52 162.10 47.00 C162.60 43.48 163.32 38.47 163.80 35.00 C164.28 31.53 164.89 26.85 165.10 25.30 Z" fill="rgba(40,118,182,0.5)" stroke="#2e79bb" stroke-width="0.9"/>
<line x1="165.10" y1="40.59" x2="165.10" y2="84.41" stroke="#2e79bb" stroke-width="0.8" opacity="0.7"/>
<rect x="163.50" y="53.10" width="3.2" height="20.10" fill="rgba(36,112,178,0.75)" stroke="#2e79bb" stroke-width="0.6"/>
<path d="M189.40 17.60 C189.56 19.10 190.05 23.58 190.40 27.00 C190.75 30.42 191.31 35.11 191.60 39.00 C191.89 42.89 192.17 47.14 192.20 51.30 C192.23 55.46 191.99 60.89 191.80 65.00 C191.61 69.11 191.21 73.64 191.00 77.00 C190.79 80.36 190.76 83.10 190.50 86.00 C190.24 88.90 189.58 93.64 189.40 95.10 L189.40 95.10 C189.22 93.64 188.56 88.90 188.30 86.00 C188.04 83.10 188.01 80.36 187.80 77.00 C187.59 73.64 187.19 69.11 187.00 65.00 C186.81 60.89 186.57 55.46 186.60 51.30 C186.63 47.14 186.91 42.89 187.20 39.00 C187.49 35.11 188.05 30.42 188.40 27.00 C188.75 23.58 189.24 19.10 189.40 17.60 Z" fill="rgba(255,136,30,0.42)" stroke="#ff8417" stroke-width="0.9"/>
<line x1="189.40" y1="30.31" x2="189.40" y2="77.88" stroke="#ff8417" stroke-width="0.8" opacity="0.7"/>
<rect x="187.90" y="40.70" width="3" height="23.10" fill="rgba(255,128,20,0.75)" stroke="#ff8417" stroke-width="0.6"/>
<path d="M202.40 30.00 C202.61 31.28 203.25 35.12 203.70 38.00 C204.15 40.88 204.74 44.80 205.20 48.00 C205.66 51.20 206.25 54.24 206.60 58.00 C206.95 61.76 207.38 68.14 207.40 71.50 C207.42 74.86 207.05 76.84 206.70 79.00 C206.35 81.16 205.63 83.24 205.20 85.00 C204.77 86.76 204.27 88.40 204.00 90.00 C203.73 91.60 203.76 93.13 203.50 95.00 C203.24 96.87 202.58 100.63 202.40 101.70 L202.40 101.70 C202.22 100.63 201.56 96.87 201.30 95.00 C201.04 93.13 201.07 91.60 200.80 90.00 C200.53 88.40 200.03 86.76 199.60 85.00 C199.17 83.24 198.45 81.16 198.10 79.00 C197.75 76.84 197.38 74.86 197.40 71.50 C197.42 68.14 197.85 61.76 198.20 58.00 C198.55 54.24 199.14 51.20 199.60 48.00 C200.06 44.80 200.65 40.88 201.10 38.00 C201.55 35.12 202.19 31.28 202.40 30.00 Z" fill="rgba(40,118,182,0.5)" stroke="#2e79bb" stroke-width="0.9"/>
<line x1="202.40" y1="41.44" x2="202.40" y2="87.79" stroke="#2e79bb" stroke-width="0.8" opacity="0.7"/>
<rect x="200.80" y="50.80" width="3.2" height="25.60" fill="rgba(36,112,178,0.75)" stroke="#2e79bb" stroke-width="0.6"/>
<path d="M9.5 91.5 H106.5 L108 90.5 H211" stroke="#9a9a9a" stroke-width="1" fill="none"/></svg>
<div class="t" style="left:481.30px;width:150px;text-align:right;top:943.20px;font-size:8.1px;font-weight:400;color:#454a55">MM Group - State 5</div>
<div class="a" style="left:651.25px;top:954.5px;width:222.3px;height:125.2px;border:1.5px solid #e2e4e9;background:#fff"></div>
<svg style="left:651.25px;top:954.0px" width="222" height="126" viewBox="0 0 222 126"><line x1="9.5" y1="34.5" x2="211" y2="34.5" stroke="#f0f0f0" stroke-width="1"/>
<line x1="9.5" y1="62.5" x2="211" y2="62.5" stroke="#f0f0f0" stroke-width="1"/>
<path d="M18.50 30.60 C18.71 31.94 19.35 36.06 19.80 39.00 C20.25 41.94 20.84 45.80 21.30 49.00 C21.76 52.20 22.32 55.21 22.70 59.00 C23.08 62.79 23.67 69.34 23.70 72.70 C23.73 76.06 23.28 77.87 22.90 80.00 C22.52 82.13 21.75 84.24 21.30 86.00 C20.85 87.76 20.37 89.40 20.10 91.00 C19.83 92.60 19.86 94.24 19.60 96.00 C19.34 97.76 18.68 101.04 18.50 102.00 L18.50 102.00 C18.32 101.04 17.66 97.76 17.40 96.00 C17.14 94.24 17.17 92.60 16.90 91.00 C16.63 89.40 16.15 87.76 15.70 86.00 C15.25 84.24 14.48 82.13 14.10 80.00 C13.72 77.87 13.27 76.06 13.30 72.70 C13.33 69.34 13.92 62.79 14.30 59.00 C14.68 55.21 15.24 52.20 15.70 49.00 C16.16 45.80 16.75 41.94 17.20 39.00 C17.65 36.06 18.29 31.94 18.50 30.60 Z" fill="rgba(40,118,182,0.5)" stroke="#2e79bb" stroke-width="0.9"/>
<line x1="18.50" y1="42.04" x2="18.50" y2="87.97" stroke="#2e79bb" stroke-width="0.8" opacity="0.7"/>
<rect x="16.90" y="51.40" width="3.2" height="25.10" fill="rgba(36,112,178,0.75)" stroke="#2e79bb" stroke-width="0.6"/>
<path d="M32.50 18.20 C32.66 19.61 33.15 23.67 33.50 27.00 C33.85 30.33 34.40 34.73 34.70 39.00 C35.00 43.27 35.37 49.38 35.40 53.70 C35.43 58.02 35.11 62.11 34.90 66.00 C34.69 69.89 34.31 74.80 34.10 78.00 C33.89 81.20 33.86 83.25 33.60 86.00 C33.34 88.75 32.68 93.73 32.50 95.20 L32.50 95.20 C32.32 93.73 31.66 88.75 31.40 86.00 C31.14 83.25 31.11 81.20 30.90 78.00 C30.69 74.80 30.31 69.89 30.10 66.00 C29.89 62.11 29.57 58.02 29.60 53.70 C29.63 49.38 30.00 43.27 30.30 39.00 C30.60 34.73 31.15 30.33 31.50 27.00 C31.85 23.67 32.34 19.61 32.50 18.20 Z" fill="rgba(255,136,30,0.42)" stroke="#ff8417" stroke-width="0.9"/>
<line x1="32.50" y1="31.24" x2="32.50" y2="77.60" stroke="#ff8417" stroke-width="0.8" opacity="0.7"/>
<rect x="31.00" y="41.90" width="3" height="21.30" fill="rgba(255,128,20,0.75)" stroke="#ff8417" stroke-width="0.6"/>
<path d="M58.80 25.90 C59.01 27.52 59.59 32.30 60.10 36.00 C60.61 39.70 61.44 45.32 62.00 49.00 C62.56 52.68 63.23 56.15 63.60 59.00 C63.97 61.85 64.33 64.24 64.30 66.80 C64.27 69.36 63.83 72.57 63.40 75.00 C62.97 77.43 62.08 79.92 61.60 82.00 C61.12 84.08 60.67 86.24 60.40 88.00 C60.13 89.76 60.16 91.38 59.90 93.00 C59.64 94.62 58.98 97.28 58.80 98.10 L58.80 98.10 C58.62 97.28 57.96 94.62 57.70 93.00 C57.44 91.38 57.47 89.76 57.20 88.00 C56.93 86.24 56.48 84.08 56.00 82.00 C55.52 79.92 54.63 77.43 54.20 75.00 C53.77 72.57 53.33 69.36 53.30 66.80 C53.27 64.24 53.63 61.85 54.00 59.00 C54.37 56.15 55.04 52.68 55.60 49.00 C56.16 45.32 56.99 39.70 57.50 36.00 C58.01 32.30 58.59 27.52 58.80 25.90 Z" fill="rgba(40,118,182,0.5)" stroke="#2e79bb" stroke-width="0.9"/>
<line x1="58.80" y1="41.19" x2="58.80" y2="84.46" stroke="#2e79bb" stroke-width="0.8" opacity="0.7"/>
<rect x="57.20" y="53.70" width="3.2" height="19.60" fill="rgba(36,112,178,0.75)" stroke="#2e79bb" stroke-width="0.6"/>
<path d="M73.00 41.00 C73.16 41.64 73.76 43.88 74.00 45.00 C74.24 46.12 74.39 46.98 74.50 48.00 C74.61 49.02 74.73 50.28 74.70 51.40 C74.67 52.52 74.41 53.62 74.30 55.00 C74.19 56.38 73.92 58.56 74.00 60.00 C74.08 61.44 74.38 62.72 74.80 64.00 C75.22 65.28 76.09 66.56 76.60 68.00 C77.11 69.44 77.73 71.40 78.00 73.00 C78.27 74.60 78.43 76.40 78.30 78.00 C78.17 79.60 77.70 81.56 77.20 83.00 C76.70 84.44 75.87 85.85 75.20 87.00 C74.53 88.15 73.35 89.69 73.00 90.20 L73.00 90.20 C72.65 89.69 71.47 88.15 70.80 87.00 C70.13 85.85 69.30 84.44 68.80 83.00 C68.30 81.56 67.83 79.60 67.70 78.00 C67.57 76.40 67.73 74.60 68.00 73.00 C68.27 71.40 68.89 69.44 69.40 68.00 C69.91 66.56 70.78 65.28 71.20 64.00 C71.62 62.72 71.92 61.44 72.00 60.00 C72.08 58.56 71.81 56.38 71.70 55.00 C71.59 53.62 71.33 52.52 71.30 51.40 C71.27 50.28 71.39 49.02 71.50 48.00 C71.61 46.98 71.76 46.12 72.00 45.00 C72.24 43.88 72.84 41.64 73.00 41.00 Z" fill="rgba(255,136,30,0.42)" stroke="#ff8417" stroke-width="0.9"/>
<line x1="73.00" y1="55.85" x2="73.00" y2="83.49" stroke="#ff8417" stroke-width="0.8" opacity="0.7"/>
<rect x="71.60" y="68.00" width="2.8" height="10.00" fill="rgba(255,128,20,0.75)" stroke="#ff8417" stroke-width="0.6"/>
<path d="M99.00 17.30 C99.24 18.53 99.96 22.01 100.50 25.00 C101.04 27.99 101.95 32.16 102.40 36.00 C102.85 39.84 103.32 45.16 103.30 49.00 C103.28 52.84 102.62 56.64 102.30 60.00 C101.98 63.36 101.59 66.16 101.30 70.00 C101.01 73.84 100.69 79.36 100.50 84.00 C100.31 88.64 100.34 93.80 100.10 99.00 C99.86 104.20 99.18 113.70 99.00 116.50 L99.00 116.50 C98.82 113.70 98.14 104.20 97.90 99.00 C97.66 93.80 97.69 88.64 97.50 84.00 C97.31 79.36 96.99 73.84 96.70 70.00 C96.41 66.16 96.02 63.36 95.70 60.00 C95.38 56.64 94.72 52.84 94.70 49.00 C94.68 45.16 95.15 39.84 95.60 36.00 C96.05 32.16 96.96 27.99 97.50 25.00 C98.04 22.01 98.76 18.53 99.00 17.30 Z" fill="rgba(40,118,182,0.5)" stroke="#2e79bb" stroke-width="0.9"/>
<line x1="99.00" y1="32.48" x2="99.00" y2="90.10" stroke="#2e79bb" stroke-width="0.8" opacity="0.7"/>
<rect x="97.40" y="44.90" width="3.2" height="23.60" fill="rgba(36,112,178,0.75)" stroke="#2e79bb" stroke-width="0.6"/>
<path d="M114.80 37.10 C114.96 38.20 115.45 41.30 115.80 44.00 C116.15 46.70 116.73 50.54 117.00 54.00 C117.27 57.46 117.52 62.08 117.50 65.60 C117.48 69.12 117.14 72.74 116.90 76.00 C116.66 79.26 116.34 83.02 116.00 86.00 C115.66 88.98 114.99 93.22 114.80 94.60 L114.80 94.60 C114.61 93.22 113.94 88.98 113.60 86.00 C113.26 83.02 112.94 79.26 112.70 76.00 C112.46 72.74 112.12 69.12 112.10 65.60 C112.08 62.08 112.33 57.46 112.60 54.00 C112.87 50.54 113.45 46.70 113.80 44.00 C114.15 41.30 114.64 38.20 114.80 37.10 Z" fill="rgba(255,136,30,0.42)" stroke="#ff8417" stroke-width="0.9"/>
<line x1="114.80" y1="46.23" x2="114.80" y2="83.82" stroke="#ff8417" stroke-width="0.8" opacity="0.7"/>
<rect x="113.40" y="53.70" width="2.8" height="21.30" fill="rgba(255,128,20,0.75)" stroke="#ff8417" stroke-width="0.6"/>
<path d="M127.80 16.80 C128.04 18.03 128.76 21.43 129.30 24.50 C129.84 27.57 130.75 32.08 131.20 36.00 C131.65 39.92 132.12 45.16 132.10 49.00 C132.08 52.84 131.42 56.64 131.10 60.00 C130.78 63.36 130.39 66.16 130.10 70.00 C129.81 73.84 129.49 79.36 129.30 84.00 C129.11 88.64 129.14 93.90 128.90 99.00 C128.66 104.10 127.98 113.20 127.80 115.90 L127.80 115.90 C127.62 113.20 126.94 104.10 126.70 99.00 C126.46 93.90 126.49 88.64 126.30 84.00 C126.11 79.36 125.79 73.84 125.50 70.00 C125.21 66.16 124.82 63.36 124.50 60.00 C124.18 56.64 123.52 52.84 123.50 49.00 C123.48 45.16 123.95 39.92 124.40 36.00 C124.85 32.08 125.76 27.57 126.30 24.50 C126.84 21.43 127.56 18.03 127.80 16.80 Z" fill="rgba(40,118,182,0.5)" stroke="#2e79bb" stroke-width="0.9"/>
<line x1="127.80" y1="31.87" x2="127.80" y2="89.83" stroke="#2e79bb" stroke-width="0.8" opacity="0.7"/>
<rect x="126.20" y="44.20" width="3.2" height="24.30" fill="rgba(36,112,178,0.75)" stroke="#2e79bb" stroke-width="0.6"/>
<path d="M152.10 40.10 C152.26 40.72 152.86 42.90 153.10 44.00 C153.34 45.10 153.49 45.98 153.60 47.00 C153.71 48.02 153.83 49.28 153.80 50.40 C153.77 51.52 153.51 52.62 153.40 54.00 C153.29 55.38 153.02 57.56 153.10 59.00 C153.18 60.44 153.50 61.72 153.90 63.00 C154.30 64.28 155.12 65.56 155.60 67.00 C156.08 68.44 156.64 70.40 156.90 72.00 C157.16 73.60 157.31 75.40 157.20 77.00 C157.09 78.60 156.66 80.48 156.20 82.00 C155.74 83.52 154.96 85.25 154.30 86.50 C153.64 87.75 152.45 89.27 152.10 89.80 L152.10 89.80 C151.75 89.27 150.56 87.75 149.90 86.50 C149.24 85.25 148.46 83.52 148.00 82.00 C147.54 80.48 147.11 78.60 147.00 77.00 C146.89 75.40 147.04 73.60 147.30 72.00 C147.56 70.40 148.12 68.44 148.60 67.00 C149.08 65.56 149.90 64.28 150.30 63.00 C150.70 61.72 151.02 60.44 151.10 59.00 C151.18 57.56 150.91 55.38 150.80 54.00 C150.69 52.62 150.43 51.52 150.40 50.40 C150.37 49.28 150.49 48.02 150.60 47.00 C150.71 45.98 150.86 45.10 151.10 44.00 C151.34 42.90 151.94 40.72 152.10 40.10 Z" fill="rgba(255,136,30,0.42)" stroke="#ff8417" stroke-width="0.9"/>
<line x1="152.10" y1="55.06" x2="152.10" y2="83.31" stroke="#ff8417" stroke-width="0.8" opacity="0.7"/>
<rect x="150.70" y="67.30" width="2.8" height="10.70" fill="rgba(255,128,20,0.75)" stroke="#ff8417" stroke-width="0.6"/>
<path d="M165.10 25.30 C165.31 26.85 165.92 31.53 166.40 35.00 C166.88 38.47 167.60 43.48 168.10 47.00 C168.60 50.52 169.18 54.02 169.50 57.00 C169.82 59.98 170.12 62.88 170.10 65.60 C170.08 68.32 169.75 71.54 169.40 74.00 C169.05 76.46 168.33 78.92 167.90 81.00 C167.47 83.08 166.97 85.24 166.70 87.00 C166.43 88.76 166.46 90.22 166.20 92.00 C165.94 93.78 165.28 97.12 165.10 98.10 L165.10 98.10 C164.92 97.12 164.26 93.78 164.00 92.00 C163.74 90.22 163.77 88.76 163.50 87.00 C163.23 85.24 162.73 83.08 162.30 81.00 C161.87 78.92 161.15 76.46 160.80 74.00 C160.45 71.54 160.12 68.32 160.10 65.60 C160.08 62.88 160.38 59.98 160.70 57.00 C161.02 54.02 161.60 50.52 162.10 47.00 C162.60 43.48 163.32 38.47 163.80 35.00 C164.28 31.53 164.89 26.85 165.10 25.30 Z" fill="rgba(40,118,182,0.5)" stroke="#2e79bb" stroke-width="0.9"/>
<line x1="165.10" y1="40.59" x2="165.10" y2="84.41" stroke="#2e79bb" stroke-width="0.8" opacity="0.7"/>
<rect x="163.50" y="53.10" width="3.2" height="20.10" fill="rgba(36,112,178,0.75)" stroke="#2e79bb" stroke-width="0.6"/>
<path d="M189.40 17.60 C189.56 19.10 190.05 23.58 190.40 27.00 C190.75 30.42 191.31 35.11 191.60 39.00 C191.89 42.89 192.17 47.14 192.20 51.30 C192.23 55.46 191.99 60.89 191.80 65.00 C191.61 69.11 191.21 73.64 191.00 77.00 C190.79 80.36 190.76 83.10 190.50 86.00 C190.24 88.90 189.58 93.64 189.40 95.10 L189.40 95.10 C189.22 93.64 188.56 88.90 188.30 86.00 C188.04 83.10 188.01 80.36 187.80 77.00 C187.59 73.64 187.19 69.11 187.00 65.00 C186.81 60.89 186.57 55.46 186.60 51.30 C186.63 47.14 186.91 42.89 187.20 39.00 C187.49 35.11 188.05 30.42 188.40 27.00 C188.75 23.58 189.24 19.10 189.40 17.60 Z" fill="rgba(255,136,30,0.42)" stroke="#ff8417" stroke-width="0.9"/>
<line x1="189.40" y1="30.31" x2="189.40" y2="77.88" stroke="#ff8417" stroke-width="0.8" opacity="0.7"/>
<rect x="187.90" y="40.70" width="3" height="23.10" fill="rgba(255,128,20,0.75)" stroke="#ff8417" stroke-width="0.6"/>
<path d="M202.40 30.00 C202.61 31.28 203.25 35.12 203.70 38.00 C204.15 40.88 204.74 44.80 205.20 48.00 C205.66 51.20 206.25 54.24 206.60 58.00 C206.95 61.76 207.38 68.14 207.40 71.50 C207.42 74.86 207.05 76.84 206.70 79.00 C206.35 81.16 205.63 83.24 205.20 85.00 C204.77 86.76 204.27 88.40 204.00 90.00 C203.73 91.60 203.76 93.13 203.50 95.00 C203.24 96.87 202.58 100.63 202.40 101.70 L202.40 101.70 C202.22 100.63 201.56 96.87 201.30 95.00 C201.04 93.13 201.07 91.60 200.80 90.00 C200.53 88.40 200.03 86.76 199.60 85.00 C199.17 83.24 198.45 81.16 198.10 79.00 C197.75 76.84 197.38 74.86 197.40 71.50 C197.42 68.14 197.85 61.76 198.20 58.00 C198.55 54.24 199.14 51.20 199.60 48.00 C200.06 44.80 200.65 40.88 201.10 38.00 C201.55 35.12 202.19 31.28 202.40 30.00 Z" fill="rgba(40,118,182,0.5)" stroke="#2e79bb" stroke-width="0.9"/>
<line x1="202.40" y1="41.44" x2="202.40" y2="87.79" stroke="#2e79bb" stroke-width="0.8" opacity="0.7"/>
<rect x="200.80" y="50.80" width="3.2" height="25.60" fill="rgba(36,112,178,0.75)" stroke="#2e79bb" stroke-width="0.6"/>
<path d="M9.5 91.5 H106.5 L108 90.5 H211" stroke="#9a9a9a" stroke-width="1" fill="none"/></svg>
<div class="t" style="left:719.00px;width:150px;text-align:right;top:942.60px;font-size:8.1px;font-weight:400;color:#454a55">MM Group - State4</div>


<!-- RIGHT PANEL CONTENT -->
<div class="t" style="left:962.9px;top:155.5px;font-size:10px;font-weight:700;color:#3a3f55">Settings</div>
<div class="a" style="left:961.5px;top:169.2px;width:43px;height:2px;background:#3d4560"></div>
<div class="t" style="left:1015.2px;top:155.5px;font-size:10.2px;color:#cfcfd3">Cell Lineage</div>
<div class="a" style="left:1016px;top:169.5px;width:57px;height:1.5px;background:#dcd6d9"></div>
<div class="t" style="left:1085.4px;top:156px;font-size:10.2px;letter-spacing:-0.2px;color:#cfcfd3">Filters</div>
<div class="a" style="left:1084px;top:169.5px;width:30px;height:1.5px;background:#dfdfe3"></div>
<div class="t" style="left:1125px;top:155.5px;font-size:10.35px;color:#cfcfd3">Transforms</div>
<div class="a" style="left:1125px;top:169.5px;width:56px;height:1.5px;background:#dfdfe3"></div>

<div class="t" style="left:963.5px;top:187.50px;font-size:8.4px;font-weight:700;color:#33363f">Plot Settings</div>
<div class="t" style="left:963.5px;top:206.20px;font-size:8.6px;font-weight:700;color:#33363f">Plot Name</div>
<div class="a" style="left:964.2px;top:219.2px;width:212.5px;height:23.5px;border:1px solid #c9d5e2;border-radius:2px"></div>
<div class="t" style="left:975.4px;top:227px;font-size:8.7px;color:#4f535c">Baseline(day 0) Frequency</div>

<div class="t" style="left:964.2px;top:264.10px;font-size:8.6px;font-weight:700;color:#33363f">Visible Search Group(s)</div>
<div class="a" style="left:964px;top:280.3px;width:15.8px;height:14.6px;border:1.2px solid #c8ccd2;border-radius:3px"></div>
<div class="a" style="left:964px;top:299px;width:15.8px;height:14.6px;border:1.2px solid #c8ccd2;border-radius:3px"></div>
<div class="a" style="left:964px;top:318.3px;width:15.8px;height:14.6px;border:1.2px solid #c8ccd2;border-radius:3px"></div>
<svg style="left:964.2px;top:280.6px" width="16" height="14" viewBox="0 0 16 14"><path d="M3.6 7 L6.6 10 L12 3.8" stroke="#33aecb" stroke-width="1.9" fill="none"/></svg>
<svg style="left:964.2px;top:299.4px" width="16" height="14" viewBox="0 0 16 14"><path d="M3.6 7 L6.6 10 L12 3.8" stroke="#33aecb" stroke-width="1.9" fill="none"/></svg>
<svg style="left:964.2px;top:318.7px" width="16" height="14" viewBox="0 0 16 14"><path d="M4 3.2 L12 11.4 M12 3.2 L4 11.4" stroke="#7d8188" stroke-width="1.2" fill="none"/></svg>
<div class="t" style="left:989.6px;top:285.3px;font-size:8.1px;color:#3ab0cd">MM Group</div>
<div class="t" style="left:989.6px;top:303.5px;font-size:8.1px;color:#3ab0cd">Healthy Group</div>
<div class="t" style="left:989px;top:322.8px;font-size:8.1px;color:#9ea1a6">Some Third Group not selected</div>
<div class="a" style="left:964px;top:350.5px;width:213px;height:1px;background:#e6e9ec"></div>

<div class="t" style="left:966px;top:372.80px;font-size:8.3px;font-weight:700;color:#33363f">Field Options</div>
<div class="a" style="left:965px;top:388.2px;width:213.5px;height:24.4px;border:1px solid #c9d5e2;border-radius:2px"></div>
<div class="a" style="left:965px;top:420.4px;width:213.5px;height:24.4px;border:1px solid #c9d5e2;border-radius:2px"></div>
<div class="a" style="left:965px;top:452.3px;width:213.5px;height:24px;border:1px solid #c9d5e2;border-radius:2px"></div>
<div class="t" style="left:977.7px;top:397.7px;font-size:8.1px;color:#555961">X Axis: <span style="color:#39adc9">Population</span></div>
<div class="t" style="left:977.7px;top:429.4px;font-size:8.1px;color:#555961">Y Axis: <span style="color:#39adc9">% CD45</span></div>
<div class="t" style="left:977.7px;top:461.5px;font-size:8.1px;color:#555961">Z Axis: <span style="color:#39adc9;letter-spacing:-0.2px">--------</span></div>
<svg style="left:1157.5px;top:398px" width="8" height="5" viewBox="0 0 8 5"><path d="M1 1 L4 4 L7 1" stroke="#3b3f48" stroke-width="1.3" fill="none"/></svg><svg style="left:1157.5px;top:430px" width="8" height="5" viewBox="0 0 8 5"><path d="M1 1 L4 4 L7 1" stroke="#3b3f48" stroke-width="1.3" fill="none"/></svg><svg style="left:1157.5px;top:462px" width="8" height="5" viewBox="0 0 8 5"><path d="M1 1 L4 4 L7 1" stroke="#3b3f48" stroke-width="1.3" fill="none"/></svg>

<div class="t" style="left:967px;top:497.00px;font-size:8.25px;font-weight:700;color:#44474f">Field Colors</div>
<div class="a" style="left:966.90px;top:512.50px;width:15px;height:15px;border-radius:50%;background:#d36fb4;"></div><div class="a" style="left:994.50px;top:512.50px;width:15px;height:15px;border-radius:50%;background:#45b99b;"></div><div class="a" style="left:1022.70px;top:512.50px;width:15px;height:15px;border-radius:50%;background:#5592c8;border:2.2px solid #2b2b2b;box-shadow:1px 1.5px 2px rgba(0,0,0,0.3)"></div><div class="a" style="left:1051.25px;top:512.50px;width:15px;height:15px;border-radius:50%;background:#fbc65a;"></div><div class="a" style="left:1079.50px;top:512.50px;width:15px;height:15px;border-radius:50%;background:#f68f45;border:2.2px solid #2b2b2b;box-shadow:1px 1.5px 2px rgba(0,0,0,0.3)"></div><div class="a" style="left:1108.10px;top:512.50px;width:15px;height:15px;border-radius:50%;background:#7a70c5;"></div><div class="a" style="left:1135.20px;top:512.50px;width:15px;height:15px;border-radius:50%;background:#7dce4e;"></div><div class="a" style="left:1160.20px;top:512.50px;width:15px;height:15px;border-radius:50%;background:#e05a5a;"></div><div class="a" style="left:966.90px;top:532.50px;width:15px;height:15px;border-radius:50%;background:#707070;"></div><div class="a" style="left:994.50px;top:532.50px;width:15px;height:15px;border-radius:50%;background:#d7be8c;"></div><div class="a" style="left:1022.70px;top:532.50px;width:15px;height:15px;border-radius:50%;background:#33587a;"></div><div class="a" style="left:1051.25px;top:532.50px;width:15px;height:15px;border-radius:50%;background:#c8267f;"></div><div class="a" style="left:1079.50px;top:532.50px;width:15px;height:15px;border-radius:50%;background:#48d48e;"></div><div class="a" style="left:1108.10px;top:532.50px;width:15px;height:15px;border-radius:50%;background:#cadc8b;"></div><div class="a" style="left:1135.20px;top:532.50px;width:15px;height:15px;border-radius:50%;background:#a29ff8;"></div><div class="a" style="left:1160.20px;top:532.50px;width:15px;height:15px;border-radius:50%;background:#53d7fb;"></div>
<div class="a" style="left:964.5px;top:564px;width:213.5px;height:1px;background:#e6e9ec"></div>

<div class="t" style="left:966px;top:589.20px;font-size:8.7px;font-weight:700;color:#33363f">Highlight Data</div>
<div class="a" style="left:965.6px;top:606.7px;width:213px;height:24.3px;border:1px solid #c9d5e2;border-radius:2px"></div>
<div class="t" style="left:978.5px;top:616.3px;font-size:8.1px;color:#555961">Highlight data: <span style="color:#39adc9">Subject GUID</span></div>
<svg style="left:1158px;top:617px" width="8" height="5" viewBox="0 0 8 5"><path d="M1 1 L4 4 L7 1" stroke="#3b3f48" stroke-width="1.3" fill="none"/></svg>
<div class="t" style="left:966.5px;top:650.20px;font-size:8.45px;font-weight:700;color:#44474f">Highlight Color</div>
<div class="a" style="left:967.50px;top:666.90px;width:15px;height:15px;border-radius:50%;background:#ffc555;"></div><div class="a" style="left:995.00px;top:666.90px;width:15px;height:15px;border-radius:50%;background:#68e1fd;"></div><div class="a" style="left:1023.30px;top:666.90px;width:15px;height:15px;border-radius:50%;background:#6cf3b0;border:2.2px solid #2b2b2b;box-shadow:1px 1.5px 2px rgba(0,0,0,0.3)"></div>
<div class="a" style="left:964.5px;top:696px;width:213.5px;height:1px;background:#e6e9ec"></div>

<div class="t" style="left:965.2px;top:721.30px;font-size:8.76px;font-weight:700;color:#33363f">Metadata Filters</div>
<div class="a" style="left:965.2px;top:738.5px;width:213.3px;height:52.7px;border:1px solid #c9d5e2;border-radius:2px"></div>
<div class="a" style="left:966px;top:764.2px;width:212px;height:0;border-top:1px dashed #d9cfd8"></div>
<svg style="left:973px;top:745.5px" width="12" height="11" viewBox="0 0 12 11"><circle cx="4.6" cy="4.6" r="3.7" stroke="#7d8289" stroke-width="1.2" fill="none"/><path d="M7.3 7.3 L10.8 10.6" stroke="#7d8289" stroke-width="1.4"/></svg>
<div class="t" style="left:992.7px;top:747.8px;font-size:8.06px;font-style:italic;color:#a4a7ac">Filter by metadata....</div>
<svg style="left:1157.5px;top:748px" width="8" height="5" viewBox="0 0 8 5"><path d="M1 1 L4 4 L7 1" stroke="#3b3f48" stroke-width="1.3" fill="none"/></svg>
<div class="a" style="left:972.9px;top:769.4px;width:49px;height:16.6px;border-radius:2px;background:#3cb8d0"></div>
<div class="t" style="left:980.8px;top:774px;font-size:8.5px;color:#fff">ABC</div>
<svg style="left:1009.5px;top:773.5px" width="8" height="8" viewBox="0 0 8 8"><path d="M1 1 L7 7 M7 1 L1 7" stroke="#fff" stroke-width="1.3"/></svg>
<div class="a" style="left:964.5px;top:811px;width:213.5px;height:1px;background:#e6e9ec"></div>

</body></html>
